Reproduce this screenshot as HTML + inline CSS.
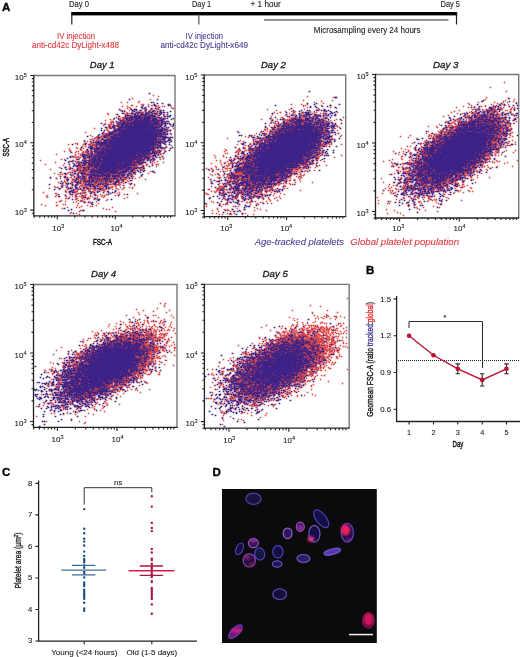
<!DOCTYPE html>
<html><head><meta charset="utf-8"><style>
html,body{margin:0;padding:0;background:#fff;width:520px;height:657px;overflow:hidden}
svg{display:block;font-family:"Liberation Sans", sans-serif;will-change:transform}
</style></head><body>
<svg width="520" height="657" viewBox="0 0 520 657">
<text x="2.0" y="10.6" font-size="11.5" fill="#000" stroke="#000" stroke-width="0.35" font-weight="bold">A</text>
<text x="366.0" y="273.8" font-size="11.5" fill="#000" stroke="#000" stroke-width="0.35" font-weight="bold">B</text>
<text x="2.0" y="475.8" font-size="11.5" fill="#000" stroke="#000" stroke-width="0.35" font-weight="bold">C</text>
<text x="212.6" y="475.8" font-size="11.5" fill="#000" stroke="#000" stroke-width="0.35" font-weight="bold">D</text>
<rect x="71.2" y="12" width="386" height="3.4" fill="#000"/>
<rect x="71.2" y="12" width="1.2" height="12.5" fill="#222"/>
<rect x="198.3" y="14" width="1.1" height="10.5" fill="#444"/>
<rect x="455.9" y="12" width="1.2" height="12.5" fill="#222"/>
<rect x="264" y="19" width="184.5" height="1.8" fill="#888"/>
<text x="69" y="7.2" font-size="8.2" fill="#1a1a1a" stroke="#1a1a1a" stroke-width="0.1" textLength="20" lengthAdjust="spacingAndGlyphs">Day 0</text>
<text x="192" y="7.2" font-size="8.2" fill="#1a1a1a" stroke="#1a1a1a" stroke-width="0.1" textLength="19.2" lengthAdjust="spacingAndGlyphs">Day 1</text>
<text x="250.5" y="7.2" font-size="8.2" fill="#1a1a1a" stroke="#1a1a1a" stroke-width="0.1">+ 1 hour</text>
<text x="440.5" y="7.2" font-size="8.2" fill="#1a1a1a" stroke="#1a1a1a" stroke-width="0.1" textLength="19.5" lengthAdjust="spacingAndGlyphs">Day 5</text>
<text x="57" y="38.5" font-size="8.2" fill="#e2343a" stroke="#e2343a" stroke-width="0.1" textLength="38" lengthAdjust="spacingAndGlyphs">IV injection</text>
<text x="32" y="47.6" font-size="8.2" fill="#e2343a" stroke="#e2343a" stroke-width="0.1" textLength="87" lengthAdjust="spacingAndGlyphs">anti-cd42c DyLight-x488</text>
<text x="185.6" y="38.5" font-size="8.2" fill="#443c96" stroke="#443c96" stroke-width="0.1" textLength="37.4" lengthAdjust="spacingAndGlyphs">IV injection</text>
<text x="160.4" y="47.6" font-size="8.2" fill="#443c96" stroke="#443c96" stroke-width="0.1" textLength="87.6" lengthAdjust="spacingAndGlyphs">anti-cd42c DyLight-x649</text>
<text x="313.8" y="33.2" font-size="8.2" fill="#1a1a1a" stroke="#1a1a1a" stroke-width="0.1" textLength="106.7" lengthAdjust="spacingAndGlyphs">Microsampling every 24 hours</text>
<text x="89.8" y="68" font-size="9.6" fill="#1a1a1a" stroke="#1a1a1a" stroke-width="0.3" font-style="italic" textLength="24.7" lengthAdjust="spacingAndGlyphs">Day 1</text>
<g transform="translate(.5 .5)">
<path d="M132 98h0m18 1h0m-11 2h0m-1 1h0m5 2h0m-11 1h0m19 0h1m-16 1h0m28 0h0m-34 2h0m15 0h0m7 0h0m-1 1h0m-30 1h0m8 0h0m4 0h0m17 0h0m-12 1h0m7 0h0m7 0h0m5 1h0m3 0h0m-37 1h1m3 0h0m2 0h0m8 0h0m3 0h1m7 0h1m7 0h0m-31 1h0m2 0h0m7 0h0m3 0h0m3 0h0m2 0h0m4 0h0m11 0h0m6 0h1m-38 1h0m8 0h0m4 0h0m6 0h0m3 0h0m2 0h0m5 0h0m5 0h0m-41 1h0m37 0h0m-33 1h0m7 0h0m8 0h0m9 0h1m-27 1h0m8 0h1m5 0h0m2 0h1m4 0h0m6 0h0m5 0h0m2 0h0m5 0h0m-49 1h0m8 0h0m8 0h0m3 0h0m3 0h0m2 0h0m5 0h0m7 0h2m10 0h0m5 0h0m-42 1h0m4 0h0m7 0h1m3 0h3m2 0h2m2 0h0m2 0h2m2 0h1m5 0h1m2 0h0m-48 1h0m9 0h0m5 0h1m2 0h2m5 0h0m2 0h0m3 0h0m3 0h0m2 0h0m2 0h0m2 0h0m6 0h0m-46 1h1m9 0h0m2 0h0m2 0h0m6 0h1m5 0h0m2 0h0m5 0h1m3 0h3m8 0h1m-54 1h0m6 0h0m12 0h1m2 0h0m2 0h1m2 0h1m2 0h0m3 0h0m2 0h0m2 0h0m2 0h3m2 0h1m2 0h0m2 0h0m2 0h1m3 0h0m4 0h1m9 0h0m-60 1h0m13 0h0m2 0h0m3 0h6m3 0h1m3 0h1m5 0h1m2 0h0m4 0h0m2 0h0m-45 1h0m3 0h0m2 0h0m2 0h1m3 0h1m3 0h5m2 0h0m8 0h6m2 0h2m3 0h0m3 0h0m5 0h0m5 0h0m-61 1h1m9 0h0m2 0h1m2 0h2m3 0h0m5 0h1m3 0h6m2 0h3m2 0h2m3 0h2m3 0h0m-52 1h0m5 0h0m9 0h6m3 0h2m2 0h4m2 0h1m2 0h0m2 0h0m4 0h0m2 0h0m2 0h0m4 0h0m-48 1h0m7 0h16m2 0h4m2 0h6m2 0h0m3 0h0m8 0h0m12 0h0m-56 1h1m2 0h2m3 0h0m2 0h10m3 0h0m2 0h2m2 0h3m3 0h0m2 0h0m3 0h0m2 0h0m-52 1h0m7 0h4m3 0h3m2 0h13m2 0h1m2 0h5m2 0h0m2 0h1m5 0h0m9 0h1m-61 1h0m4 0h2m2 0h5m2 0h2m2 0h1m2 0h15m2 0h2m2 0h0m3 0h0m4 0h1m-56 1h0m7 0h0m2 0h0m2 0h0m3 0h0m2 0h2m2 0h0m2 0h9m2 0h9m2 0h1m3 0h1m3 0h1m4 0h0m-54 1h0m2 0h0m2 0h0m3 0h0m3 0h1m3 0h11m2 0h13m3 0h2m3 0h1m4 0h0m2 0h0m-59 1h0m3 0h0m4 0h0m2 0h0m2 0h0m2 0h12m2 0h16m2 0h2m2 0h2m3 0h1m3 0h0m4 0h1m-75 1h0m16 0h0m4 0h0m3 0h1m3 0h25m2 0h4m3 0h1m2 0h0m6 0h0m-63 1h1m10 0h2m2 0h0m2 0h31m2 0h6m2 0h1m4 0h0m-60 1h0m11 0h0m5 0h7m2 0h11m2 0h6m2 0h4m2 0h0m2 0h1m7 0h0m2 0h0m-66 1h1m9 0h0m2 0h0m2 0h1m2 0h21m2 0h10m2 0h0m2 0h1m2 0h0m7 0h1m-73 1h1m11 0h1m5 0h2m2 0h0m2 0h0m4 0h6m2 0h19m2 0h4m2 0h0m7 0h0m3 0h0m-79 1h0m12 0h0m2 0h0m7 0h0m5 0h8m2 0h19m2 0h3m2 0h3m2 0h0m3 0h1m3 0h0m12 0h0m-69 1h0m4 0h0m2 0h2m2 0h1m3 0h4m2 0h4m2 0h20m4 0h0m3 0h0m2 0h1m9 0h1m-68 1h0m6 0h2m3 0h3m2 0h1m2 0h7m2 0h17m2 0h4m2 0h0m2 0h1m2 0h0m8 0h0m-88 1h0m8 0h1m14 0h0m3 0h1m2 0h0m4 0h8m2 0h0m2 0h11m2 0h7m2 0h2m3 0h1m2 0h0m2 0h0m-86 1h0m15 0h0m10 0h1m2 0h0m3 0h0m6 0h0m2 0h4m2 0h0m2 0h28m2 0h4m2 0h0m5 0h0m-58 1h0m2 0h1m2 0h1m3 0h2m2 0h2m2 0h4m3 0h28m2 0h0m3 0h0m2 0h0m14 0h0m-86 1h0m17 0h0m2 0h0m2 0h5m2 0h0m2 0h0m2 0h3m2 0h16m2 0h5m2 0h1m3 0h2m13 0h0m-90 1h0m18 0h0m2 0h1m4 0h0m2 0h9m2 0h25m2 0h3m2 0h2m6 0h1m2 0h1m-89 1h0m8 0h0m4 0h0m14 0h0m2 0h1m4 0h0m2 0h1m2 0h2m2 0h3m2 0h0m2 0h0m2 0h1m2 0h22m3 0h0m2 0h0m11 0h0m3 0h0m-74 1h0m9 0h1m5 0h37m2 0h1m3 0h1m5 0h0m-85 1h1m21 0h0m7 0h3m3 0h2m4 0h11m2 0h1m2 0h15m2 0h0m2 0h0m3 0h0m-84 1h0m14 0h0m8 0h0m6 0h0m4 0h0m4 0h0m2 0h1m2 0h0m2 0h10m2 0h4m2 0h4m2 0h3m2 0h5m3 0h0m10 0h0m4 0h1m-77 1h0m8 0h2m4 0h1m3 0h0m2 0h0m2 0h2m2 0h3m2 0h1m2 0h27m2 0h0m2 0h0m6 0h1m10 0h0m-86 1h0m4 0h0m13 0h0m4 0h2m3 0h5m2 0h1m2 0h7m2 0h0m2 0h4m2 0h6m2 0h2m2 0h4m6 0h0m-97 1h0m19 0h0m5 0h0m4 0h0m3 0h0m5 0h4m2 0h31m2 0h8m2 0h3m2 0h0m2 0h1m-74 1h0m5 0h0m2 0h0m6 0h0m6 0h3m2 0h0m2 0h6m3 0h0m2 0h1m2 0h8m2 0h1m3 0h1m2 0h8m2 0h0m2 0h0m2 0h0m6 0h0m3 0h0m-72 1h0m7 0h0m4 0h0m3 0h2m2 0h14m2 0h4m2 0h4m2 0h0m3 0h9m3 0h0m5 0h0m3 0h1m-80 1h0m5 0h0m9 0h0m2 0h0m2 0h0m3 0h0m4 0h7m2 0h0m3 0h2m2 0h8m2 0h11m2 0h1m2 0h0m6 0h0m2 0h0m-69 1h0m4 0h0m6 0h2m2 0h2m3 0h0m2 0h1m2 0h0m2 0h4m2 0h2m2 0h2m2 0h3m2 0h3m2 0h2m2 0h2m2 0h0m2 0h0m2 0h0m3 0h0m5 0h0m-88 1h0m3 0h0m12 0h0m13 0h3m2 0h3m2 0h1m3 0h8m2 0h4m2 0h4m3 0h11m5 0h2m4 0h0m5 0h0m7 0h0m-87 1h0m11 0h0m2 0h0m2 0h1m3 0h0m2 0h1m2 0h0m2 0h12m2 0h12m2 0h10m2 0h1m3 0h0m4 0h0m-77 1h0m8 0h0m6 0h0m6 0h1m3 0h0m2 0h5m2 0h2m2 0h0m2 0h4m2 0h2m2 0h0m3 0h6m5 0h3m3 0h0m13 0h0m-97 1h0m22 0h0m2 0h0m10 0h0m3 0h3m2 0h0m2 0h7m2 0h2m3 0h4m2 0h6m2 0h1m2 0h1m2 0h1m2 0h0m2 0h0m2 0h2m3 0h0m18 0h0m-99 1h0m14 0h0m6 0h0m2 0h0m3 0h1m4 0h2m2 0h1m2 0h1m2 0h4m2 0h2m2 0h14m2 0h0m2 0h0m2 0h2m5 0h0m11 0h0m-73 1h2m7 0h1m2 0h1m3 0h3m2 0h2m2 0h6m2 0h0m2 0h5m2 0h7m2 0h2m4 0h0m5 0h0m5 0h1m11 0h0m-95 1h0m12 0h0m2 0h0m5 0h2m2 0h1m4 0h2m2 0h0m2 0h0m3 0h4m2 0h2m2 0h1m2 0h2m2 0h7m6 0h0m3 0h4m6 0h0m3 0h0m-77 1h0m20 0h0m8 0h4m2 0h0m2 0h10m5 0h0m3 0h0m3 0h2m5 0h2m8 0h0m13 0h0m-86 1h0m9 0h0m2 0h0m4 0h1m4 0h1m4 0h0m2 0h10m2 0h2m4 0h5m3 0h1m8 0h0m2 0h0m3 0h0m-60 1h0m2 0h1m3 0h3m4 0h2m2 0h0m3 0h1m2 0h4m2 0h2m3 0h1m2 0h0m3 0h1m4 0h1m4 0h0m4 0h0m6 0h0m3 0h0m4 0h0m-94 1h0m27 0h3m4 0h0m4 0h1m3 0h0m3 0h2m2 0h10m2 0h8m5 0h0m8 0h0m9 0h0m-67 1h0m5 0h0m4 0h0m2 0h1m4 0h15m2 0h0m3 0h2m5 0h0m4 0h6m5 0h0m2 0h1m7 0h0m-63 1h0m4 0h1m2 0h0m2 0h0m2 0h0m4 0h2m2 0h0m3 0h1m2 0h2m3 0h1m2 0h0m2 0h1m4 0h2m2 0h0m5 0h0m3 0h2m20 0h0m-85 1h0m10 0h2m2 0h0m3 0h0m4 0h0m2 0h1m4 0h0m3 0h3m2 0h1m2 0h0m2 0h0m2 0h0m2 0h1m2 0h0m3 0h0m7 0h0m-39 1h0m9 0h1m3 0h1m2 0h2m2 0h0m3 0h0m2 0h0m5 0h0m4 0h0m8 0h0m19 0h0m-90 1h0m2 0h0m5 0h0m20 0h1m2 0h1m2 0h0m2 0h0m2 0h0m6 0h0m2 0h0m2 0h4m5 0h0m2 0h2m3 0h0m-44 1h0m11 0h0m2 0h2m2 0h3m2 0h0m2 0h0m4 0h0m3 0h0m2 0h0m3 0h0m3 0h0m2 0h0m3 0h0m9 0h0m2 0h0m-68 1h0m18 0h0m2 0h0m2 0h0m5 0h0m2 0h2m5 0h1m3 0h0m3 0h0m3 0h0m5 0h3m13 0h0m2 0h0m-66 1h0m12 0h0m4 0h0m2 0h1m2 0h1m4 0h0m2 0h0m3 0h0m2 0h0m3 0h0m3 0h0m2 0h0m7 0h0m6 0h1m6 0h1m-79 1h0m10 0h0m19 0h0m3 0h0m8 0h6m2 0h0m2 0h0m2 0h2m2 0h1m3 0h0m5 0h0m11 0h0m9 0h0m-69 1h1m5 0h0m2 0h0m10 0h0m4 0h0m2 0h0m3 0h0m7 0h3m5 0h0m2 0h1m2 0h0m2 0h1m8 0h0m-57 1h0m14 0h1m3 0h2m4 0h3m4 0h0m2 0h1m2 0h0m3 0h0m2 0h1m2 0h1m6 0h0m4 0h1m-40 1h0m4 0h0m2 0h0m3 0h0m3 0h2m8 0h0m18 0h0m5 0h0m-50 1h0m6 0h0m7 0h0m7 0h0m2 0h1m4 0h1m9 0h0m4 0h0m7 0h0m-60 1h0m13 0h0m4 0h1m4 0h0m3 0h0m4 0h0m2 0h1m7 0h1m2 0h0m5 0h0m-38 1h0m7 0h0m5 0h0m4 0h0m2 0h1m4 0h0m5 0h1m3 0h4m9 0h0m-36 1h0m4 0h0m7 0h0m2 0h0m8 0h0m11 0h0m3 0h0m-65 1h0m27 0h0m9 0h0m4 0h0m21 0h0m-45 1h0m2 0h0m7 0h0m24 0h0m9 0h0m8 0h0m12 0h0m-72 1h0m8 0h1m15 0h0m4 0h0m18 0h0m17 0h0m-64 1h0m21 0h1m2 0h0m5 0h0m5 0h0m6 0h1m5 0h0m-16 1h0m6 0h0m-29 1h0m4 0h0m6 0h0m12 0h1m3 0h1m11 0h0m4 0h0m-42 1h0m3 0h0m4 0h0m2 0h0m9 0h0m9 0h0m21 0h0m5 0h0m-49 1h0m7 0h1m4 0h0m9 0h0m46 0h0m-67 1h0m16 0h0m9 0h0m5 0h0m6 0h0m13 0h0m-72 1h0m9 0h0m9 0h0m20 0h0m19 0h0m-58 1h0m12 0h0m21 0h0m4 0h0m2 0h0m7 0h0m-45 1h0m22 0h0m15 0h1m3 0h0m-11 1h0m5 0h0m6 0h1m-14 1h1m11 0h0m11 0h0m9 0h0m-26 1h0m-22 1h0m6 0h0m15 0h0m4 0h0m12 0h0m-55 3h0m22 0h0m-18 1h0m12 0h0m35 1h0m-16 1h0m3 0h0m33 0h0m-50 1h0m47 1h0m-28 1h0m-2 1h0m36 0h0" stroke="#e04846" stroke-width="1.55" stroke-linecap="square" fill="none"/>
<path d="M149 93h0m8 6h0m-4 3h0m4 1h0m-3 1h0m-12 1h0m13 0h0m13 0h0m-26 1h0m6 0h0m8 0h0m-11 1h0m14 0h0m-4 1h0m-36 1h0m15 0h1m11 0h0m-14 1h0m4 0h0m9 0h0m8 0h1m-30 1h0m8 0h0m2 0h0m19 0h0m7 0h0m-28 1h0m4 0h0m5 0h1m6 0h0m2 0h1m9 0h1m3 0h0m3 0h0m-45 1h0m5 0h0m4 0h1m6 0h0m3 0h1m4 0h0m6 0h0m9 0h0m-44 1h0m17 0h0m7 0h0m2 0h0m2 0h1m2 0h0m7 0h0m5 0h0m-30 1h0m4 0h0m2 0h2m4 0h0m4 0h0m4 0h0m2 0h0m3 0h0m3 0h0m12 0h0m-51 1h0m6 0h0m5 0h2m3 0h1m2 0h0m2 0h0m2 0h0m2 0h2m3 0h0m4 0h0m11 0h0m5 0h0m-42 1h0m2 0h0m2 0h0m2 0h1m2 0h11m2 0h0m2 0h0m3 0h0m3 0h2m2 0h0m-38 1h1m3 0h0m2 0h0m4 0h0m2 0h2m2 0h3m3 0h0m3 0h1m4 0h1m2 0h0m4 0h0m5 0h0m2 0h0m6 0h0m-50 1h0m3 0h1m5 0h2m2 0h0m4 0h3m4 0h0m6 0h2m6 0h0m10 0h0m-51 1h0m5 0h0m3 0h6m2 0h2m2 0h4m2 0h4m2 0h1m2 0h0m3 0h4m-46 1h0m5 0h0m3 0h0m2 0h1m2 0h2m2 0h8m2 0h0m2 0h0m3 0h1m3 0h1m3 0h0m2 0h0m8 0h1m-54 1h0m10 0h0m2 0h0m3 0h0m2 0h1m2 0h11m2 0h12m3 0h1m3 0h0m-64 1h0m18 0h2m2 0h13m2 0h4m2 0h14m3 0h0m4 0h0m-61 1h0m14 0h0m2 0h1m2 0h1m2 0h1m3 0h22m2 0h4m3 0h1m3 0h0m5 0h0m-61 1h0m7 0h1m5 0h1m2 0h6m4 0h12m2 0h10m14 0h0m-59 1h0m4 0h0m4 0h0m2 0h4m2 0h28m6 0h0m-59 1h0m4 0h0m3 0h0m7 0h2m2 0h2m2 0h0m3 0h23m2 0h0m2 0h2m3 0h0m6 0h0m-67 1h0m9 0h0m4 0h0m4 0h34m2 0h3m5 0h0m2 0h0m-50 1h0m2 0h2m2 0h12m2 0h15m2 0h4m2 0h0m4 0h1m4 0h1m-66 1h0m3 0h0m11 0h0m2 0h2m3 0h24m2 0h3m3 0h1m2 0h2m4 0h1m2 0h0m-52 1h0m2 0h1m3 0h0m5 0h27m2 0h7m-51 1h2m5 0h0m3 0h0m2 0h32m2 0h0m2 0h0m4 0h3m-63 1h0m6 0h0m2 0h0m3 0h0m3 0h0m2 0h37m2 0h1m2 0h0m2 0h0m5 0h0m3 0h0m-63 1h0m2 0h2m2 0h0m2 0h1m2 0h36m2 0h5m-58 1h1m2 0h0m3 0h0m4 0h0m2 0h45m2 0h0m-75 1h0m14 0h0m6 0h0m2 0h0m3 0h0m2 0h2m2 0h4m2 0h32m2 0h5m2 0h0m-69 1h3m3 0h0m2 0h1m5 0h0m3 0h1m2 0h0m2 0h0m2 0h0m3 0h32m2 0h0m3 0h0m3 0h1m2 0h0m6 0h0m-78 1h0m8 0h0m6 0h10m3 0h32m2 0h3m4 0h1m2 0h0m4 0h0m-68 1h2m3 0h1m3 0h0m2 0h1m2 0h4m2 0h37m2 0h0m2 0h0m2 0h0m4 0h0m2 0h0m-77 1h0m7 0h0m8 0h3m2 0h44m4 0h0m3 0h0m4 0h1m-85 1h0m6 0h0m6 0h0m8 0h0m2 0h1m2 0h9m2 0h28m2 0h6m2 0h1m2 0h0m2 0h0m2 0h1m5 0h0m-80 1h0m2 0h0m2 0h0m2 0h0m2 0h0m2 0h0m2 0h0m3 0h0m2 0h10m2 0h31m2 0h1m3 0h1m2 0h0m-75 1h0m11 0h0m2 0h5m3 0h44m3 0h1m2 0h2m5 0h1m-92 1h0m20 0h0m2 0h0m3 0h0m2 0h0m2 0h0m2 0h2m2 0h1m2 0h43m4 0h0m3 0h0m5 0h0m4 0h0m-80 1h0m3 0h0m2 0h0m2 0h0m4 0h0m2 0h2m2 0h0m2 0h6m2 0h35m2 0h0m5 0h2m-70 1h1m13 0h0m3 0h46m2 0h0m3 0h0m2 0h0m-79 1h0m9 0h0m7 0h3m5 0h1m3 0h5m2 0h0m2 0h30m2 0h0m2 0h1m3 0h0m6 0h0m3 0h0m7 0h0m-82 1h1m2 0h1m2 0h0m2 0h2m3 0h0m2 0h2m2 0h41m3 0h2m2 0h0m4 0h0m9 0h0m-90 1h0m7 0h0m7 0h0m3 0h2m2 0h0m4 0h30m2 0h15m2 0h0m-67 1h0m7 0h1m3 0h3m3 0h1m2 0h9m2 0h3m2 0h14m2 0h4m2 0h4m3 0h1m4 0h2m10 0h0m-81 1h0m6 0h2m2 0h0m2 0h9m3 0h20m2 0h11m2 0h0m2 0h0m3 0h1m5 0h0m-71 1h0m8 0h0m3 0h0m2 0h2m2 0h0m2 0h16m2 0h23m2 0h0m4 0h1m3 0h0m-69 1h0m2 0h0m2 0h0m3 0h0m2 0h0m2 0h3m2 0h0m4 0h2m2 0h24m2 0h8m2 0h0m2 0h1m3 0h0m2 0h0m7 0h0m-80 1h1m4 0h0m3 0h1m5 0h0m4 0h2m2 0h5m2 0h17m2 0h5m2 0h2m2 0h1m3 0h4m4 0h1m-73 1h0m4 0h0m2 0h0m2 0h1m4 0h0m2 0h0m2 0h1m4 0h0m2 0h4m2 0h18m2 0h6m2 0h6m3 0h0m5 0h0m-84 1h0m12 0h0m2 0h0m5 0h2m2 0h0m2 0h2m4 0h7m2 0h0m2 0h12m2 0h9m2 0h1m2 0h1m4 0h1m4 0h0m2 0h1m9 0h0m-86 1h0m8 0h0m9 0h0m2 0h0m2 0h0m2 0h3m2 0h29m2 0h6m3 0h4m8 0h0m3 0h0m-75 1h1m4 0h0m3 0h1m2 0h0m3 0h31m2 0h0m3 0h0m2 0h2m2 0h0m3 0h4m6 0h0m10 0h0m-80 1h1m7 0h0m2 0h3m2 0h3m3 0h20m2 0h2m2 0h12m2 0h0m4 0h0m3 0h0m3 0h0m-89 1h0m17 0h0m2 0h0m3 0h3m2 0h1m4 0h0m2 0h0m2 0h19m2 0h10m2 0h1m5 0h0m2 0h1m4 0h0m3 0h0m3 0h0m-84 1h0m15 0h0m5 0h0m3 0h0m2 0h0m2 0h1m2 0h4m3 0h24m2 0h2m2 0h0m2 0h1m4 0h0m-75 1h0m9 0h0m4 0h0m10 0h0m2 0h0m2 0h1m2 0h2m3 0h21m2 0h1m4 0h0m2 0h3m7 0h2m5 0h0m-66 1h0m5 0h1m2 0h0m2 0h4m2 0h10m2 0h9m2 0h4m2 0h3m6 0h0m-64 1h0m5 0h0m5 0h0m6 0h3m2 0h5m2 0h1m2 0h15m2 0h1m2 0h1m2 0h4m7 0h1m16 0h0m-82 1h0m3 0h0m2 0h0m3 0h1m5 0h0m2 0h0m4 0h1m2 0h0m2 0h5m2 0h3m2 0h5m2 0h4m2 0h5m2 0h0m5 0h0m16 0h0m-79 1h0m3 0h0m12 0h4m2 0h1m3 0h16m2 0h0m2 0h0m2 0h1m2 0h1m2 0h0m4 0h0m6 0h0m6 0h0m-77 1h0m16 0h0m3 0h0m3 0h0m2 0h0m5 0h4m3 0h4m3 0h0m2 0h1m2 0h0m3 0h0m2 0h4m3 0h1m4 0h0m4 0h0m2 0h0m2 0h0m2 0h1m-80 1h0m8 0h1m2 0h0m5 0h0m8 0h0m6 0h3m2 0h4m2 0h10m2 0h5m4 0h1m2 0h0m2 0h1m4 0h0m2 0h1m3 0h0m-73 1h0m19 0h1m2 0h0m3 0h3m2 0h2m2 0h0m2 0h2m2 0h7m2 0h1m2 0h0m2 0h0m5 0h2m3 0h0m2 0h1m-53 1h0m2 0h0m2 0h0m2 0h0m3 0h0m2 0h4m5 0h2m3 0h3m2 0h0m2 0h1m2 0h2m3 0h0m3 0h2m2 0h0m4 0h0m2 0h0m4 0h0m3 0h0m-66 1h1m4 0h0m2 0h0m2 0h0m2 0h2m3 0h11m2 0h1m3 0h1m2 0h1m2 0h1m3 0h1m3 0h5m4 0h0m8 0h0m5 0h0m9 0h0m-92 1h0m10 0h0m14 0h0m5 0h0m2 0h0m2 0h1m4 0h1m2 0h0m2 0h1m4 0h6m2 0h1m2 0h0m3 0h0m3 0h0m15 0h0m14 0h0m-76 1h0m4 0h2m8 0h0m5 0h0m2 0h2m4 0h1m2 0h2m3 0h0m2 0h0m4 0h1m3 0h0m6 0h0m2 0h0m-61 1h0m3 0h0m9 0h0m3 0h3m3 0h0m2 0h4m4 0h2m3 0h0m2 0h3m10 0h0m2 0h1m7 0h0m11 0h0m-71 1h0m7 0h0m4 0h0m4 0h0m4 0h1m2 0h1m2 0h1m2 0h0m2 0h0m2 0h2m2 0h3m2 0h0m3 0h0m3 0h0m4 0h0m2 0h0m3 0h0m-62 1h0m9 0h0m6 0h0m10 0h0m5 0h0m4 0h2m5 0h3m4 0h1m3 0h2m4 0h0m-59 1h0m13 0h1m13 0h2m8 0h0m2 0h1m2 0h0m8 0h1m3 0h0m4 0h0m-66 1h0m11 0h0m13 0h1m3 0h0m6 0h0m3 0h0m2 0h1m2 0h1m2 0h4m4 0h0m2 0h2m4 0h1m7 0h0m7 0h0m-64 1h0m5 0h0m9 0h1m2 0h0m3 0h0m2 0h1m4 0h0m2 0h1m3 0h0m5 0h2m4 0h1m8 0h0m2 0h0m-43 1h0m9 0h0m2 0h0m2 0h0m3 0h0m4 0h0m3 0h0m3 0h1m2 0h0m8 0h0m2 0h0m11 0h1m-54 1h1m2 0h0m5 0h4m3 0h2m2 0h3m2 0h0m4 0h0m8 0h0m3 0h0m2 0h0m-46 1h0m9 0h0m10 0h0m4 0h0m2 0h1m9 0h0m9 0h0m2 0h0m3 0h0m4 0h0m-65 1h0m2 0h0m4 0h0m4 0h0m10 0h0m9 0h0m8 0h0m5 0h2m10 0h1m16 0h0m-82 1h0m18 0h0m5 0h0m5 0h0m8 0h0m2 0h0m2 0h1m2 0h2m4 0h2m15 0h0m3 0h0m-46 1h0m4 0h0m6 0h0m14 0h0m9 0h0m18 0h0m-56 1h0m8 0h0m11 0h0m3 0h1m2 0h2m3 0h0m2 0h0m5 0h2m-49 1h0m9 0h0m9 0h1m7 0h1m2 0h0m8 0h0m12 0h0m4 0h0m-51 1h0m17 0h0m4 0h0m3 0h0m7 0h0m4 0h1m2 0h1m2 0h2m4 0h0m3 0h0m7 0h0m-41 1h0m3 0h0m10 0h0m6 0h0m6 0h0m3 0h1m-33 1h0m2 0h0m9 0h0m2 0h0m31 0h0m-46 1h1m2 0h0m18 0h0m9 0h0m8 0h0m8 0h0m-43 1h0m2 0h0m11 0h0m6 0h0m3 0h0m9 0h0m5 0h0m-28 1h0m-22 1h0m12 0h0m2 0h0m4 0h0m18 0h0m14 0h0m-43 1h0m10 0h0m7 0h0m36 0h0m-59 1h0m17 0h0m7 1h0m-15 1h0m26 0h1m-23 1h0m25 0h0m14 0h0m-30 1h0m17 0h0m-14 2h0m4 0h0m4 0h0m0 2h0m-21 5h0m-3 1h0m15 0h0m-10 3h0" stroke="#3a2288" stroke-width="1.7" stroke-linecap="square" fill="none"/>
<path d="M153 95h0m5 1h0m-37 6h0m6 0h0m14 2h0m7 0h0m21 0h0m-38 1h0m12 0h0m15 0h0m-36 1h0m5 0h0m28 0h1m6 0h0m-33 1h0m29 0h0m13 0h0m-44 1h0m29 0h1m15 0h1m-28 1h0m5 0h0m6 0h0m-36 1h1m3 0h0m16 0h1m20 0h0m-16 1h0m3 0h1m5 0h1m4 0h0m-33 1h0m6 0h0m8 0h1m2 0h0m-36 1h0m41 0h0m5 0h0m2 0h0m-47 1h0m8 0h0m16 0h0m3 0h0m11 0h0m-17 1h0m2 0h0m8 0h0m7 0h0m2 0h0m3 0h0m4 0h0m8 0h0m-36 1h0m11 0h0m3 0h1m4 0h0m4 0h0m6 0h0m9 0h0m2 0h0m-51 1h0m7 0h0m3 0h0m10 0h0m6 0h1m7 0h2m-27 1h0m8 0h0m2 0h1m6 0h0m-29 1h0m6 0h0m3 0h1m6 0h1m2 0h1m3 0h0m2 0h0m4 0h0m8 0h0m9 0h0m5 0h0m-59 1h0m19 0h0m2 0h0m6 0h0m7 0h2m2 0h1m4 0h0m8 0h0m-45 1h1m9 0h1m4 0h0m3 0h0m3 0h0m5 0h0m3 0h0m11 0h0m7 0h0m3 0h0m5 0h0m-50 1h0m2 0h1m5 0h3m3 0h0m22 0h0m6 0h0m3 0h0m-41 1h0m7 0h1m3 0h0m12 0h1m2 0h0m4 0h0m11 0h2m-55 1h0m2 0h1m17 0h0m2 0h0m5 0h0m6 0h0m2 0h1m3 0h0m2 0h1m6 0h0m3 0h0m-56 1h0m12 0h0m9 0h0m2 0h0m3 0h0m3 0h0m3 0h0m4 0h0m11 0h0m4 0h0m2 0h0m2 0h1m-51 1h0m8 0h2m8 0h0m6 0h0m2 0h0m20 0h0m3 0h0m-46 1h2m5 0h0m5 0h1m3 0h1m13 0h0m18 0h0m-65 1h0m13 0h0m15 0h1m2 0h0m2 0h0m2 0h0m27 0h0m11 0h0m-61 1h0m8 0h2m5 0h0m2 0h0m4 0h0m18 0h0m4 0h0m7 0h0m-48 1h0m15 0h0m2 0h1m23 0h0m4 0h1m2 0h0m6 0h0m2 0h0m2 0h0m4 0h0m-57 1h0m5 0h0m31 0h0m3 0h0m6 0h1m-74 1h0m24 0h2m3 0h1m2 0h0m35 0h1m9 0h0m-58 1h0m4 0h0m8 0h0m49 0h0m-62 1h0m12 0h0m5 0h0m33 0h1m8 0h0m9 0h0m-69 1h1m4 0h0m3 0h0m3 0h0m2 0h0m5 0h2m36 0h0m7 0h0m-73 1h0m9 0h0m2 0h0m4 0h0m2 0h0m9 0h0m38 0h3m-63 1h0m2 0h0m4 0h0m4 0h1m5 0h0m5 0h0m36 0h0m18 0h0m-76 1h0m15 0h0m38 0h0m2 0h0m6 0h1m-65 1h0m5 0h0m7 0h0m4 0h0m39 0h0m10 0h0m-61 1h0m2 0h0m2 0h0m3 0h0m8 0h0m2 0h1m34 0h0m6 0h0m3 0h0m3 0h1m-74 1h0m7 0h0m14 0h0m43 0h1m2 0h0m-62 1h0m7 0h0m11 0h0m6 0h0m35 0h0m-76 1h0m15 0h1m13 0h1m3 0h0m43 0h1m4 0h1m2 0h1m-83 1h0m6 0h0m5 0h5m2 0h0m9 0h0m42 0h0m2 0h0m-55 1h0m10 0h0m4 0h0m3 0h0m2 0h0m37 0h0m-67 1h0m3 0h0m10 0h0m4 0h0m5 0h0m41 0h1m4 0h0m3 0h0m5 0h0m-65 1h0m6 0h0m3 0h0m42 0h1m6 0h0m4 0h0m6 0h0m5 0h0m-83 1h0m10 0h0m6 0h0m7 0h1m3 0h0m37 0h0m3 0h1m3 0h2m8 0h0m-78 1h0m14 0h0m43 0h0m10 0h0m6 0h0m-78 1h0m9 0h0m8 0h0m3 0h0m50 0h0m3 0h0m7 0h0m3 0h0m-94 1h0m6 0h0m7 0h0m2 0h0m10 0h0m6 0h0m2 0h1m36 0h2m14 0h0m2 0h0m-83 1h0m8 0h0m2 0h0m6 0h0m13 0h1m2 0h0m37 0h0m2 0h0m3 0h0m8 0h0m-71 1h0m3 0h1m5 0h1m6 0h0m37 0h0m4 0h0m6 0h0m9 0h0m2 0h0m-80 1h0m5 0h0m16 0h0m2 0h1m32 0h3m2 0h0m2 0h0m7 0h0m10 0h1m-77 1h0m4 0h0m6 0h0m3 0h0m3 0h0m2 0h0m34 0h0m2 0h0m4 0h0m4 0h0m4 0h0m7 0h1m-84 1h0m4 0h0m6 0h0m13 0h0m3 0h0m38 0h0m2 0h0m3 0h0m6 0h0m2 0h0m2 0h0m-78 1h1m4 0h0m9 0h0m9 0h0m47 0h1m14 0h0m-70 1h0m3 0h1m2 0h0m33 0h1m2 0h0m5 0h0m6 0h0m5 0h0m15 0h0m-80 1h0m2 0h0m16 0h0m36 0h0m3 0h2m3 0h0m8 0h0m-113 1h0m32 0h0m14 0h0m6 0h0m10 0h1m31 0h1m2 0h0m5 0h0m-71 1h0m7 0h0m10 0h0m39 0h1m4 0h0m8 0h1m16 0h0m-77 1h0m3 0h0m2 0h0m6 0h0m4 0h1m3 0h0m36 0h0m3 0h0m3 0h1m12 0h0m-78 1h0m13 0h0m4 0h0m7 0h0m18 0h0m5 0h0m2 0h0m7 0h0m5 0h0m3 0h0m-95 1h0m34 0h0m2 0h1m10 0h1m2 0h0m4 0h0m3 0h0m2 0h0m18 0h0m8 0h1m2 0h0m3 0h1m10 0h0m5 0h0m4 0h0m-77 1h1m6 0h0m3 0h0m8 0h0m3 0h0m27 0h1m-43 1h0m2 0h0m2 0h1m2 0h0m28 0h0m10 0h0m4 0h2m6 0h0m-83 1h0m6 0h0m13 0h0m2 0h2m13 0h0m2 0h1m13 0h0m20 0h0m11 0h1m-65 1h1m7 0h0m4 0h0m2 0h0m3 0h0m5 0h0m14 0h0m3 0h0m2 0h1m2 0h0m6 0h0m10 0h0m-69 1h1m4 0h0m3 0h1m4 0h0m3 0h0m7 0h0m3 0h0m2 0h0m4 0h1m3 0h0m6 0h0m5 0h0m6 0h0m2 0h0m4 0h0m6 0h0m8 0h0m-70 1h0m2 0h0m2 0h0m13 0h0m2 0h0m3 0h0m8 0h0m11 0h0m2 0h0m5 0h0m2 0h0m11 0h0m2 0h0m-56 1h0m2 0h0m2 0h0m2 0h0m2 0h2m9 0h1m16 0h0m2 0h1m15 0h0m17 0h0m-89 1h0m9 0h0m5 0h0m10 0h0m11 0h0m2 0h1m4 0h0m5 0h1m6 0h0m10 0h1m4 0h0m4 0h0m-80 1h0m13 0h0m7 0h1m5 0h0m13 0h0m3 0h0m9 0h0m2 0h0m6 0h0m5 0h0m15 0h0m-71 1h0m4 0h0m18 0h0m5 0h0m9 0h0m2 0h0m8 0h0m2 0h1m4 0h0m2 0h0m3 0h0m5 0h0m4 0h0m6 0h0m-63 1h0m5 0h0m6 0h0m3 0h0m3 0h1m7 0h0m20 0h1m3 0h0m9 0h0m-29 1h1m19 0h0m3 0h0m17 0h0m-76 1h0m5 0h1m3 0h0m2 0h1m2 0h0m13 0h2m2 0h0m4 0h1m2 0h0m8 0h1m5 0h1m3 0h0m2 0h1m8 0h0m7 0h0m-83 1h0m21 0h1m4 0h0m2 0h0m2 0h0m10 0h0m2 0h0m2 0h1m4 0h0m12 0h0m4 0h0m3 0h2m3 0h0m-57 1h0m4 0h2m6 0h0m4 0h0m2 0h1m15 0h0m2 0h0m4 0h0m8 0h0m5 0h0m20 0h0m-81 1h0m3 0h0m5 0h0m6 0h0m3 0h0m5 0h0m3 0h0m5 0h0m5 0h0m4 0h0m2 0h0m3 0h0m5 0h0m14 0h0m-63 1h0m3 0h0m4 0h0m4 0h0m2 0h0m6 0h0m2 0h0m10 0h0m3 0h0m2 0h0m7 0h0m3 0h1m4 0h0m4 0h0m3 0h1m-65 1h0m5 0h0m2 0h0m10 0h0m6 0h0m3 0h1m12 0h0m6 0h0m4 0h0m7 0h1m-47 1h0m3 0h0m22 0h3m2 0h0m6 0h0m2 0h0m6 0h0m7 0h0m4 0h0m6 0h0m-67 1h0m20 0h0m4 0h0m8 0h0m3 0h0m5 0h0m2 0h2m5 0h0m2 0h0m3 0h1m17 0h0m-69 1h0m10 0h0m5 0h0m2 0h0m5 0h0m3 0h0m5 0h0m8 0h0m5 0h0m26 0h0m-72 1h0m17 0h0m5 0h1m6 0h0m8 0h3m10 0h0m3 0h0m-60 1h0m7 0h0m9 0h1m15 0h0m3 0h0m9 0h1m10 0h1m13 0h0m5 0h0m-80 1h0m22 0h0m15 0h1m5 0h1m23 0h0m16 0h0m-65 1h0m8 0h0m8 0h1m6 0h0m4 0h0m3 0h0m5 0h0m2 0h1m3 0h0m4 0h0m6 0h0m4 0h0m-57 1h0m12 0h0m8 0h0m10 0h0m6 0h0m2 0h0m-38 1h0m9 0h1m2 0h0m5 0h0m7 0h0m9 0h0m-55 1h0m39 0h1m31 0h0m-59 1h1m28 0h0m10 0h0m23 0h0m-42 1h1m30 0h0m18 0h0m-49 1h0m6 0h0m3 0h0m6 0h0m7 0h0m5 0h0m13 0h0m-60 1h0m11 0h0m6 0h0m9 0h0m9 0h0m11 0h0m3 0h0m-35 1h0m6 0h0m6 0h1m15 0h0m6 0h0m24 0h0m-62 1h1m10 0h0m19 0h0m29 0h0m-40 1h0m10 0h0m-33 1h0m17 0h0m28 0h0m-46 1h0m16 0h0m6 0h1m6 0h0m-33 1h0m17 0h0m12 0h0m5 0h0m-12 1h0m20 0h0m-33 1h0m-9 1h0m21 0h0m10 0h0m9 0h0m-15 1h0m9 0h0m-23 1h0m36 1h0m3 1h0m-26 1h0m-9 2h0m-1 1h0m6 0h0m3 1h0" stroke="#e04846" stroke-width="1.55" stroke-linecap="square" fill="none"/>
<path d="M129 99h0m22 3h0m11 1h0m6 1h0m-14 1h0m16 0h0m-29 2h0m1 1h0m2 0h0m7 0h0m-20 1h0m5 0h0m22 0h0m-18 1h0m5 0h0m15 0h0m3 0h0m-41 1h0m27 0h0m3 0h0m5 0h0m13 0h0m-32 1h1m7 0h0m17 0h0m-31 1h0m3 0h0m10 0h0m3 0h0m6 0h0m2 0h0m3 0h0m-24 1h0m11 0h0m5 0h0m16 0h0m-42 1h0m2 0h1m12 0h0m2 0h0m3 0h0m5 0h0m2 0h1m-19 1h0m4 0h1m8 0h3m2 0h2m10 0h0m3 0h0m2 0h0m-44 1h0m5 0h0m2 0h0m2 0h3m5 0h0m2 0h1m4 0h0m-35 1h0m4 0h0m8 0h0m5 0h0m4 0h3m2 0h0m4 0h0m2 0h4m2 0h0m3 0h0m8 0h0m-34 1h0m2 0h1m4 0h1m6 0h3m2 0h1m3 0h0m4 0h0m6 0h1m-43 1h0m2 0h0m5 0h0m2 0h0m5 0h0m2 0h0m3 0h1m2 0h3m2 0h0m5 0h0m2 0h0m3 0h0m3 0h0m-40 1h0m3 0h1m12 0h0m2 0h2m2 0h0m2 0h2m2 0h0m2 0h0m3 0h0m2 0h0m2 0h1m4 0h0m2 0h0m4 0h0m-50 1h0m6 0h0m3 0h0m4 0h4m2 0h0m2 0h0m2 0h3m2 0h1m2 0h0m4 0h0m8 0h1m-45 1h0m4 0h3m2 0h2m2 0h0m3 0h0m2 0h4m2 0h1m3 0h1m2 0h1m2 0h0m2 0h0m2 0h0m2 0h1m3 0h0m3 0h0m3 0h0m2 0h0m-47 1h2m5 0h2m2 0h12m2 0h0m2 0h0m3 0h0m3 0h1m2 0h0m15 0h0m-60 1h0m9 0h0m3 0h2m3 0h0m4 0h0m2 0h0m3 0h6m2 0h4m8 0h0m2 0h0m4 0h0m-53 1h0m6 0h0m2 0h1m4 0h7m2 0h14m2 0h1m3 0h2m4 0h0m12 0h0m-66 1h0m7 0h1m7 0h1m2 0h0m2 0h0m2 0h6m2 0h13m2 0h4m2 0h2m7 0h0m-48 1h0m3 0h0m5 0h0m2 0h4m2 0h3m3 0h9m2 0h3m3 0h0m5 0h0m-48 1h0m2 0h0m3 0h0m3 0h7m2 0h5m2 0h6m2 0h2m3 0h4m5 0h0m2 0h0m3 0h0m-47 1h3m2 0h2m2 0h0m2 0h20m2 0h0m2 0h0m2 0h0m2 0h6m7 0h0m-57 1h0m2 0h0m4 0h0m2 0h1m2 0h3m2 0h0m2 0h8m2 0h12m4 0h0m2 0h2m5 0h1m-64 1h0m6 0h0m2 0h0m4 0h0m4 0h1m2 0h10m2 0h18m2 0h0m2 0h0m4 0h0m4 0h0m-54 1h0m2 0h0m8 0h31m2 0h0m3 0h0m2 0h2m3 0h0m-64 1h0m7 0h0m3 0h1m5 0h1m3 0h0m3 0h1m4 0h14m2 0h1m2 0h4m2 0h1m2 0h5m3 0h2m2 0h0m-69 1h0m10 0h0m5 0h2m3 0h3m2 0h0m2 0h12m2 0h18m-53 1h1m6 0h0m4 0h0m6 0h4m2 0h23m2 0h0m3 0h1m2 0h1m6 0h0m-60 1h1m5 0h2m2 0h34m2 0h2m2 0h0m12 0h1m2 0h0m-72 1h0m14 0h1m3 0h0m2 0h1m3 0h1m2 0h9m2 0h14m2 0h1m2 0h0m-47 1h0m5 0h0m4 0h5m5 0h19m2 0h5m3 0h0m3 0h0m-55 1h2m4 0h2m2 0h1m2 0h2m2 0h29m2 0h1m2 0h0m-57 1h0m6 0h0m5 0h1m2 0h4m2 0h1m2 0h26m2 0h4m3 0h0m4 0h0m-63 1h2m3 0h0m2 0h1m5 0h3m2 0h1m2 0h1m2 0h15m2 0h4m3 0h0m4 0h0m2 0h3m2 0h1m2 0h0m3 0h0m7 0h0m-65 1h1m3 0h1m2 0h1m4 0h32m2 0h4m5 0h1m4 0h0m-79 1h0m18 0h0m4 0h1m4 0h3m2 0h0m2 0h2m2 0h0m2 0h26m3 0h1m2 0h0m-56 1h0m3 0h0m2 0h2m2 0h0m2 0h5m2 0h8m2 0h11m2 0h2m2 0h4m2 0h0m3 0h0m-64 1h0m5 0h0m4 0h0m10 0h0m2 0h0m2 0h0m2 0h2m2 0h2m2 0h1m2 0h4m2 0h11m2 0h1m2 0h0m3 0h0m6 0h0m-70 1h0m2 0h0m2 0h0m8 0h0m3 0h0m4 0h0m2 0h0m3 0h2m3 0h5m2 0h18m2 0h8m2 0h0m3 0h1m2 0h0m-69 1h1m4 0h2m2 0h0m3 0h0m3 0h0m6 0h4m2 0h0m2 0h5m3 0h6m2 0h6m2 0h4m3 0h2m10 0h0m-72 1h0m5 0h2m4 0h1m2 0h0m3 0h2m2 0h1m2 0h0m2 0h1m2 0h5m2 0h18m2 0h0m2 0h4m-66 1h0m8 0h0m7 0h0m3 0h2m2 0h4m2 0h7m2 0h4m2 0h3m2 0h2m2 0h6m2 0h1m2 0h0m-59 1h0m3 0h0m3 0h0m4 0h2m3 0h0m3 0h7m2 0h2m2 0h8m4 0h0m3 0h2m2 0h5m2 0h1m6 0h0m5 0h0m5 0h0m-94 1h0m24 0h0m3 0h5m2 0h1m2 0h3m2 0h0m2 0h1m2 0h3m2 0h6m6 0h1m2 0h0m3 0h1m2 0h1m4 0h0m3 0h0m4 0h0m3 0h0m-68 1h0m6 0h5m2 0h1m3 0h0m2 0h0m2 0h17m3 0h1m2 0h1m3 0h0m4 0h0m3 0h2m3 0h1m-70 1h0m15 0h0m5 0h1m2 0h0m3 0h9m2 0h6m2 0h0m2 0h5m3 0h1m3 0h0m2 0h1m4 0h0m10 0h0m-74 1h0m2 0h0m8 0h0m4 0h3m5 0h0m2 0h1m2 0h0m3 0h5m2 0h9m2 0h0m2 0h0m3 0h2m2 0h0m4 0h0m8 0h0m-81 1h0m11 0h0m5 0h0m8 0h2m3 0h0m2 0h0m2 0h14m3 0h3m2 0h0m2 0h0m2 0h1m2 0h0m2 0h0m3 0h0m2 0h2m4 0h0m8 0h0m-85 1h0m14 0h1m2 0h0m2 0h0m3 0h0m3 0h0m3 0h2m3 0h4m2 0h3m2 0h1m2 0h4m2 0h0m2 0h3m5 0h0m2 0h3m3 0h0m3 0h0m2 0h0m3 0h0m-82 1h0m27 0h0m4 0h0m6 0h1m2 0h0m3 0h0m2 0h0m2 0h2m2 0h9m2 0h1m2 0h0m7 0h0m2 0h0m6 0h1m4 0h0m-75 1h1m14 0h0m2 0h1m2 0h0m6 0h0m2 0h2m3 0h3m2 0h3m2 0h0m2 0h1m2 0h0m5 0h2m4 0h0m2 0h0m3 0h0m2 0h0m5 0h0m6 0h0m-69 1h0m8 0h0m2 0h0m5 0h3m2 0h0m2 0h10m2 0h2m3 0h2m3 0h3m5 0h0m2 0h0m2 0h0m9 0h0m-78 1h0m3 0h0m10 0h0m7 0h1m2 0h0m2 0h0m2 0h1m3 0h2m4 0h0m2 0h1m3 0h1m3 0h6m2 0h1m2 0h1m3 0h0m4 0h0m-59 1h0m2 0h0m2 0h0m2 0h2m2 0h0m4 0h0m4 0h2m4 0h1m2 0h0m3 0h1m4 0h0m2 0h3m2 0h0m4 0h0m2 0h0m2 0h2m6 0h2m2 0h0m-68 1h0m10 0h1m4 0h0m3 0h1m2 0h2m6 0h1m2 0h0m3 0h1m2 0h2m2 0h0m9 0h1m4 0h0m5 0h0m6 0h0m2 0h0m-73 1h0m10 0h0m6 0h0m4 0h1m4 0h0m2 0h0m2 0h0m2 0h0m2 0h1m2 0h1m2 0h1m5 0h0m2 0h0m3 0h1m2 0h6m2 0h2m3 0h0m4 0h0m-61 1h0m11 0h0m2 0h1m4 0h2m3 0h0m2 0h0m2 0h2m3 0h1m2 0h0m5 0h0m2 0h1m2 0h0m2 0h4m3 0h2m-57 1h0m3 0h0m12 0h0m4 0h0m2 0h0m3 0h1m3 0h2m3 0h2m3 0h1m2 0h1m2 0h3m3 0h0m16 0h0m6 0h0m-84 1h0m18 0h0m5 0h0m7 0h1m3 0h1m3 0h3m3 0h5m2 0h0m3 0h1m3 0h1m4 0h1m2 0h0m-47 1h0m4 0h0m11 0h0m3 0h0m3 0h0m3 0h0m3 0h6m3 0h2m6 0h1m5 0h0m9 0h0m-66 1h0m15 0h0m6 0h0m2 0h4m3 0h0m5 0h1m6 0h2m5 0h0m2 0h0m2 0h0m-53 1h0m6 0h0m8 0h0m3 0h5m2 0h5m2 0h2m2 0h5m6 0h1m8 0h0m12 0h0m-51 1h0m2 0h2m2 0h1m4 0h1m3 0h6m2 0h0m8 0h1m3 0h0m3 0h0m-59 1h0m9 0h0m9 0h2m4 0h0m2 0h3m2 0h0m2 0h0m2 0h0m3 0h0m3 0h2m2 0h0m3 0h0m2 0h3m8 0h0m2 0h0m-71 1h1m10 0h0m6 0h0m3 0h0m10 0h0m5 0h1m2 0h0m5 0h0m5 0h0m2 0h0m4 0h0m10 0h1m5 0h0m-57 1h0m5 0h0m7 0h1m4 0h0m3 0h0m5 0h2m4 0h1m10 0h0m8 0h0m-36 1h1m4 0h0m2 0h0m3 0h0m4 0h0m3 0h0m5 0h0m2 0h0m2 0h1m3 0h0m2 0h0m5 0h0m13 0h0m-81 1h0m18 0h0m5 0h1m5 0h0m2 0h0m6 0h0m2 0h0m3 0h0m5 0h0m5 0h1m4 0h0m10 0h0m4 0h0m-81 1h0m15 0h0m13 0h0m4 0h0m2 0h0m5 0h1m4 0h0m3 0h0m23 0h0m5 0h1m-50 1h0m8 0h0m5 0h0m3 0h0m5 0h0m8 0h0m2 0h0m2 0h0m5 0h1m5 0h0m9 0h0m-53 1h0m16 0h0m7 0h0m5 0h1m2 0h0m10 0h0m-50 1h0m8 0h0m9 0h0m5 0h0m3 0h0m14 0h0m16 0h0m-61 1h0m13 0h0m10 0h1m3 0h1m4 0h0m10 0h0m3 0h0m3 0h0m2 0h0m5 0h1m-41 1h2m8 0h0m3 0h0m6 0h0m15 0h0m5 0h0m-47 1h0m9 0h0m23 0h0m5 0h0m9 0h0m-42 1h0m5 0h0m8 0h1m2 0h1m3 0h0m6 0h0m4 0h0m5 0h0m7 0h0m16 0h0m-68 1h0m13 0h0m15 0h0m3 0h0m12 0h1m-45 1h0m34 1h0m11 0h0m2 0h0m-40 1h0m2 0h0m7 0h0m10 0h0m-33 1h0m19 0h0m26 0h0m-2 2h0m-28 1h0m28 0h0m15 0h0m-32 1h0m10 0h0m20 0h0m17 1h0m-32 1h0m-10 2h0m2 1h0m7 0h0m5 1h0m-8 4h0m-27 5h0m19 2h0" stroke="#3a2288" stroke-width="1.7" stroke-linecap="square" fill="none"/>
</g>
<path d="M33.8 75.5H175V215.8" stroke="#777" stroke-width="1.4" fill="none"/>
<path d="M33.8 74.8V215.8H175.5" stroke="#222" stroke-width="1.3" fill="none"/>
<path d="M31.8 213.2H33.8M30.3 210.1H33.8M31.8 189.8H33.8M31.8 178.0H33.8M31.8 169.6H33.8M31.8 163.1H33.8M31.8 157.7H33.8M31.8 153.2H33.8M31.8 149.3H33.8M31.8 145.9H33.8M30.3 142.8H33.8M31.8 122.5H33.8M31.8 110.7H33.8M31.8 102.3H33.8M31.8 95.8H33.8M31.8 90.4H33.8M31.8 85.9H33.8M31.8 82.0H33.8M31.8 78.6H33.8M30.3 75.5H33.8M34.2 215.8V217.8M39.8 215.8V217.8M44.4 215.8V217.8M48.3 215.8V217.8M51.7 215.8V217.8M54.6 215.8V217.8M57.3 215.8V219.3M74.8 215.8V217.8M85.0 215.8V217.8M92.2 215.8V217.8M97.8 215.8V217.8M102.4 215.8V217.8M106.3 215.8V217.8M109.7 215.8V217.8M112.6 215.8V217.8M115.3 215.8V219.3M132.8 215.8V217.8M143.0 215.8V217.8M150.2 215.8V217.8M155.8 215.8V217.8M160.4 215.8V217.8M164.3 215.8V217.8M167.7 215.8V217.8M170.6 215.8V217.8" stroke="#222" stroke-width="1.1" fill="none"/>
<text x="26.9" y="80.0" font-size="8" fill="#1a1a1a" stroke="#1a1a1a" stroke-width="0.1" text-anchor="end">10<tspan font-size="5.6" dy="-3">5</tspan></text>
<text x="26.9" y="147.3" font-size="8" fill="#1a1a1a" stroke="#1a1a1a" stroke-width="0.1" text-anchor="end">10<tspan font-size="5.6" dy="-3">4</tspan></text>
<text x="26.9" y="214.6" font-size="8" fill="#1a1a1a" stroke="#1a1a1a" stroke-width="0.1" text-anchor="end">10<tspan font-size="5.6" dy="-3">3</tspan></text>
<text x="52.3" y="231.3" font-size="8" fill="#1a1a1a" stroke="#1a1a1a" stroke-width="0.1">10<tspan font-size="5.6" dy="-3">3</tspan></text>
<text x="110.5" y="231.3" font-size="8" fill="#1a1a1a" stroke="#1a1a1a" stroke-width="0.1">10<tspan font-size="5.6" dy="-3">4</tspan></text>
<text x="261" y="68" font-size="9.6" fill="#1a1a1a" stroke="#1a1a1a" stroke-width="0.3" font-style="italic" textLength="24.8" lengthAdjust="spacingAndGlyphs">Day 2</text>
<g transform="translate(.5 .5)">
<path d="M332 100h0m-9 3h0m-32 1h0m16 0h0m0 3h0m11 1h0m18 0h0m-69 1h0m37 0h0m13 0h0m-41 1h0m47 0h0m-30 1h0m2 0h0m19 0h0m10 0h0m-44 1h0m27 0h0m9 0h0m21 0h0m-60 1h0m12 0h0m4 0h0m8 0h0m2 0h0m17 0h0m6 0h0m-31 1h0m4 0h0m25 0h0m-20 1h0m15 0h0m-17 1h2m10 0h0m4 0h0m2 0h0m-38 1h0m10 0h0m4 0h0m7 0h0m6 0h0m-9 1h0m5 0h2m-46 1h0m11 0h0m5 0h0m10 0h0m2 0h0m9 0h1m2 0h0m2 0h0m-12 1h0m7 0h1m6 0h0m2 0h1m9 0h0m3 0h0m-36 1h0m7 0h0m4 0h1m4 0h0m4 0h0m9 0h0m-35 1h0m6 0h0m4 0h0m6 0h0m3 0h0m6 0h0m7 0h0m2 0h0m19 0h0m-57 1h0m9 0h0m7 0h0m3 0h1m2 0h0m4 0h0m2 0h0m3 0h0m2 0h0m4 0h0m3 0h1m6 0h0m6 0h0m5 0h0m-56 1h0m7 0h0m2 0h0m9 0h0m3 0h1m2 0h1m2 0h0m2 0h1m2 0h0m10 0h0m2 0h0m13 0h0m-54 1h0m4 0h2m4 0h1m3 0h0m2 0h0m2 0h0m2 0h0m2 0h0m8 0h0m4 0h1m-33 1h0m2 0h0m5 0h1m4 0h0m3 0h0m2 0h2m2 0h0m2 0h0m2 0h2m9 0h1m-36 1h0m6 0h1m2 0h1m3 0h1m2 0h1m3 0h0m2 0h4m3 0h0m4 0h0m2 0h0m2 0h0m3 0h0m17 0h0m-66 1h0m7 0h0m8 0h0m4 0h0m3 0h1m4 0h4m3 0h2m3 0h1m6 0h1m9 0h0m5 0h1m-70 1h0m13 0h0m3 0h1m3 0h1m3 0h2m2 0h0m2 0h1m3 0h6m3 0h0m3 0h0m2 0h0m6 0h0m-49 1h0m3 0h0m6 0h0m3 0h0m5 0h0m2 0h1m2 0h2m2 0h0m2 0h1m3 0h7m2 0h1m5 0h0m2 0h0m3 0h1m2 0h0m-58 1h0m5 0h0m3 0h0m3 0h0m2 0h0m2 0h0m2 0h0m2 0h3m2 0h1m2 0h2m2 0h6m3 0h2m2 0h0m3 0h1m5 0h0m-60 1h0m10 0h0m3 0h0m4 0h0m2 0h0m3 0h1m2 0h1m2 0h5m2 0h2m3 0h2m2 0h3m2 0h1m2 0h1m2 0h1m19 0h0m-72 1h0m12 0h2m3 0h0m2 0h1m3 0h0m2 0h1m2 0h2m3 0h6m2 0h5m3 0h1m3 0h0m14 0h0m-67 1h0m9 0h0m2 0h0m6 0h3m2 0h1m3 0h5m2 0h0m2 0h2m2 0h4m2 0h1m2 0h1m6 0h1m2 0h0m3 0h0m-60 1h0m4 0h1m6 0h0m2 0h1m2 0h2m2 0h22m2 0h2m5 0h0m26 0h0m-96 1h0m6 0h0m17 0h0m7 0h2m2 0h0m2 0h3m2 0h0m2 0h0m3 0h1m2 0h8m2 0h2m2 0h0m2 0h0m4 0h0m4 0h0m-65 1h0m17 0h0m2 0h2m2 0h4m2 0h0m2 0h1m2 0h0m2 0h1m2 0h6m2 0h6m2 0h3m4 0h0m2 0h1m13 0h0m-104 1h0m30 0h0m11 0h3m2 0h6m2 0h15m2 0h15m2 0h0m2 0h2m3 0h0m4 0h0m6 0h0m-77 1h0m12 0h0m4 0h1m2 0h0m2 0h0m2 0h19m2 0h1m2 0h2m2 0h3m2 0h0m5 0h0m4 0h0m5 0h0m7 0h0m-92 1h0m20 0h0m4 0h0m2 0h0m2 0h2m4 0h0m2 0h8m2 0h13m2 0h7m3 0h2m2 0h0m4 0h0m11 0h0m5 0h0m-92 1h0m17 0h0m4 0h0m5 0h0m2 0h0m6 0h0m2 0h1m2 0h16m2 0h1m2 0h2m2 0h2m4 0h3m3 0h0m2 0h0m4 0h0m-65 1h0m5 0h1m3 0h0m2 0h0m2 0h1m2 0h24m2 0h1m2 0h3m3 0h1m4 0h0m3 0h1m-79 1h0m15 0h0m8 0h0m3 0h23m2 0h13m2 0h1m3 0h1m3 0h0m3 0h0m4 0h1m8 0h0m-72 1h0m2 0h0m2 0h0m4 0h0m3 0h0m2 0h1m2 0h0m2 0h0m2 0h18m2 0h12m4 0h0m3 0h1m2 0h1m-62 1h0m6 0h1m2 0h33m2 0h1m2 0h1m2 0h0m2 0h4m4 0h0m6 0h0m-71 1h0m6 0h0m2 0h0m3 0h1m2 0h2m2 0h1m2 0h24m2 0h0m2 0h1m2 0h0m2 0h3m2 0h0m4 0h0m-69 1h0m7 0h0m2 0h0m2 0h0m2 0h3m2 0h0m5 0h2m3 0h2m2 0h19m2 0h0m2 0h3m4 0h0m2 0h0m5 0h0m-79 1h0m10 0h1m4 0h0m3 0h0m2 0h0m3 0h1m2 0h1m3 0h1m2 0h6m3 0h24m2 0h1m4 0h0m6 0h1m-80 1h0m15 0h0m5 0h0m5 0h0m2 0h4m2 0h27m2 0h5m2 0h4m4 0h0m-90 1h0m19 0h1m2 0h0m2 0h0m2 0h0m2 0h0m8 0h3m2 0h6m2 0h26m2 0h4m2 0h0m6 0h0m4 0h0m5 0h0m-100 1h0m14 0h0m6 0h0m5 0h0m3 0h0m3 0h4m2 0h3m2 0h13m2 0h0m2 0h19m5 0h4m7 0h0m-82 1h0m17 0h0m2 0h2m3 0h2m4 0h1m2 0h8m3 0h7m3 0h6m2 0h4m2 0h0m2 0h3m2 0h0m3 0h0m2 0h0m3 0h0m-94 1h0m17 0h0m9 0h0m4 0h0m3 0h4m3 0h14m2 0h12m2 0h3m2 0h1m3 0h0m3 0h3m2 0h0m4 0h0m2 0h0m3 0h0m4 0h0m-78 1h0m7 0h0m9 0h4m2 0h8m2 0h3m2 0h19m2 0h1m2 0h1m-95 1h0m31 0h0m2 0h0m2 0h2m5 0h0m2 0h1m2 0h1m2 0h3m2 0h6m2 0h15m3 0h10m3 0h0m3 0h0m15 0h0m15 0h0m-106 1h0m2 0h0m6 0h1m10 0h1m2 0h0m2 0h0m2 0h2m3 0h14m2 0h7m2 0h9m2 0h2m2 0h0m3 0h1m3 0h1m2 0h1m-102 1h0m11 0h0m12 0h0m11 0h0m3 0h2m2 0h1m3 0h1m2 0h1m2 0h0m2 0h15m2 0h14m5 0h0m4 0h0m2 0h0m7 0h0m-73 1h0m2 0h0m5 0h1m3 0h0m2 0h3m2 0h0m2 0h10m2 0h6m2 0h5m2 0h7m3 0h1m6 0h0m7 0h0m3 0h0m-78 1h0m2 0h0m2 0h1m4 0h3m2 0h0m3 0h1m2 0h2m3 0h11m2 0h3m2 0h13m2 0h4m2 0h0m2 0h0m2 0h0m8 0h0m-100 1h0m4 0h0m9 0h0m2 0h0m21 0h0m2 0h5m2 0h5m2 0h2m2 0h8m2 0h10m2 0h0m2 0h0m4 0h0m2 0h0m5 0h0m4 0h0m6 0h0m-79 1h0m9 0h0m2 0h0m2 0h4m2 0h3m2 0h1m2 0h6m2 0h1m2 0h14m2 0h0m3 0h1m2 0h2m3 0h0m6 0h0m15 0h0m-99 1h0m16 0h2m5 0h0m3 0h1m3 0h0m3 0h0m5 0h6m2 0h2m2 0h0m2 0h2m2 0h8m2 0h4m6 0h0m3 0h1m7 0h0m5 0h0m-106 1h0m21 0h1m2 0h0m8 0h1m2 0h0m2 0h1m4 0h0m2 0h1m2 0h1m2 0h8m2 0h3m2 0h3m2 0h7m4 0h6m3 0h0m2 0h0m2 0h1m-85 1h0m16 0h0m8 0h0m3 0h1m4 0h5m2 0h1m2 0h14m2 0h2m2 0h8m4 0h2m13 0h0m-84 1h0m17 0h1m2 0h2m2 0h0m2 0h4m2 0h0m3 0h13m2 0h1m3 0h1m2 0h3m2 0h0m2 0h3m2 0h2m6 0h2m21 0h0m-111 1h0m7 0h0m5 0h0m8 0h0m6 0h0m2 0h2m3 0h0m2 0h0m2 0h3m2 0h1m2 0h0m2 0h17m2 0h3m2 0h0m2 0h0m2 0h1m4 0h0m2 0h1m19 0h0m-80 1h0m3 0h1m2 0h0m2 0h0m2 0h0m5 0h3m2 0h0m2 0h8m2 0h13m2 0h4m3 0h2m2 0h0m5 0h0m4 0h0m6 0h0m-99 1h0m14 0h1m3 0h1m6 0h0m6 0h3m3 0h0m3 0h3m3 0h3m2 0h11m3 0h5m2 0h1m2 0h0m3 0h2m3 0h0m4 0h1m-63 1h0m2 0h0m2 0h0m5 0h2m2 0h3m2 0h3m2 0h2m2 0h4m2 0h0m2 0h1m2 0h3m2 0h2m2 0h0m2 0h1m2 0h0m2 0h2m3 0h0m2 0h1m3 0h0m-92 1h0m30 0h5m2 0h1m3 0h2m2 0h1m2 0h9m2 0h2m2 0h0m2 0h0m2 0h3m2 0h1m2 0h0m4 0h1m11 0h0m-80 1h0m5 0h0m8 0h0m2 0h0m5 0h2m4 0h0m5 0h0m2 0h0m3 0h0m3 0h1m2 0h0m3 0h3m2 0h8m2 0h5m5 0h0m2 0h0m4 0h1m-62 1h0m5 0h0m2 0h0m3 0h1m3 0h1m2 0h2m3 0h0m3 0h1m2 0h0m2 0h0m2 0h3m2 0h2m2 0h0m2 0h0m4 0h1m7 0h0m2 0h0m-75 1h0m21 0h0m4 0h4m3 0h0m3 0h2m2 0h0m4 0h1m3 0h0m2 0h0m2 0h1m2 0h2m3 0h0m2 0h3m5 0h1m7 0h0m2 0h0m-64 1h1m2 0h0m5 0h1m2 0h0m7 0h0m2 0h4m2 0h1m4 0h1m5 0h0m2 0h2m2 0h2m2 0h2m2 0h0m7 0h0m7 0h0m7 0h0m-81 1h0m5 0h0m8 0h1m2 0h0m2 0h0m4 0h4m2 0h0m3 0h0m2 0h0m4 0h2m2 0h0m2 0h1m2 0h2m2 0h1m3 0h0m3 0h0m4 0h0m2 0h1m3 0h0m-63 1h0m3 0h0m2 0h0m2 0h0m3 0h0m5 0h0m3 0h3m3 0h3m4 0h0m2 0h0m2 0h1m3 0h0m2 0h0m4 0h3m4 0h0m2 0h0m3 0h0m2 0h1m-79 1h0m18 0h0m2 0h0m9 0h1m5 0h2m2 0h1m3 0h0m5 0h5m2 0h1m3 0h4m2 0h0m4 0h1m2 0h1m6 0h0m11 0h0m3 0h0m-73 1h0m3 0h0m4 0h1m3 0h0m2 0h1m3 0h0m2 0h1m3 0h2m4 0h0m2 0h0m2 0h0m2 0h0m3 0h4m3 0h0m3 0h1m5 0h1m2 0h0m-44 1h0m3 0h1m2 0h0m4 0h0m3 0h0m3 0h2m2 0h1m3 0h1m2 0h1m2 0h3m5 0h0m3 0h1m16 0h0m-62 1h0m5 0h0m2 0h0m3 0h1m3 0h0m5 0h3m2 0h0m2 0h0m2 0h1m2 0h0m3 0h1m3 0h0m9 0h1m4 0h0m-72 1h0m11 0h1m3 0h0m6 0h0m4 0h0m2 0h0m3 0h0m5 0h2m2 0h3m2 0h4m2 0h0m12 0h0m6 0h0m15 0h0m-71 1h0m3 0h1m7 0h2m4 0h0m2 0h0m3 0h0m2 0h0m4 0h0m2 0h0m3 0h1m6 0h0m4 0h0m5 0h0m-59 1h0m9 0h0m7 0h0m2 0h2m3 0h0m4 0h0m4 0h0m4 0h1m10 0h1m4 0h0m2 0h0m6 0h0m3 0h0m2 0h0m3 0h0m-60 1h0m7 0h0m5 0h1m2 0h0m4 0h1m6 0h0m5 0h0m2 0h0m3 0h0m14 0h0m3 0h0m11 0h0m-61 1h1m8 0h0m6 0h1m2 0h1m2 0h2m4 0h0m4 0h0m5 0h1m5 0h0m4 0h0m9 0h0m-64 1h0m2 0h0m13 0h0m4 0h0m4 0h0m4 0h0m5 0h0m4 0h1m5 0h1m10 0h0m12 0h0m-63 1h0m2 0h0m7 0h0m2 0h0m9 0h0m3 0h1m3 0h1m3 0h0m2 0h0m11 0h1m4 0h1m-55 1h0m3 0h0m9 0h0m6 0h0m2 0h0m7 0h1m11 0h0m3 0h0m3 0h0m2 0h0m8 0h0m-63 1h0m34 0h1m5 0h4m22 0h0m-57 1h0m18 0h0m3 0h0m2 0h1m6 0h0m3 0h0m3 0h1m7 0h0m5 0h0m3 0h0m4 0h0m26 0h0m-89 1h0m3 0h0m18 0h0m16 0h0m2 0h0m16 0h0m9 0h1m-61 1h0m8 0h0m18 0h0m2 0h0m5 0h0m5 0h0m4 0h1m3 0h0m5 0h0m5 0h0m6 0h0m-57 1h0m11 0h0m6 0h1m2 0h0m3 0h0m37 0h0m-73 1h1m15 0h0m2 0h0m13 0h0m6 0h0m3 0h1m5 0h0m7 0h0m2 0h0m-33 1h0m12 0h0m8 0h1m4 0h0m11 0h0m8 0h0m-49 1h0m26 1h0m3 0h0m4 0h0m11 0h0m-34 1h2m14 0h0m24 0h0m-43 1h1m11 0h0m-16 1h0m50 0h0m-66 1h0m18 0h0m9 0h0m3 0h1m4 1h0m3 0h0m-30 1h0m48 0h0m-48 1h1m3 0h0m27 0h0m6 0h0m-11 1h0m-24 1h0m12 0h0m5 0h0m19 2h0m-40 1h0m7 0h0m3 0h0m5 0h0m12 0h0m16 0h0m-48 1h0m16 0h0m5 1h0m7 0h0m-6 2h0m-15 1h0m3 0h0m7 0h0m2 0h0" stroke="#e04846" stroke-width="1.55" stroke-linecap="square" fill="none"/>
<path d="M335 97h0m-28 6h0m32 1h0m-64 1h0m55 0h0m-20 1h0m5 0h0m12 0h0m-17 1h0m6 0h0m-25 1h0m33 1h0m-31 1h0m14 0h0m9 0h0m5 0h0m9 1h0m6 0h0m-34 1h1m2 0h1m2 0h0m23 0h0m3 0h0m-35 1h0m9 0h0m15 0h0m2 0h0m7 0h0m-46 1h0m6 0h0m13 0h0m2 0h0m7 0h1m13 0h0m-37 1h0m5 0h0m4 0h1m2 0h0m3 0h1m2 0h0m6 0h1m4 0h0m6 0h0m2 0h0m-41 1h0m2 0h0m10 0h0m5 0h1m4 0h0m5 0h0m2 0h1m3 0h0m3 0h0m-28 1h0m5 0h0m10 0h2m4 0h0m14 0h0m-60 1h0m23 0h0m2 0h0m2 0h0m3 0h0m5 0h0m3 0h5m4 0h1m6 0h2m-46 1h0m2 0h0m2 0h0m8 0h1m5 0h0m2 0h0m2 0h0m5 0h1m4 0h0m3 0h0m6 0h1m6 0h0m-41 1h1m4 0h0m4 0h2m5 0h1m2 0h0m3 0h0m2 0h1m7 0h1m3 0h0m-48 1h0m8 0h0m8 0h1m2 0h1m2 0h0m2 0h0m2 0h1m2 0h2m6 0h0m4 0h1m2 0h0m3 0h0m4 0h0m2 0h0m-45 1h0m3 0h1m5 0h1m6 0h1m2 0h0m4 0h0m4 0h0m5 0h0m2 0h0m3 0h3m5 0h0m3 0h0m-66 1h0m13 0h0m5 0h0m2 0h0m3 0h1m2 0h0m3 0h2m2 0h2m2 0h0m2 0h1m2 0h2m2 0h0m3 0h2m2 0h0m2 0h0m2 0h1m3 0h0m2 0h0m4 0h0m3 0h0m6 0h0m-57 1h0m2 0h0m2 0h0m4 0h0m2 0h1m2 0h2m2 0h1m3 0h0m2 0h0m2 0h0m5 0h3m4 0h0m5 0h0m9 0h0m-57 1h0m4 0h1m3 0h0m3 0h0m3 0h2m2 0h3m2 0h2m2 0h2m2 0h1m3 0h0m3 0h0m4 0h0m3 0h0m2 0h0m2 0h1m3 0h0m3 0h0m-69 1h0m12 0h2m2 0h0m2 0h1m2 0h0m2 0h7m2 0h3m2 0h10m3 0h0m2 0h2m2 0h0m3 0h0m3 0h0m2 0h0m2 0h1m2 0h0m3 0h0m-72 1h0m19 0h0m2 0h1m4 0h0m3 0h1m4 0h2m2 0h1m2 0h2m2 0h4m2 0h0m2 0h7m8 0h0m-60 1h0m4 0h2m2 0h1m3 0h0m2 0h10m2 0h10m3 0h1m3 0h7m4 0h1m-53 1h0m4 0h1m2 0h8m2 0h5m2 0h10m2 0h7m3 0h2m2 0h0m-51 1h0m6 0h1m2 0h14m2 0h8m3 0h5m2 0h0m4 0h2m2 0h2m4 0h0m2 0h0m-72 1h0m9 0h0m5 0h3m2 0h0m2 0h2m2 0h4m2 0h2m2 0h16m2 0h0m2 0h0m2 0h2m3 0h0m2 0h1m2 0h1m-91 1h0m34 0h0m4 0h0m5 0h1m2 0h0m2 0h27m4 0h2m2 0h2m2 0h1m2 0h0m3 0h1m2 0h0m-65 1h0m2 0h0m5 0h2m2 0h2m2 0h1m2 0h1m2 0h8m2 0h4m2 0h15m3 0h0m4 0h0m10 0h0m-79 1h0m6 0h0m4 0h0m3 0h0m3 0h0m2 0h5m2 0h15m2 0h14m2 0h3m5 0h0m2 0h1m7 0h0m-96 1h0m2 0h0m8 0h0m2 0h0m17 0h0m5 0h0m2 0h40m4 0h0m2 0h0m5 0h0m3 0h0m-72 1h0m11 0h0m2 0h3m2 0h0m3 0h3m2 0h3m2 0h30m2 0h0m3 0h0m3 0h0m3 0h2m-79 1h0m2 0h0m4 0h0m7 0h1m2 0h0m4 0h3m2 0h1m2 0h41m4 0h1m2 0h1m-71 1h0m2 0h0m2 0h1m3 0h0m3 0h0m5 0h4m2 0h2m2 0h32m2 0h2m5 0h0m3 0h0m11 0h0m-78 1h0m3 0h0m5 0h1m2 0h4m2 0h2m2 0h24m2 0h6m3 0h0m7 0h1m2 0h0m-65 1h0m3 0h0m2 0h0m3 0h2m2 0h5m2 0h32m2 0h3m3 0h0m6 0h0m-89 1h0m21 0h0m6 0h0m4 0h0m3 0h0m3 0h2m2 0h36m2 0h4m2 0h0m4 0h0m2 0h0m5 0h0m-77 1h0m5 0h0m3 0h0m3 0h1m2 0h43m5 0h0m5 0h0m2 0h0m-83 1h0m11 0h0m3 0h0m3 0h0m2 0h1m5 0h0m2 0h1m3 0h4m2 0h2m2 0h34m2 0h0m6 0h0m-84 1h1m7 0h0m11 0h0m2 0h0m2 0h7m2 0h37m4 0h1m2 0h2m4 0h1m-77 1h0m11 0h0m5 0h3m2 0h1m2 0h39m2 0h2m2 0h1m2 0h2m-71 1h0m4 0h0m4 0h0m2 0h0m3 0h0m2 0h0m2 0h6m2 0h30m3 0h3m2 0h1m4 0h0m10 0h0m7 0h0m-101 1h0m8 0h0m12 0h0m3 0h12m2 0h1m2 0h9m2 0h28m2 0h2m-75 1h0m7 0h0m2 0h0m2 0h0m2 0h0m3 0h3m2 0h0m2 0h2m2 0h2m2 0h38m3 0h2m5 0h0m-83 1h0m10 0h0m2 0h0m2 0h5m4 0h1m2 0h0m2 0h11m2 0h26m2 0h1m2 0h2m3 0h0m3 0h0m8 0h0m-75 1h0m2 0h0m3 0h4m2 0h34m2 0h6m2 0h0m3 0h0m4 0h0m2 0h1m3 0h0m-60 1h3m3 0h42m2 0h0m2 0h0m10 0h0m4 0h0m-84 1h0m7 0h1m5 0h3m2 0h49m2 0h1m2 0h1m2 0h0m2 0h0m6 0h0m8 0h0m-86 1h0m3 0h0m2 0h0m4 0h2m2 0h1m2 0h38m2 0h3m3 0h0m3 0h2m3 0h0m2 0h0m8 0h0m-83 1h0m6 0h1m3 0h0m3 0h1m2 0h24m2 0h21m2 0h0m2 0h0m6 0h1m4 0h0m-87 1h0m13 0h1m2 0h6m3 0h0m2 0h5m3 0h37m2 0h0m2 0h0m2 0h0m4 0h0m9 0h0m2 0h0m-92 1h0m4 0h0m8 0h0m2 0h0m2 0h0m2 0h1m2 0h5m2 0h1m2 0h13m2 0h1m2 0h20m2 0h0m2 0h1m3 0h1m-84 1h0m12 0h1m3 0h4m2 0h0m2 0h5m2 0h8m2 0h31m2 0h0m3 0h1m2 0h1m2 0h2m-81 1h0m11 0h0m2 0h0m2 0h6m4 0h0m2 0h0m2 0h21m2 0h2m3 0h14m3 0h0m2 0h0m2 0h0m4 0h0m8 0h0m-90 1h0m8 0h0m4 0h1m4 0h26m2 0h23m2 0h0m2 0h2m14 0h0m-91 1h0m12 0h0m3 0h0m3 0h1m5 0h0m2 0h24m2 0h10m2 0h2m2 0h1m4 0h0m2 0h0m7 0h0m3 0h0m-78 1h0m9 0h0m2 0h0m2 0h1m4 0h4m2 0h0m4 0h6m2 0h15m2 0h2m3 0h0m3 0h2m2 0h1m3 0h1m4 0h0m-75 1h0m6 0h0m3 0h1m2 0h0m3 0h5m2 0h1m2 0h2m2 0h17m2 0h1m2 0h1m2 0h4m2 0h1m2 0h0m5 0h1m3 0h0m-70 1h3m3 0h0m3 0h3m2 0h0m2 0h0m2 0h11m2 0h1m2 0h14m3 0h1m2 0h0m2 0h0m2 0h2m2 0h1m8 0h0m3 0h0m3 0h0m-84 1h0m7 0h1m2 0h0m2 0h0m3 0h0m2 0h0m2 0h2m2 0h0m3 0h9m3 0h16m2 0h0m2 0h1m2 0h3m5 0h1m3 0h0m2 0h0m-71 1h2m6 0h0m2 0h0m2 0h3m2 0h4m2 0h23m2 0h0m2 0h2m2 0h4m2 0h0m3 0h0m8 0h0m-73 1h1m2 0h0m6 0h0m3 0h1m2 0h3m2 0h0m2 0h3m3 0h6m2 0h11m2 0h0m3 0h0m2 0h3m4 0h1m8 0h2m-83 1h0m9 0h0m7 0h2m3 0h2m2 0h2m2 0h0m3 0h0m2 0h3m3 0h18m2 0h4m3 0h5m5 0h0m4 0h0m2 0h0m-69 1h1m6 0h1m2 0h2m2 0h0m3 0h11m2 0h9m2 0h7m4 0h4m10 0h0m3 0h0m-98 1h0m10 0h0m16 0h1m3 0h0m3 0h2m5 0h1m2 0h7m2 0h7m3 0h1m2 0h13m3 0h0m2 0h1m4 0h0m-66 1h0m5 0h5m2 0h1m2 0h0m3 0h2m3 0h4m2 0h3m2 0h0m2 0h2m2 0h3m2 0h9m2 0h2m3 0h0m18 0h0m10 0h0m-107 1h0m11 0h0m15 0h0m3 0h1m3 0h1m2 0h0m2 0h0m2 0h4m2 0h3m2 0h4m3 0h12m2 0h0m2 0h0m2 0h0m2 0h1m3 0h0m7 0h0m6 0h0m-76 1h0m5 0h0m2 0h0m4 0h1m4 0h0m2 0h3m2 0h3m2 0h1m2 0h6m2 0h0m2 0h8m3 0h0m2 0h3m-59 1h0m3 0h0m2 0h0m4 0h0m3 0h0m6 0h0m2 0h0m3 0h0m2 0h0m3 0h7m2 0h1m2 0h4m2 0h0m2 0h2m3 0h2m2 0h3m5 0h2m-63 1h0m10 0h0m2 0h2m2 0h0m2 0h0m2 0h0m4 0h1m2 0h0m2 0h2m3 0h0m3 0h3m2 0h1m2 0h0m4 0h2m3 0h0m4 0h0m3 0h0m-61 1h1m2 0h1m2 0h2m5 0h0m2 0h1m2 0h2m2 0h1m2 0h2m2 0h1m2 0h8m2 0h0m3 0h3m2 0h1m2 0h0m-55 1h2m2 0h0m4 0h0m4 0h2m2 0h0m3 0h1m2 0h1m2 0h1m2 0h3m2 0h2m2 0h5m3 0h1m12 0h0m10 0h0m-75 1h0m5 0h0m2 0h0m2 0h0m3 0h1m5 0h2m2 0h5m2 0h1m2 0h0m2 0h2m2 0h1m4 0h1m2 0h0m2 0h2m2 0h3m2 0h0m4 0h1m2 0h0m-69 1h0m11 0h1m2 0h0m2 0h0m6 0h0m3 0h0m6 0h0m2 0h0m2 0h1m2 0h0m3 0h6m2 0h1m2 0h0m3 0h2m3 0h0m3 0h3m-60 1h0m9 0h0m3 0h2m2 0h4m3 0h4m3 0h5m2 0h2m2 0h1m2 0h8m2 0h0m2 0h0m5 0h0m-61 1h0m2 0h0m3 0h0m4 0h0m11 0h0m2 0h0m3 0h0m4 0h2m3 0h2m4 0h2m2 0h3m2 0h0m3 0h2m2 0h0m2 0h0m3 0h0m8 0h0m-83 1h0m8 0h0m11 0h0m3 0h2m2 0h0m6 0h0m2 0h0m2 0h8m2 0h0m3 0h1m2 0h1m2 0h1m3 0h0m4 0h0m4 0h0m-49 1h0m7 0h0m4 0h2m2 0h0m2 0h1m2 0h1m7 0h2m4 0h0m8 0h0m6 0h0m8 0h0m-74 1h1m14 0h0m7 0h1m6 0h0m6 0h1m2 0h0m2 0h3m7 0h1m2 0h0m2 0h0m3 0h0m5 0h2m-53 1h0m7 0h0m6 0h0m2 0h2m2 0h1m3 0h3m3 0h1m2 0h1m2 0h1m4 0h0m3 0h0m2 0h2m5 0h0m19 0h0m-69 1h0m11 0h0m2 0h1m2 0h0m2 0h0m3 0h1m2 0h3m2 0h2m3 0h0m2 0h0m2 0h0m5 0h0m-49 1h0m5 0h1m9 0h1m2 0h1m7 0h0m2 0h2m4 0h0m2 0h0m3 0h0m3 0h0m2 0h0m4 0h0m2 0h0m2 0h0m12 0h0m-68 1h0m20 0h0m2 0h1m8 0h0m6 0h0m2 0h3m2 0h1m4 0h0m2 0h1m3 0h0m-52 1h0m3 0h0m2 0h0m10 0h0m2 0h0m3 0h1m3 0h0m2 0h0m2 0h0m2 0h1m3 0h0m3 0h2m8 0h0m-42 1h0m3 0h0m4 0h0m6 0h1m8 0h1m7 0h0m7 0h0m2 0h0m3 0h0m5 0h0m9 0h0m-43 1h0m2 0h0m2 0h0m3 0h1m8 0h0m2 0h0m4 0h0m2 0h1m4 0h0m13 0h0m4 0h0m-59 1h0m11 0h0m4 0h0m3 0h0m6 0h0m3 0h2m4 0h0m4 0h0m5 0h0m9 0h0m3 0h0m-54 1h0m9 0h0m2 0h0m3 0h1m17 0h0m3 0h0m-33 1h0m13 0h0m4 0h0m5 0h0m2 0h0m2 0h0m-25 1h0m11 0h0m5 0h0m2 0h0m3 0h1m6 0h0m8 0h0m8 0h0m-49 1h0m2 0h0m6 0h0m3 0h0m15 0h0m7 0h0m8 0h0m3 0h0m4 0h0m-56 1h0m4 0h0m7 0h0m4 0h0m5 0h0m4 0h0m5 0h0m3 0h0m4 0h0m2 0h0m9 0h0m5 0h0m-42 1h0m12 0h0m8 0h0m6 0h0m4 0h0m9 0h0m-34 1h0m2 0h0m20 0h1m7 0h0m5 0h0m-38 1h0m2 0h1m4 0h0m13 0h0m-18 1h0m10 0h1m6 0h0m7 0h0m-18 1h0m-16 1h0m10 0h0m8 0h0m-9 1h0m11 0h0m26 0h0m-24 1h0m-20 1h0m37 0h0m-7 1h0m-5 1h0m-19 3h0m14 0h0m-5 1h0m3 0h0m-14 1h0m7 1h0m6 1h0" stroke="#3a2288" stroke-width="1.7" stroke-linecap="square" fill="none"/>
<path d="M307 96h0m26 1h0m-30 3h0m18 1h0m-7 1h0m-13 2h0m2 1h0m2 0h0m16 0h0m-18 1h0m27 1h0m-41 2h0m30 0h0m-34 2h0m6 0h0m19 0h0m14 0h0m-50 1h0m6 0h0m13 0h1m9 0h0m7 0h0m4 0h0m-13 1h0m2 0h0m9 0h0m11 0h0m-51 1h0m45 0h0m7 0h0m-39 1h0m34 0h0m15 0h0m-63 1h0m18 0h0m7 0h0m10 0h0m2 0h0m6 0h0m-33 1h0m8 0h0m6 0h0m2 0h0m3 0h0m2 0h0m10 0h0m3 0h0m12 0h0m16 0h0m-60 1h0m9 0h0m5 0h0m13 0h0m6 0h0m5 0h0m2 0h1m-42 1h0m2 0h0m5 0h0m2 0h0m3 0h0m8 0h0m6 0h0m6 0h0m5 0h0m17 0h0m-65 1h0m14 0h2m2 0h0m2 0h0m4 0h0m28 0h0m2 0h0m5 0h0m4 0h0m7 0h0m-64 1h0m10 0h0m2 0h0m2 0h1m9 0h1m2 0h0m2 0h1m3 0h0m7 0h0m7 0h0m4 0h0m-55 1h0m14 0h0m4 0h0m5 0h0m5 0h1m13 0h0m3 0h0m4 0h0m3 0h0m-55 1h0m5 0h0m6 0h0m4 0h0m3 0h0m5 0h1m2 0h0m5 0h1m4 0h0m4 0h0m5 0h0m6 0h0m2 0h0m-45 1h0m8 0h0m2 0h0m4 0h0m3 0h0m3 0h0m2 0h1m2 0h0m6 0h2m2 0h0m2 0h0m-46 1h0m5 0h0m2 0h0m3 0h0m5 0h0m2 0h0m4 0h0m4 0h2m13 0h0m4 0h0m4 0h0m8 0h0m11 0h0m-62 1h0m19 0h0m4 0h0m9 0h0m2 0h0m12 0h0m3 0h0m2 0h0m6 0h0m-65 1h0m6 0h0m6 0h0m3 0h0m2 0h1m3 0h0m2 0h0m3 0h0m8 0h1m16 0h0m-50 1h0m12 0h0m3 0h1m5 0h0m2 0h1m2 0h1m2 0h0m5 0h0m7 0h0m7 0h0m3 0h0m3 0h0m2 0h0m2 0h0m7 0h0m-68 1h0m3 0h0m10 0h0m2 0h2m3 0h0m2 0h0m4 0h0m8 0h0m2 0h1m2 0h0m2 0h0m3 0h1m-44 1h0m6 0h0m2 0h0m2 0h2m4 0h2m4 0h0m5 0h1m2 0h0m3 0h1m8 0h0m6 0h0m2 0h0m8 0h1m13 0h0m-100 1h0m26 0h0m8 0h0m3 0h0m8 0h3m5 0h0m14 0h0m10 0h0m7 0h0m2 0h0m-49 1h1m2 0h0m3 0h0m4 0h2m6 0h0m14 0h0m8 0h0m6 0h0m6 0h0m3 0h0m-73 1h0m8 0h0m2 0h0m5 0h0m4 0h3m5 0h0m16 0h1m8 0h0m4 0h1m9 0h2m2 0h0m-60 1h0m3 0h0m4 0h0m10 0h1m29 0h0m7 0h1m-67 1h0m18 0h0m4 0h3m34 0h0m2 0h0m2 0h1m14 0h0m-83 1h0m24 0h1m33 0h0m4 0h0m5 0h2m8 0h0m14 0h0m-92 1h0m12 0h0m3 0h0m15 0h0m5 0h0m37 0h0m5 0h0m-69 1h1m7 0h0m5 0h0m3 0h0m4 0h1m37 0h0m5 0h0m-54 1h0m10 0h0m2 0h1m35 0h0m4 0h0m10 0h0m-74 1h0m6 0h0m2 0h0m5 0h0m10 0h1m33 0h0m7 0h0m5 0h0m-69 1h0m3 0h1m10 0h0m4 0h0m8 0h0m32 0h0m5 0h0m-63 1h0m3 0h0m3 0h0m2 0h0m5 0h1m45 0h0m4 0h0m15 0h0m-81 1h0m3 0h0m6 0h0m8 0h1m39 0h0m4 0h2m6 0h0m8 0h1m-91 1h0m16 0h0m3 0h0m6 0h0m2 0h0m49 0h0m3 0h0m6 0h0m4 0h0m3 0h0m2 0h0m10 0h0m-96 1h0m7 0h0m9 0h0m8 0h0m38 0h0m2 0h0m10 0h1m4 0h0m-76 1h0m2 0h0m7 0h0m7 0h1m43 0h1m4 0h0m5 0h0m3 0h0m5 0h0m-82 1h0m12 0h1m10 0h0m2 0h0m51 0h0m-76 1h1m10 0h3m2 0h0m4 0h0m3 0h1m38 0h0m3 0h0m10 0h0m2 0h0m-96 1h0m13 0h0m10 0h0m6 0h0m12 0h0m37 0h0m2 0h1m3 0h0m2 0h0m-74 1h0m3 0h0m9 0h0m7 0h0m2 0h0m4 0h0m47 0h3m4 0h0m-80 1h0m3 0h0m11 0h1m4 0h1m7 0h0m44 0h0m3 0h0m6 0h0m2 0h0m-83 1h0m3 0h0m20 0h0m7 0h0m41 0h0m7 0h0m2 0h0m8 0h0m-96 1h0m11 0h0m4 0h0m10 0h0m15 0h0m35 0h0m5 0h0m11 0h0m2 0h0m-63 1h0m42 0h0m4 0h0m4 0h0m2 0h0m8 0h0m-94 1h0m19 0h0m2 0h1m2 0h0m3 0h0m5 0h0m56 0h0m3 0h0m3 0h0m3 0h1m-98 1h0m14 0h0m11 0h1m9 0h0m2 0h1m37 0h0m5 0h0m7 0h0m5 0h1m3 0h0m-82 1h0m11 0h0m2 0h1m2 0h0m44 0h0m3 0h2m2 0h1m4 0h2m7 0h0m16 0h0m-97 1h0m4 0h0m3 0h0m10 0h1m42 0h0m4 0h0m8 0h0m-80 1h0m2 0h0m4 0h0m4 0h0m9 0h0m3 0h2m43 0h0m3 0h0m3 0h0m6 0h0m7 0h1m-73 1h0m14 0h1m38 0h0m8 0h0m16 0h0m-93 1h0m4 0h0m14 0h3m2 0h0m4 0h0m3 0h1m31 0h0m16 0h0m3 0h0m-88 1h0m12 0h0m2 0h0m5 0h0m3 0h0m2 0h0m5 0h0m2 0h0m2 0h0m39 0h0m6 0h0m5 0h0m3 0h1m3 0h0m3 0h0m-85 1h0m2 0h0m22 0h0m3 0h0m39 0h0m5 0h0m2 0h0m5 0h0m6 0h0m-83 1h0m13 0h1m4 0h0m6 0h0m4 0h0m44 0h1m2 0h0m8 0h0m-84 1h1m14 0h0m7 0h0m7 0h0m45 0h0m2 0h1m14 0h0m-95 1h0m16 0h1m11 0h0m4 0h0m41 0h0m2 0h0m-83 1h0m21 0h1m4 0h0m12 0h0m3 0h0m30 0h1m6 0h0m3 0h0m2 0h0m2 0h0m4 0h0m10 0h0m-109 1h0m5 0h0m14 0h0m2 0h0m4 0h0m5 0h0m8 0h0m29 0h0m9 0h0m8 0h0m2 0h1m4 0h2m4 0h0m4 0h1m-96 1h0m4 0h0m6 0h0m22 0h0m4 0h0m8 0h0m20 0h1m3 0h1m17 0h0m-85 1h0m14 0h0m11 0h0m4 0h1m6 0h0m5 0h0m3 0h0m9 0h1m13 0h0m14 0h0m11 0h0m9 0h0m-84 1h0m10 0h0m2 0h0m12 0h0m2 0h0m5 0h0m18 0h1m4 0h1m5 0h0m2 0h0m2 0h0m2 0h1m7 0h0m-65 1h2m6 0h0m6 0h0m7 0h1m4 0h1m11 0h0m7 0h1m2 0h0m4 0h1m7 0h0m-65 1h2m2 0h3m6 0h0m5 0h0m12 0h0m14 0h0m12 0h0m2 0h1m7 0h0m-90 1h0m5 0h0m9 0h0m3 0h0m2 0h0m2 0h0m6 0h0m2 0h1m2 0h0m2 0h0m2 0h0m6 0h0m2 0h0m20 0h2m3 0h0m12 0h0m9 0h0m-88 1h0m7 0h0m10 0h0m5 0h0m14 0h2m4 0h0m4 0h0m3 0h0m6 0h0m3 0h0m6 0h0m2 0h0m3 0h1m2 0h0m5 0h0m2 0h0m10 0h0m2 0h0m-71 1h0m6 0h1m9 0h0m7 0h3m2 0h0m8 0h0m4 0h0m18 0h0m6 0h0m4 0h0m-83 1h1m2 0h0m15 0h0m13 0h0m4 0h0m6 0h0m2 0h1m2 0h0m4 0h0m2 0h0m6 0h0m13 0h0m-59 1h0m6 0h0m4 0h2m3 0h1m2 0h0m2 0h0m9 0h1m5 0h0m15 0h0m11 0h0m10 0h0m-70 1h1m3 0h0m4 0h0m2 0h0m2 0h1m4 0h1m7 0h0m8 0h0m5 0h1m7 0h1m8 0h1m8 0h0m-75 1h0m11 0h0m3 0h0m8 0h0m4 0h0m21 0h0m8 0h0m4 0h0m2 0h0m2 0h0m3 0h0m4 0h1m-74 1h0m12 0h0m4 0h0m4 0h0m7 0h0m5 0h0m2 0h0m5 0h0m30 0h0m-74 1h0m17 0h0m6 0h0m2 0h0m9 0h0m6 0h1m6 0h1m6 0h0m30 0h0m17 0h0m-90 1h0m3 0h1m24 0h0m7 0h3m16 0h0m2 0h0m2 0h0m9 0h0m-61 1h0m8 0h0m4 0h0m2 0h1m2 0h0m8 0h0m4 0h1m8 0h0m6 0h2m4 0h0m14 0h0m-66 1h0m25 0h0m5 0h1m3 0h0m2 0h0m4 0h0m2 0h0m3 0h0m2 0h1m4 0h0m-67 1h0m8 0h0m2 0h0m2 0h0m7 0h1m4 0h0m3 0h0m6 0h0m4 0h0m7 0h0m5 0h0m9 0h1m-51 1h0m4 0h0m40 0h0m20 0h0m-64 1h1m19 0h0m9 0h0m5 0h0m2 0h0m12 0h0m4 0h0m13 0h0m3 0h0m-79 1h0m8 0h0m2 0h0m3 0h0m3 0h0m6 0h0m3 0h0m8 0h1m7 0h2m3 0h0m7 0h0m4 0h0m5 0h1m9 0h0m-63 1h0m2 0h0m4 0h0m4 0h0m3 0h0m4 0h0m8 0h0m5 0h0m3 0h1m5 0h0m4 0h1m4 0h0m2 0h2m7 0h0m-60 1h0m8 0h0m13 0h0m19 0h0m2 0h0m11 0h0m-50 1h1m7 0h0m2 0h1m8 0h0m10 0h0m12 0h0m-55 1h1m15 0h0m2 0h0m12 0h0m2 0h0m4 0h0m7 0h0m3 0h0m6 0h1m3 0h0m13 0h0m-55 1h0m5 0h0m12 0h0m17 0h0m6 0h0m2 0h0m3 0h0m3 0h0m17 0h0m-48 1h0m7 0h0m12 0h0m2 0h0m-16 1h0m14 0h0m7 0h0m17 0h0m-69 1h0m24 0h0m2 0h1m4 0h0m11 0h0m5 0h0m5 0h0m14 0h0m-67 1h0m14 0h1m21 0h0m2 0h0m15 0h0m6 0h0m12 0h0m-58 1h0m3 0h0m11 0h0m15 0h0m12 0h0m6 0h0m1 1h0m-20 1h1m4 0h0m11 0h0m-53 1h0m18 0h0m7 0h0m9 0h0m3 0h0m10 0h0m2 0h0m-35 1h0m30 0h0m14 0h0m-65 1h0m19 0h0m2 0h0m31 0h0m-52 2h0m48 1h0m-37 1h0m20 0h0m7 1h0m-17 1h0m27 0h0m12 0h0m-48 1h0m12 0h0m-18 2h0m4 0h0m11 0h0m15 0h0m3 0h0m-3 1h0m11 0h0m-6 1h0" stroke="#e04846" stroke-width="1.55" stroke-linecap="square" fill="none"/>
<path d="M309 91h0m26 6h1m-20 6h0m-2 1h0m16 1h0m-8 1h0m13 1h0m-34 3h0m8 0h0m9 0h0m6 0h1m3 0h0m-29 1h0m27 0h0m-40 1h0m22 0h0m-36 1h0m34 0h0m2 0h0m22 0h0m-31 1h0m7 0h0m2 0h3m24 0h0m-42 1h0m25 0h1m4 0h0m3 0h0m5 0h0m4 0h0m-40 1h0m18 0h0m-38 1h0m24 0h0m7 0h0m19 0h0m-55 1h0m21 0h0m3 0h0m6 0h0m7 0h0m5 0h0m3 0h0m2 0h0m-34 1h0m12 0h0m2 0h0m8 0h1m2 0h0m7 0h0m4 0h0m21 0h0m-68 1h0m18 0h0m3 0h0m5 0h0m2 0h0m2 0h0m4 0h0m2 0h1m3 0h0m3 0h0m3 0h1m4 0h0m-33 1h1m6 0h0m3 0h2m7 0h1m12 0h0m-51 1h0m13 0h0m9 0h1m2 0h1m2 0h0m5 0h1m3 0h0m6 0h0m2 0h2m5 0h0m-37 1h0m9 0h0m4 0h1m5 0h1m3 0h1m7 0h1m5 0h0m3 0h0m3 0h0m-49 1h0m6 0h0m2 0h0m3 0h0m5 0h1m2 0h1m5 0h0m4 0h3m2 0h0m6 0h0m4 0h0m3 0h1m-50 1h0m5 0h1m4 0h0m4 0h1m3 0h1m3 0h1m3 0h0m2 0h0m2 0h1m4 0h0m9 0h1m9 0h0m-46 1h0m2 0h3m2 0h0m3 0h1m3 0h0m2 0h1m2 0h0m3 0h0m3 0h0m2 0h0m5 0h0m2 0h0m6 0h0m7 0h0m-62 1h0m3 0h1m8 0h0m4 0h0m2 0h0m2 0h1m3 0h1m2 0h5m3 0h1m2 0h1m2 0h1m4 0h0m4 0h0m10 0h0m-58 1h0m8 0h2m2 0h1m3 0h0m2 0h1m2 0h3m2 0h6m2 0h0m2 0h1m2 0h2m2 0h0m5 0h1m4 0h1m5 0h0m8 0h0m-68 1h0m6 0h0m3 0h0m3 0h0m3 0h0m2 0h0m4 0h3m5 0h1m3 0h1m2 0h0m2 0h0m5 0h0m2 0h0m-38 1h1m2 0h3m5 0h1m2 0h1m2 0h3m2 0h1m2 0h3m2 0h0m2 0h0m4 0h1m4 0h0m2 0h0m5 0h0m5 0h0m-62 1h0m6 0h0m3 0h0m2 0h0m3 0h0m2 0h0m2 0h0m3 0h15m2 0h2m3 0h3m2 0h0m9 0h0m-52 1h1m3 0h0m6 0h1m2 0h0m2 0h0m3 0h5m2 0h3m3 0h3m2 0h0m2 0h0m2 0h1m2 0h0m3 0h0m2 0h0m5 0h0m-66 1h0m2 0h0m11 0h0m2 0h2m3 0h0m2 0h0m2 0h22m4 0h1m2 0h0m2 0h2m2 0h0m-48 1h0m3 0h0m4 0h0m2 0h1m2 0h0m5 0h7m4 0h8m3 0h1m2 0h3m2 0h0m3 0h1m-63 1h0m3 0h0m5 0h0m4 0h0m4 0h3m3 0h4m2 0h19m3 0h8m5 0h0m-58 1h1m5 0h3m2 0h0m2 0h1m2 0h0m2 0h0m3 0h3m2 0h9m2 0h1m2 0h2m3 0h0m2 0h3m3 0h0m2 0h0m2 0h0m4 0h0m2 0h0m-61 1h0m2 0h0m3 0h0m2 0h3m2 0h3m2 0h15m2 0h12m2 0h1m3 0h0m3 0h0m-64 1h0m7 0h0m7 0h1m3 0h0m2 0h0m4 0h2m2 0h3m2 0h10m3 0h9m3 0h0m2 0h0m4 0h0m3 0h0m2 0h0m-75 1h0m15 0h1m6 0h0m2 0h2m2 0h28m2 0h1m2 0h1m2 0h0m12 0h0m2 0h0m3 0h0m-73 1h0m4 0h0m6 0h0m2 0h0m4 0h1m2 0h29m2 0h2m4 0h0m2 0h0m-64 1h0m2 0h0m10 0h0m5 0h0m5 0h0m2 0h0m4 0h2m2 0h9m2 0h6m2 0h3m2 0h5m2 0h0m12 0h0m-85 1h0m13 0h0m7 0h0m3 0h1m3 0h3m3 0h4m2 0h25m2 0h0m3 0h1m2 0h1m7 0h4m-86 1h0m18 0h1m2 0h0m5 0h0m2 0h2m2 0h4m3 0h15m2 0h0m3 0h1m2 0h0m2 0h4m2 0h0m5 0h0m7 0h0m-71 1h0m2 0h0m3 0h0m4 0h1m2 0h0m4 0h2m2 0h3m2 0h3m2 0h0m2 0h20m2 0h0m2 0h0m3 0h1m-54 1h1m2 0h2m2 0h0m2 0h2m2 0h13m2 0h17m2 0h0m3 0h4m4 0h1m-58 1h0m3 0h1m3 0h2m2 0h3m3 0h0m2 0h1m2 0h6m2 0h4m3 0h0m2 0h6m2 0h1m2 0h2m10 0h1m-75 1h0m9 0h0m3 0h0m2 0h0m2 0h0m3 0h1m2 0h0m2 0h1m6 0h5m2 0h11m2 0h10m3 0h2m3 0h0m-62 1h0m2 0h0m4 0h2m2 0h0m4 0h3m2 0h4m2 0h0m2 0h0m2 0h16m3 0h3m2 0h1m2 0h0m2 0h0m3 0h0m-68 1h0m10 0h0m3 0h0m3 0h0m2 0h0m2 0h2m3 0h0m2 0h2m2 0h11m2 0h7m2 0h1m2 0h0m2 0h3m9 0h0m-67 1h0m4 0h1m2 0h0m2 0h0m2 0h0m2 0h1m2 0h1m2 0h1m3 0h3m2 0h21m2 0h3m3 0h0m2 0h0m4 0h1m7 0h0m10 0h0m-91 1h0m13 0h0m2 0h0m7 0h0m5 0h3m2 0h4m2 0h1m2 0h3m2 0h12m2 0h3m2 0h2m4 0h0m-71 1h1m10 0h0m5 0h1m2 0h0m2 0h0m2 0h1m3 0h1m2 0h2m3 0h8m2 0h5m3 0h0m2 0h2m2 0h4m3 0h3m4 0h0m7 0h0m-81 1h0m2 0h0m11 0h1m2 0h1m5 0h6m2 0h4m2 0h0m2 0h3m2 0h4m2 0h2m2 0h4m2 0h6m-68 1h0m16 0h0m3 0h0m2 0h4m2 0h0m3 0h1m3 0h3m3 0h5m2 0h1m2 0h0m2 0h7m2 0h1m3 0h2m2 0h0m2 0h2m5 0h2m-70 1h0m4 0h0m2 0h3m4 0h1m2 0h0m2 0h2m2 0h0m2 0h5m2 0h9m2 0h0m3 0h0m2 0h0m3 0h0m2 0h2m6 0h0m2 0h0m4 0h1m9 0h0m-77 1h3m4 0h0m2 0h0m3 0h3m2 0h1m2 0h0m2 0h3m2 0h6m2 0h2m2 0h2m2 0h10m2 0h0m3 0h0m-59 1h4m4 0h0m3 0h0m2 0h0m2 0h5m2 0h3m2 0h1m2 0h2m2 0h5m2 0h1m2 0h0m2 0h1m2 0h3m2 0h2m5 0h1m2 0h0m2 0h0m-74 1h0m2 0h0m2 0h0m5 0h0m5 0h0m6 0h2m3 0h4m2 0h5m2 0h1m2 0h7m2 0h2m3 0h6m3 0h0m15 0h0m-64 1h0m2 0h31m3 0h2m2 0h6m2 0h0m6 0h2m-79 1h0m3 0h0m7 0h0m8 0h0m6 0h0m2 0h1m2 0h0m2 0h2m2 0h6m2 0h2m2 0h6m3 0h4m2 0h1m3 0h4m2 0h1m3 0h1m5 0h0m-66 1h0m7 0h2m2 0h0m2 0h2m2 0h0m2 0h0m2 0h1m3 0h4m2 0h0m3 0h0m2 0h3m2 0h2m2 0h1m2 0h0m2 0h0m2 0h0m2 0h0m2 0h0m4 0h0m-75 1h0m12 0h0m3 0h0m2 0h0m2 0h1m3 0h0m3 0h10m4 0h6m2 0h0m2 0h2m2 0h0m2 0h1m2 0h3m3 0h1m2 0h0m4 0h0m6 0h0m-85 1h0m12 0h0m9 0h0m7 0h0m3 0h0m3 0h0m3 0h3m2 0h1m4 0h1m2 0h2m2 0h0m2 0h4m2 0h0m3 0h1m9 0h1m2 0h1m2 0h0m6 0h0m-65 1h0m6 0h0m3 0h2m4 0h3m2 0h1m2 0h0m2 0h4m2 0h1m2 0h4m3 0h1m5 0h2m7 0h0m7 0h0m-77 1h0m6 0h0m6 0h0m2 0h1m3 0h0m6 0h7m2 0h0m3 0h1m2 0h4m2 0h1m2 0h0m2 0h2m3 0h3m2 0h1m4 0h1m18 0h0m-84 1h0m6 0h0m8 0h1m8 0h0m2 0h0m4 0h0m3 0h0m3 0h6m3 0h1m2 0h0m3 0h2m5 0h1m2 0h1m15 0h0m-65 1h0m3 0h0m2 0h0m4 0h1m8 0h2m2 0h7m2 0h1m4 0h1m3 0h3m2 0h1m2 0h0m2 0h1m2 0h0m3 0h0m4 0h0m5 0h0m-71 1h0m2 0h1m4 0h0m6 0h3m2 0h0m2 0h2m2 0h1m2 0h0m3 0h8m2 0h0m2 0h4m-45 1h0m3 0h1m2 0h0m3 0h0m4 0h0m6 0h1m2 0h1m2 0h0m3 0h0m3 0h3m2 0h4m2 0h1m2 0h0m2 0h1m2 0h0m3 0h0m-54 1h0m2 0h1m2 0h0m5 0h1m2 0h0m3 0h0m5 0h2m2 0h3m2 0h4m2 0h0m2 0h0m3 0h1m2 0h0m4 0h0m2 0h0m-51 1h0m6 0h0m7 0h1m5 0h1m2 0h5m2 0h0m2 0h0m2 0h1m3 0h0m5 0h0m2 0h3m2 0h1m2 0h0m2 0h0m12 0h0m-58 1h0m3 0h0m2 0h0m2 0h0m2 0h0m3 0h0m2 0h6m2 0h0m5 0h0m2 0h4m3 0h1m2 0h0m6 0h0m-65 1h0m7 0h0m13 0h0m2 0h0m2 0h0m4 0h0m3 0h0m3 0h7m2 0h3m3 0h2m9 0h0m7 0h0m-73 1h0m9 0h0m18 0h0m7 0h1m3 0h0m2 0h3m2 0h0m3 0h0m2 0h0m2 0h3m6 0h0m2 0h1m-52 1h0m2 0h0m2 0h0m13 0h0m3 0h1m3 0h0m8 0h0m5 0h3m3 0h2m4 0h0m2 0h0m3 0h1m5 0h0m-56 1h0m3 0h1m3 0h0m5 0h1m4 0h1m2 0h0m2 0h0m2 0h0m2 0h0m3 0h0m3 0h0m4 0h2m2 0h0m3 0h0m5 0h0m2 0h0m3 0h1m-55 1h0m10 0h1m3 0h0m4 0h3m2 0h0m2 0h0m2 0h1m2 0h0m3 0h1m3 0h0m5 0h1m5 0h1m-48 1h0m2 0h0m6 0h0m10 0h1m2 0h2m2 0h0m2 0h0m4 0h0m4 0h0m3 0h3m-65 1h0m37 0h0m3 0h0m3 0h3m4 0h0m3 0h0m2 0h0m15 0h0m-66 1h0m7 0h0m4 0h0m13 0h0m3 0h0m2 0h0m9 0h0m5 0h1m4 0h0m2 0h0m5 0h0m2 0h3m2 0h0m6 0h0m-64 1h0m12 0h0m4 0h0m10 0h0m2 0h0m3 0h0m3 0h1m2 0h0m5 0h0m2 0h0m2 0h0m3 0h0m4 0h0m9 0h0m6 0h0m-59 1h0m9 0h0m6 0h1m2 0h0m8 0h0m2 0h0m9 0h0m4 0h0m10 0h1m-55 1h0m8 0h0m7 0h2m2 0h0m3 0h0m9 0h0m3 0h2m8 0h0m2 0h0m3 0h2m-57 1h0m11 0h0m7 0h0m6 0h0m15 0h0m2 0h0m3 0h1m2 0h0m2 0h0m4 0h0m3 0h0m-28 1h2m2 0h0m3 0h0m5 0h0m2 0h0m-34 1h0m5 0h0m4 0h0m3 0h0m19 0h0m10 0h0m3 0h0m-35 1h0m15 0h0m2 0h0m4 0h0m5 0h0m8 0h0m-39 1h0m2 0h1m3 0h1m6 0h0m2 0h1m4 0h1m26 0h0m-56 1h0m8 0h0m7 0h2m10 0h1m7 0h0m3 0h0m13 0h0m10 0h0m-62 1h0m2 0h0m12 0h0m17 0h0m5 0h0m5 0h0m11 0h0m-38 1h0m10 0h0m2 0h1m11 0h0m8 0h0m13 0h0m-60 1h0m9 0h0m11 0h0m2 0h0m4 0h0m4 0h1m-28 1h0m12 0h0m13 0h0m8 0h1m-37 1h0m5 0h0m13 0h0m8 0h0m6 0h0m10 0h0m-30 1h0m5 0h0m11 0h0m20 0h0m-32 1h0m18 0h0m3 0h0m2 0h1m-27 1h0m17 0h0m10 0h0m-50 1h0m10 0h0m23 0h0m3 0h0m-1 1h0m4 0h0m-10 1h0m-17 1h0m31 0h0m-22 1h0m7 0h0m-32 1h0m40 2h0m-10 1h0m11 0h0m2 0h0m-16 3h0m12 0h0m-2 4h0" stroke="#3a2288" stroke-width="1.7" stroke-linecap="square" fill="none"/>
</g>
<path d="M204.2 75H345.7V216.6" stroke="#777" stroke-width="1.4" fill="none"/>
<path d="M204.2 74.3V216.6H346.2" stroke="#222" stroke-width="1.3" fill="none"/>
<path d="M202.2 217.1H204.2M202.2 213.6H204.2M200.7 210.5H204.2M202.2 190.1H204.2M202.2 178.2H204.2M202.2 169.7H204.2M202.2 163.1H204.2M202.2 157.8H204.2M202.2 153.2H204.2M202.2 149.3H204.2M202.2 145.9H204.2M200.7 142.8H204.2M202.2 122.4H204.2M202.2 110.4H204.2M202.2 102.0H204.2M202.2 95.4H204.2M202.2 90.0H204.2M202.2 85.5H204.2M202.2 81.6H204.2M202.2 78.1H204.2M200.7 75.0H204.2M204.3 216.6V218.6M210.0 216.6V218.6M214.6 216.6V218.6M218.6 216.6V218.6M222.0 216.6V218.6M225.0 216.6V218.6M227.7 216.6V220.1M245.4 216.6V218.6M255.8 216.6V218.6M263.2 216.6V218.6M268.9 216.6V218.6M273.5 216.6V218.6M277.5 216.6V218.6M280.9 216.6V218.6M283.9 216.6V218.6M286.6 216.6V220.1M304.3 216.6V218.6M314.7 216.6V218.6M322.1 216.6V218.6M327.8 216.6V218.6M332.4 216.6V218.6M336.4 216.6V218.6M339.8 216.6V218.6M342.8 216.6V218.6" stroke="#222" stroke-width="1.1" fill="none"/>
<text x="197.3" y="79.5" font-size="8" fill="#1a1a1a" stroke="#1a1a1a" stroke-width="0.1" text-anchor="end">10<tspan font-size="5.6" dy="-3">5</tspan></text>
<text x="197.3" y="147.2" font-size="8" fill="#1a1a1a" stroke="#1a1a1a" stroke-width="0.1" text-anchor="end">10<tspan font-size="5.6" dy="-3">4</tspan></text>
<text x="197.3" y="215.0" font-size="8" fill="#1a1a1a" stroke="#1a1a1a" stroke-width="0.1" text-anchor="end">10<tspan font-size="5.6" dy="-3">3</tspan></text>
<text x="220.3" y="231.3" font-size="8" fill="#1a1a1a" stroke="#1a1a1a" stroke-width="0.1">10<tspan font-size="5.6" dy="-3">3</tspan></text>
<text x="280.2" y="231.3" font-size="8" fill="#1a1a1a" stroke="#1a1a1a" stroke-width="0.1">10<tspan font-size="5.6" dy="-3">4</tspan></text>
<text x="433" y="67.6" font-size="9.6" fill="#1a1a1a" stroke="#1a1a1a" stroke-width="0.3" font-style="italic" textLength="25.5" lengthAdjust="spacingAndGlyphs">Day 3</text>
<g transform="translate(.5 .5)">
<path d="M490 87h0m-4 10h0m-1 2h0m29 0h0m-9 1h0m-11 2h0m9 0h0m-35 1h0m23 1h0m17 0h0m-23 1h0m12 1h0m-8 1h0m4 0h0m7 0h0m14 0h0m-24 1h0m3 0h0m21 0h0m-39 1h0m7 0h0m8 0h1m-13 1h0m5 0h0m5 0h0m11 0h0m15 0h0m-22 1h0m18 0h0m-44 1h0m10 0h0m16 0h1m17 0h0m-53 1h0m14 0h0m2 0h0m2 0h0m2 0h0m11 0h0m-6 1h0m3 0h0m2 0h0m7 0h0m4 0h0m7 0h1m6 0h0m-33 1h0m2 0h1m8 0h0m5 0h1m12 0h0m-65 1h0m20 0h0m2 0h0m6 0h0m5 0h0m2 0h0m7 0h0m5 0h0m8 0h0m-33 1h0m3 0h0m8 0h0m5 0h0m2 0h0m9 0h0m5 0h0m-26 1h0m5 0h2m6 0h0m2 0h0m3 0h1m3 0h0m3 0h0m5 0h0m4 0h0m-48 1h0m3 0h0m6 0h0m4 0h1m2 0h0m2 0h0m4 0h1m4 0h1m4 0h0m2 0h0m2 0h0m7 0h0m14 0h0m-55 1h0m10 0h1m3 0h0m4 0h0m5 0h0m4 0h0m3 0h1m4 0h0m2 0h0m2 0h0m8 0h1m6 0h0m-51 1h0m7 0h0m3 0h2m3 0h1m3 0h1m7 0h1m4 0h2m3 0h0m17 0h0m-63 1h0m11 0h0m2 0h0m4 0h2m4 0h2m5 0h2m3 0h0m2 0h0m2 0h0m3 0h0m7 0h0m6 0h1m-58 1h0m4 0h0m3 0h0m4 0h0m2 0h0m2 0h0m3 0h0m3 0h4m4 0h0m4 0h0m2 0h1m2 0h2m4 0h0m2 0h0m-36 1h1m3 0h0m3 0h0m3 0h3m2 0h2m7 0h0m3 0h0m2 0h0m4 0h0m4 0h0m8 0h0m4 0h0m-59 1h0m7 0h0m9 0h4m4 0h3m2 0h1m2 0h2m4 0h0m6 0h1m7 0h0m-75 1h0m8 0h0m10 0h0m2 0h0m12 0h0m3 0h2m2 0h0m2 0h6m3 0h0m3 0h3m2 0h2m3 0h0m2 0h0m3 0h2m3 0h0m-54 1h0m2 0h0m4 0h0m2 0h1m2 0h0m3 0h1m3 0h0m4 0h6m3 0h0m3 0h0m3 0h0m2 0h3m2 0h0m3 0h0m6 0h0m-47 1h0m4 0h0m4 0h1m9 0h2m2 0h5m3 0h5m2 0h0m2 0h0m8 0h0m2 0h0m9 0h0m-69 1h1m6 0h0m3 0h0m4 0h0m2 0h0m2 0h1m2 0h1m3 0h6m2 0h1m2 0h0m2 0h5m3 0h2m2 0h0m4 0h0m5 0h0m7 0h0m-68 1h0m2 0h0m8 0h0m2 0h0m5 0h0m5 0h2m2 0h3m2 0h6m2 0h5m2 0h1m4 0h0m2 0h0m4 0h1m5 0h0m-75 1h0m15 0h0m8 0h0m6 0h1m2 0h3m2 0h0m2 0h1m2 0h3m2 0h3m2 0h3m3 0h5m3 0h0m8 0h0m3 0h0m2 0h0m-68 1h0m18 0h0m2 0h4m2 0h3m2 0h2m3 0h0m2 0h1m2 0h1m2 0h0m2 0h4m3 0h1m2 0h1m2 0h0m3 0h0m11 0h0m-81 1h0m13 0h0m3 0h0m2 0h1m2 0h0m4 0h26m2 0h2m2 0h2m2 0h5m6 0h0m2 0h0m-66 1h0m2 0h0m4 0h0m2 0h0m3 0h0m2 0h2m5 0h0m2 0h15m2 0h3m2 0h1m3 0h3m3 0h1m2 0h0m7 0h1m3 0h0m-97 1h0m19 0h0m12 0h0m3 0h2m2 0h0m3 0h0m3 0h1m2 0h0m2 0h17m2 0h0m2 0h0m3 0h4m3 0h0m2 0h1m2 0h0m8 0h0m-75 1h0m11 0h0m7 0h0m2 0h0m5 0h0m3 0h32m2 0h0m7 0h0m9 0h0m-98 1h0m34 0h3m3 0h3m2 0h2m2 0h20m3 0h8m2 0h0m3 0h4m2 0h0m-83 1h0m12 0h1m3 0h0m7 0h0m8 0h2m2 0h0m2 0h5m2 0h0m3 0h1m2 0h12m2 0h1m2 0h6m7 0h0m2 0h0m5 0h0m3 0h0m-72 1h0m4 0h0m3 0h2m4 0h4m2 0h0m2 0h27m2 0h1m2 0h3m2 0h0m3 0h0m8 0h1m-69 1h0m5 0h0m2 0h1m2 0h3m2 0h6m2 0h17m2 0h3m2 0h2m2 0h2m3 0h0m2 0h0m3 0h0m2 0h1m-65 1h0m2 0h0m2 0h0m7 0h2m2 0h0m2 0h3m2 0h10m2 0h2m2 0h6m2 0h7m3 0h2m5 0h0m5 0h0m7 0h0m-72 1h0m4 0h0m4 0h0m2 0h12m2 0h19m2 0h6m4 0h0m3 0h0m2 0h1m-70 1h0m3 0h2m3 0h0m3 0h0m2 0h3m4 0h43m2 0h0m3 0h0m5 0h0m3 0h0m-75 1h0m5 0h3m2 0h0m3 0h4m2 0h9m2 0h17m2 0h2m2 0h2m3 0h0m2 0h2m10 0h0m-74 1h0m7 0h0m3 0h0m4 0h2m2 0h2m3 0h1m2 0h36m2 0h2m2 0h0m2 0h0m-70 1h0m6 0h6m3 0h3m2 0h5m2 0h4m2 0h10m2 0h5m2 0h6m3 0h0m4 0h0m2 0h0m6 0h0m3 0h0m-82 1h1m6 0h0m3 0h1m2 0h1m3 0h0m2 0h1m2 0h28m2 0h2m2 0h1m2 0h0m2 0h2m4 0h0m2 0h2m2 0h1m7 0h0m-101 1h0m13 0h0m9 0h0m8 0h0m3 0h0m2 0h0m2 0h2m2 0h10m2 0h24m2 0h0m2 0h0m2 0h0m6 0h0m-85 1h0m19 0h0m7 0h0m2 0h1m2 0h2m2 0h0m2 0h24m2 0h2m2 0h0m2 0h1m2 0h6m2 0h1m2 0h2m2 0h0m6 0h0m-90 1h0m13 0h0m4 0h0m2 0h1m2 0h0m2 0h5m3 0h0m2 0h0m2 0h21m2 0h3m2 0h9m2 0h1m3 0h1m2 0h0m16 0h0m-103 1h0m21 0h0m10 0h9m2 0h7m2 0h17m2 0h1m2 0h2m2 0h2m2 0h0m3 0h1m7 0h0m9 0h0m-94 1h0m13 0h1m8 0h7m2 0h1m2 0h28m2 0h2m2 0h2m5 0h0m5 0h0m6 0h0m17 0h0m-91 1h1m3 0h0m2 0h0m2 0h0m3 0h0m5 0h1m2 0h4m2 0h5m2 0h5m2 0h8m2 0h0m2 0h0m2 0h0m2 0h1m2 0h2m3 0h0m9 0h0m-84 1h0m9 0h0m5 0h1m2 0h0m3 0h0m3 0h15m2 0h10m2 0h11m2 0h1m2 0h1m3 0h0m-77 1h0m19 0h1m3 0h0m3 0h2m2 0h5m2 0h16m2 0h16m3 0h3m3 0h0m3 0h0m3 0h0m4 0h0m-70 1h0m3 0h2m3 0h0m2 0h6m2 0h3m2 0h5m2 0h16m3 0h4m2 0h0m4 0h0m2 0h1m-67 1h0m3 0h1m4 0h5m2 0h0m2 0h1m2 0h0m2 0h2m2 0h3m2 0h24m9 0h0m-83 1h0m22 0h0m2 0h0m4 0h0m2 0h0m2 0h4m2 0h0m2 0h8m2 0h4m3 0h0m2 0h6m2 0h5m2 0h0m2 0h3m2 0h0m2 0h0m3 0h0m-95 1h0m29 0h1m3 0h1m2 0h3m2 0h3m3 0h36m4 0h1m5 0h0m-61 1h3m4 0h0m2 0h0m3 0h3m2 0h8m2 0h0m2 0h9m2 0h4m2 0h2m6 0h0m3 0h1m35 0h0m-100 1h3m4 0h0m2 0h2m2 0h3m2 0h0m2 0h2m2 0h21m2 0h0m2 0h7m2 0h0m3 0h0m2 0h0m6 0h0m11 0h0m-81 1h1m2 0h10m3 0h5m2 0h19m2 0h4m2 0h3m2 0h0m2 0h0m2 0h0m4 0h0m8 0h0m20 0h0m-112 1h0m2 0h0m16 0h2m2 0h0m3 0h0m4 0h0m2 0h0m2 0h2m2 0h0m3 0h4m3 0h6m2 0h0m2 0h5m2 0h0m6 0h1m2 0h2m2 0h2m4 0h0m-75 1h0m18 0h0m2 0h0m3 0h3m3 0h0m2 0h10m2 0h13m2 0h4m4 0h0m7 0h0m6 0h0m-64 1h1m4 0h0m2 0h0m2 0h11m2 0h3m3 0h12m2 0h2m7 0h2m16 0h0m-64 1h0m2 0h0m2 0h11m2 0h1m2 0h4m2 0h6m3 0h1m2 0h2m3 0h3m2 0h1m3 0h0m2 0h0m7 0h0m-82 1h0m7 0h0m6 0h0m2 0h2m4 0h2m2 0h0m6 0h11m2 0h2m2 0h3m2 0h2m2 0h8m2 0h0m3 0h0m10 0h0m10 0h0m-87 1h0m8 0h0m3 0h0m3 0h0m2 0h0m3 0h1m2 0h0m2 0h0m5 0h5m2 0h3m2 0h1m3 0h1m2 0h4m2 0h2m2 0h0m6 0h2m-61 1h0m5 0h1m4 0h0m2 0h1m2 0h0m3 0h10m2 0h10m2 0h6m3 0h3m3 0h0m3 0h0m-72 1h0m11 0h0m7 0h3m4 0h2m4 0h0m4 0h1m4 0h10m5 0h0m2 0h1m3 0h0m5 0h0m4 0h1m7 0h1m-74 1h0m2 0h0m3 0h0m4 0h0m3 0h1m5 0h5m3 0h5m2 0h0m2 0h1m2 0h0m2 0h6m2 0h5m2 0h0m4 0h1m2 0h0m2 0h1m8 0h0m-73 1h0m14 0h0m4 0h0m2 0h2m3 0h2m2 0h1m2 0h2m7 0h1m3 0h1m2 0h1m4 0h4m2 0h2m6 0h1m6 0h0m-61 1h1m2 0h2m2 0h0m2 0h5m2 0h1m3 0h3m2 0h1m3 0h1m2 0h1m4 0h1m2 0h0m2 0h0m6 0h0m5 0h0m-80 1h0m27 0h0m3 0h0m2 0h4m3 0h5m3 0h2m2 0h2m6 0h1m5 0h1m2 0h0m2 0h0m-53 1h0m3 0h0m3 0h1m2 0h2m3 0h0m5 0h2m2 0h2m5 0h3m2 0h2m2 0h0m3 0h1m2 0h0m4 0h0m7 0h0m3 0h0m12 0h0m-66 1h0m8 0h1m4 0h0m2 0h2m3 0h0m2 0h1m2 0h0m2 0h0m2 0h1m2 0h0m2 0h1m2 0h0m3 0h0m6 0h0m2 0h1m4 0h1m-67 1h0m13 0h0m5 0h0m4 0h0m4 0h1m4 0h0m3 0h1m2 0h0m3 0h0m2 0h3m3 0h3m5 0h0m3 0h1m12 0h0m7 0h0m-62 1h0m5 0h1m3 0h1m6 0h3m3 0h1m2 0h0m4 0h2m2 0h1m2 0h0m2 0h0m2 0h0m3 0h0m-51 1h0m2 0h0m9 0h2m2 0h0m3 0h1m4 0h1m4 0h3m3 0h0m4 0h0m2 0h0m24 0h0m2 0h0m-67 1h0m15 0h0m2 0h1m5 0h1m3 0h0m2 0h0m3 0h1m6 0h0m2 0h0m3 0h0m3 0h0m4 0h0m7 0h0m-64 1h0m9 0h0m2 0h0m13 0h1m3 0h2m5 0h0m2 0h0m6 0h0m9 0h0m-59 1h0m12 0h0m2 0h0m10 0h0m4 0h1m4 0h1m2 0h0m4 0h0m2 0h0m3 0h1m2 0h0m5 0h0m6 0h1m2 0h0m7 0h1m12 0h0m-54 1h0m3 0h1m2 0h1m3 0h1m4 0h1m9 0h0m4 0h0m8 0h0m-69 1h0m8 0h0m26 0h0m2 0h0m13 0h0m4 0h0m21 0h0m-55 1h0m17 0h0m3 0h0m2 0h0m4 0h1m2 0h4m6 0h0m12 0h0m8 0h0m-63 1h1m6 0h0m2 0h1m8 0h0m6 0h0m7 0h0m3 0h0m3 0h0m4 0h0m4 0h0m8 0h0m-66 1h0m11 0h0m4 0h0m3 0h0m4 0h0m2 0h0m16 0h0m4 0h0m6 0h0m29 0h0m-85 1h0m4 0h0m15 0h0m2 0h0m7 0h0m8 0h0m2 0h0m3 0h0m6 0h1m9 0h0m-39 1h0m14 0h0m6 0h0m9 0h0m2 0h0m6 0h0m2 0h0m5 0h0m-57 1h0m2 0h0m16 0h1m9 0h0m7 0h0m13 0h0m4 0h1m17 0h0m-68 1h0m41 0h0m2 0h0m23 0h0m11 0h0m3 0h0m-82 1h0m5 0h0m21 0h0m6 0h0m11 0h0m12 0h0m9 0h0m-63 1h0m20 0h0m3 0h0m4 0h0m9 0h0m26 0h0m-32 1h1m4 0h0m-31 1h0m29 0h0m2 0h0m-9 1h0m11 0h0m2 0h0m-6 1h0m22 0h0m-43 1h0m15 0h0m30 0h0m-25 1h0m19 0h0m-33 1h0m26 0h0m-17 1h0m2 0h0m16 1h0m-3 4h0m-10 1h0m-37 2h0m8 1h0m43 1h0m-37 2h0" stroke="#e04846" stroke-width="1.55" stroke-linecap="square" fill="none"/>
<path d="M508 98h0m-25 2h0m-1 1h0m19 2h0m15 0h0m-39 1h0m22 0h0m1 1h0m4 0h0m9 0h0m4 0h0m-38 1h0m14 0h0m2 0h0m14 0h0m-19 1h0m5 0h0m-4 1h1m9 0h0m16 0h0m-41 1h0m3 0h0m7 0h0m5 0h0m3 0h0m5 0h1m14 0h0m-38 1h0m13 0h0m2 0h1m3 0h0m-20 1h0m5 0h0m3 0h0m2 0h0m2 0h0m8 0h1m3 0h0m-20 1h0m3 0h1m4 0h0m6 0h1m8 0h0m-38 1h0m3 0h0m10 0h1m9 0h0m3 0h0m3 0h0m4 0h0m10 0h1m8 0h1m-52 1h0m9 0h1m3 0h0m6 0h0m3 0h0m3 0h3m3 0h0m4 0h1m3 0h0m-37 1h0m14 0h0m2 0h0m3 0h0m4 0h0m2 0h0m3 0h1m6 0h0m12 0h0m2 0h0m-42 1h0m5 0h1m2 0h0m2 0h0m5 0h1m6 0h0m3 0h0m-50 1h0m12 0h0m6 0h0m4 0h0m3 0h0m3 0h0m5 0h1m2 0h1m2 0h5m3 0h0m3 0h0m3 0h0m2 0h2m-56 1h0m9 0h0m2 0h0m8 0h0m2 0h0m8 0h0m2 0h1m5 0h3m3 0h0m2 0h0m5 0h0m3 0h0m-40 1h0m6 0h0m2 0h0m2 0h0m2 0h0m3 0h5m2 0h3m2 0h0m4 0h1m3 0h1m4 0h0m2 0h0m9 0h1m-65 1h0m5 0h0m14 0h0m2 0h0m2 0h0m5 0h1m3 0h2m2 0h0m2 0h0m2 0h3m16 0h0m-51 1h0m2 0h1m9 0h0m2 0h6m3 0h0m3 0h0m2 0h2m3 0h2m2 0h0m7 0h0m-57 1h0m3 0h0m11 0h1m4 0h0m2 0h1m2 0h0m3 0h0m3 0h1m2 0h2m4 0h1m3 0h0m3 0h1m3 0h0m5 0h0m4 0h1m-56 1h0m9 0h0m5 0h1m2 0h3m2 0h1m2 0h0m2 0h0m2 0h0m3 0h2m3 0h0m2 0h2m2 0h0m6 0h0m8 0h1m3 0h0m-52 1h0m3 0h0m2 0h0m2 0h0m2 0h1m3 0h4m3 0h0m2 0h6m2 0h0m4 0h2m3 0h0m3 0h0m5 0h1m3 0h0m-68 1h0m4 0h0m14 0h0m2 0h1m2 0h3m2 0h1m3 0h0m3 0h1m4 0h0m2 0h0m3 0h5m2 0h2m2 0h0m2 0h1m3 0h0m2 0h0m4 0h0m-57 1h0m3 0h0m2 0h0m3 0h0m3 0h0m2 0h2m3 0h1m3 0h1m2 0h5m2 0h8m3 0h3m2 0h2m-57 1h1m6 0h0m6 0h0m2 0h1m2 0h0m3 0h1m2 0h0m2 0h4m4 0h3m2 0h5m2 0h3m3 0h0m4 0h0m5 0h0m-62 1h0m12 0h0m2 0h3m3 0h2m2 0h0m3 0h6m3 0h2m2 0h2m3 0h6m6 0h1m2 0h1m-59 1h0m4 0h0m5 0h0m3 0h4m2 0h0m2 0h15m2 0h1m2 0h0m2 0h0m2 0h1m2 0h2m2 0h0m3 0h0m7 0h0m4 0h0m-61 1h0m3 0h0m2 0h0m2 0h0m2 0h1m3 0h3m2 0h16m2 0h5m2 0h1m2 0h4m3 0h0m-62 1h0m2 0h0m3 0h0m2 0h0m3 0h1m2 0h0m2 0h1m2 0h1m2 0h12m2 0h0m2 0h9m2 0h0m3 0h3m5 0h0m6 0h1m-66 1h0m4 0h0m7 0h2m4 0h0m2 0h1m3 0h7m2 0h4m2 0h10m2 0h1m2 0h1m5 0h1m2 0h0m-71 1h0m16 0h0m6 0h1m6 0h0m2 0h0m2 0h6m2 0h9m2 0h2m4 0h0m2 0h0m2 0h4m3 0h1m2 0h0m3 0h0m3 0h0m-76 1h0m2 0h0m11 0h1m3 0h1m2 0h0m3 0h1m2 0h22m2 0h1m2 0h1m2 0h0m3 0h1m2 0h0m2 0h0m2 0h1m3 0h1m-76 1h0m11 0h1m3 0h1m3 0h0m2 0h0m3 0h2m3 0h31m2 0h1m2 0h1m3 0h0m2 0h0m6 0h0m-70 1h0m3 0h0m2 0h0m3 0h0m2 0h0m3 0h36m2 0h4m2 0h1m2 0h0m9 0h0m-66 1h0m4 0h1m2 0h0m2 0h3m2 0h1m2 0h26m2 0h1m2 0h1m2 0h0m2 0h1m2 0h0m3 0h1m-63 1h0m5 0h0m4 0h0m2 0h0m3 0h0m2 0h29m4 0h4m2 0h2m4 0h2m2 0h0m2 0h2m-88 1h1m15 0h0m3 0h0m5 0h47m2 0h0m2 0h2m4 0h2m4 0h0m2 0h0m-73 1h0m3 0h0m3 0h0m4 0h0m2 0h0m4 0h8m3 0h8m2 0h13m3 0h0m2 0h0m2 0h5m3 0h1m5 0h0m-76 1h0m4 0h0m4 0h1m2 0h1m2 0h2m2 0h39m3 0h0m2 0h1m2 0h0m3 0h0m-82 1h0m13 0h0m6 0h1m3 0h0m2 0h1m2 0h2m2 0h26m2 0h9m2 0h2m3 0h2m6 0h0m3 0h1m-82 1h0m8 0h0m6 0h3m3 0h2m3 0h44m2 0h0m4 0h0m-70 1h0m2 0h0m5 0h0m3 0h3m2 0h1m2 0h33m2 0h0m2 0h1m2 0h3m2 0h0m2 0h0m3 0h0m2 0h1m3 0h0m4 0h0m8 0h0m-95 1h0m8 0h2m4 0h0m2 0h0m6 0h0m2 0h0m3 0h44m2 0h1m2 0h1m4 0h0m10 0h0m-80 1h0m5 0h0m3 0h0m2 0h0m3 0h5m2 0h39m3 0h1m3 0h1m-69 1h2m3 0h0m2 0h1m2 0h5m2 0h3m2 0h36m3 0h3m2 0h4m10 0h0m-86 1h0m7 0h0m3 0h0m2 0h2m2 0h0m2 0h13m2 0h22m2 0h5m2 0h0m2 0h0m8 0h1m2 0h0m2 0h0m-77 1h0m4 0h0m2 0h1m2 0h0m3 0h3m2 0h44m2 0h1m2 0h0m2 0h1m4 0h0m3 0h0m-72 1h0m4 0h1m2 0h0m2 0h45m2 0h4m13 0h0m-79 1h1m3 0h0m3 0h0m3 0h0m2 0h0m2 0h1m2 0h0m2 0h0m2 0h35m2 0h4m3 0h2m3 0h1m8 0h0m-92 1h0m11 0h0m7 0h1m3 0h1m2 0h50m2 0h0m7 0h0m2 0h0m5 0h1m-103 1h0m15 0h0m15 0h0m2 0h2m4 0h47m2 0h0m2 0h0m2 0h1m2 0h1m-76 1h0m2 0h0m4 0h0m3 0h0m3 0h9m2 0h18m2 0h10m2 0h12m2 0h1m3 0h0m3 0h1m-77 1h1m3 0h0m12 0h1m2 0h44m2 0h1m2 0h2m3 0h1m-78 1h0m8 0h0m4 0h1m4 0h1m3 0h22m2 0h16m2 0h7m2 0h0m23 0h0m-96 1h0m13 0h0m3 0h1m2 0h5m2 0h15m2 0h13m2 0h11m2 0h0m2 0h0m-69 1h0m2 0h1m6 0h0m3 0h1m3 0h4m2 0h8m2 0h23m2 0h6m3 0h2m2 0h0m6 0h0m5 0h0m-76 1h1m2 0h0m2 0h1m2 0h4m2 0h0m2 0h41m3 0h0m7 0h0m2 0h0m7 0h0m-79 1h0m4 0h0m8 0h7m2 0h28m2 0h5m2 0h1m4 0h0m7 0h0m-71 1h1m2 0h0m2 0h0m2 0h0m4 0h0m4 0h15m2 0h28m4 0h0m3 0h0m8 0h0m-82 1h0m8 0h0m3 0h0m3 0h2m3 0h3m2 0h32m2 0h0m3 0h4m4 0h1m2 0h0m2 0h0m2 0h0m-89 1h0m12 0h0m2 0h0m2 0h2m5 0h0m4 0h9m2 0h31m2 0h8m2 0h0m-79 1h0m17 0h0m5 0h2m3 0h0m3 0h0m2 0h11m2 0h13m2 0h10m3 0h0m2 0h0m2 0h1m6 0h0m-67 1h3m5 0h0m3 0h5m2 0h2m2 0h11m2 0h11m2 0h9m2 0h0m2 0h0m2 0h0m4 0h0m-69 1h0m4 0h0m2 0h1m3 0h0m2 0h2m2 0h7m2 0h1m2 0h3m2 0h1m2 0h10m2 0h3m3 0h4m3 0h0m3 0h0m-69 1h0m7 0h0m6 0h0m2 0h0m2 0h3m2 0h20m2 0h4m2 0h0m2 0h4m2 0h2m5 0h1m2 0h1m21 0h0m-93 1h0m3 0h1m3 0h0m5 0h1m2 0h0m3 0h1m2 0h0m2 0h4m2 0h14m2 0h8m3 0h6m3 0h0m3 0h0m19 0h0m-87 1h0m7 0h0m3 0h1m3 0h0m2 0h1m2 0h0m2 0h0m2 0h13m2 0h14m2 0h1m2 0h6m3 0h2m2 0h0m7 0h0m-71 1h0m2 0h0m2 0h0m2 0h0m3 0h0m3 0h0m2 0h0m3 0h20m2 0h2m2 0h4m2 0h4m2 0h3m14 0h0m-67 1h0m7 0h0m4 0h0m2 0h1m2 0h1m2 0h8m2 0h9m2 0h7m2 0h0m2 0h0m14 0h0m-75 1h0m5 0h0m3 0h2m5 0h1m2 0h0m3 0h2m2 0h4m2 0h0m2 0h7m2 0h0m2 0h3m2 0h3m2 0h0m2 0h0m3 0h0m3 0h0m2 0h0m5 0h0m-75 1h0m5 0h3m2 0h1m8 0h0m2 0h4m2 0h3m3 0h1m2 0h6m2 0h3m3 0h2m2 0h7m2 0h0m2 0h0m4 0h0m4 0h0m-80 1h0m18 0h0m3 0h0m2 0h0m2 0h3m7 0h1m3 0h6m2 0h3m3 0h1m2 0h1m3 0h5m2 0h0m6 0h0m5 0h0m5 0h0m-73 1h0m2 0h0m6 0h2m3 0h4m3 0h1m2 0h5m2 0h4m2 0h0m2 0h3m2 0h4m2 0h0m2 0h0m4 0h5m3 0h0m4 0h0m4 0h0m-60 1h1m4 0h1m3 0h0m4 0h3m3 0h0m2 0h0m3 0h1m2 0h0m2 0h0m5 0h0m2 0h0m3 0h1m3 0h2m2 0h0m-65 1h0m13 0h0m3 0h0m7 0h2m4 0h3m3 0h1m3 0h1m2 0h2m2 0h1m2 0h0m2 0h0m2 0h4m4 0h1m4 0h0m2 0h2m-63 1h0m4 0h0m4 0h1m2 0h0m4 0h0m2 0h1m6 0h1m2 0h4m4 0h2m2 0h1m3 0h0m5 0h0m3 0h2m2 0h1m-62 1h0m3 0h0m2 0h0m8 0h0m2 0h2m2 0h2m3 0h1m4 0h1m3 0h2m3 0h5m3 0h4m4 0h1m3 0h0m3 0h2m-59 1h0m6 0h0m10 0h1m3 0h2m4 0h4m3 0h1m3 0h0m4 0h1m5 0h0m3 0h0m3 0h0m4 0h0m15 0h0m-64 1h0m2 0h1m6 0h0m2 0h1m2 0h1m2 0h3m2 0h0m3 0h0m2 0h2m2 0h1m6 0h1m4 0h0m2 0h0m-58 1h0m9 0h0m3 0h0m16 0h0m2 0h0m3 0h2m2 0h7m2 0h0m4 0h1m3 0h0m-50 1h1m16 0h4m6 0h0m5 0h2m2 0h4m2 0h1m2 0h2m4 0h0m2 0h0m4 0h2m15 0h0m-57 1h0m4 0h0m2 0h0m5 0h0m7 0h1m3 0h1m2 0h0m2 0h0m4 0h0m6 0h0m3 0h2m-61 1h0m9 0h0m5 0h0m6 0h0m3 0h0m3 0h0m2 0h0m2 0h0m6 0h0m2 0h0m2 0h2m2 0h0m4 0h0m3 0h0m7 0h0m3 0h0m-57 1h0m12 0h0m2 0h0m3 0h0m7 0h0m2 0h0m2 0h0m2 0h1m4 0h0m3 0h0m2 0h0m2 0h0m-39 1h0m4 0h0m2 0h0m2 0h1m7 0h0m3 0h0m2 0h0m3 0h0m5 0h1m6 0h1m2 0h1m8 0h0m11 0h0m-59 1h0m7 0h0m2 0h0m8 0h0m8 0h4m5 0h0m2 0h1m2 0h0m5 0h0m3 0h0m-49 1h0m5 0h0m13 0h0m2 0h1m2 0h0m4 0h0m2 0h0m3 0h0m5 0h0m6 0h0m4 0h0m3 0h0m-68 1h0m23 0h0m3 0h0m15 0h0m4 0h0m2 0h1m7 0h0m2 0h0m-36 1h0m18 0h0m2 0h0m3 0h0m9 0h2m5 0h0m2 0h0m-42 1h0m8 0h0m4 0h0m5 0h0m5 0h0m3 0h0m-16 1h0m4 0h0m2 0h1m3 0h0m2 0h0m3 0h0m5 0h0m-30 1h1m9 0h0m8 0h0m12 0h0m8 0h0m10 0h0m-46 1h0m11 0h0m3 0h0m-22 1h0m12 0h0m6 0h0m5 0h0m10 0h0m2 0h1m-10 1h0m17 1h0m-26 1h0m2 0h0m15 0h0m-18 1h0m27 0h0m2 0h0m5 0h0m-58 1h0m25 0h0m11 0h0m-29 1h0m4 0h0m9 0h0m6 0h0m-12 1h0m20 2h0m-8 2h0m23 0h0m-28 2h0" stroke="#3a2288" stroke-width="1.7" stroke-linecap="square" fill="none"/>
<path d="M504 82h0m2 9h0m3 7h0m-28 3h0m22 0h0m10 0h0m-35 1h0m29 0h0m9 0h0m-19 1h0m-28 1h0m33 0h0m-31 1h0m22 0h0m3 0h0m-33 1h0m11 0h0m7 0h0m4 0h0m13 0h0m-42 1h0m12 0h0m11 0h0m14 0h0m10 0h0m9 0h0m-23 1h0m9 0h0m13 0h0m-39 1h1m2 0h0m2 0h0m12 0h0m6 0h0m6 0h1m8 0h1m-52 1h0m24 0h0m4 0h0m6 0h2m10 0h0m2 0h0m-53 1h0m17 0h0m14 0h0m4 0h0m2 0h2m3 0h0m14 0h0m-59 1h0m18 0h0m5 0h0m9 0h0m10 0h0m4 0h0m6 0h0m-41 1h0m10 0h0m19 0h1m5 0h0m8 0h0m-30 1h0m4 0h0m17 0h0m4 0h1m11 0h1m-65 1h0m19 0h0m2 0h0m3 0h0m5 0h0m4 0h0m2 0h0m4 0h1m4 0h0m-25 1h0m2 0h0m8 0h2m8 0h0m3 0h1m7 0h1m6 0h0m9 0h0m-49 1h0m7 0h0m4 0h0m12 0h1m4 0h0m2 0h2m20 0h0m-48 1h0m6 0h1m3 0h0m3 0h1m5 0h0m8 0h0m3 0h0m4 0h0m-50 1h0m3 0h0m2 0h0m12 0h0m3 0h0m16 0h0m2 0h1m5 0h0m3 0h0m3 0h0m-37 1h0m3 0h0m10 0h0m2 0h0m3 0h1m12 0h0m3 0h0m-54 1h0m2 0h0m6 0h0m3 0h1m2 0h0m3 0h0m17 0h0m3 0h0m2 0h0m2 0h1m6 0h0m10 0h0m-57 1h0m5 0h0m13 0h0m3 0h0m17 0h1m3 0h0m4 0h0m2 0h1m3 0h2m-51 1h0m4 0h0m6 0h1m4 0h0m2 0h0m7 0h0m2 0h0m4 0h0m4 0h0m2 0h0m4 0h0m4 0h0m7 0h1m3 0h0m2 0h0m2 0h0m4 0h1m-75 1h0m16 0h0m14 0h0m2 0h0m4 0h0m2 0h0m7 0h0m4 0h0m2 0h0m2 0h0m4 0h0m7 0h0m2 0h1m3 0h0m-61 1h1m2 0h0m5 0h1m11 0h0m2 0h0m5 0h2m2 0h0m3 0h2m5 0h0m2 0h0m6 0h0m2 0h0m4 0h0m6 0h0m-56 1h0m2 0h0m10 0h0m4 0h0m2 0h0m8 0h0m3 0h0m10 0h0m2 0h0m2 0h1m2 0h3m6 0h0m2 0h0m-73 1h0m12 0h0m5 0h0m4 0h0m2 0h0m4 0h0m4 0h0m2 0h0m2 0h1m4 0h0m15 0h0m3 0h1m2 0h0m4 0h0m2 0h0m3 0h0m-63 1h0m13 0h0m4 0h0m2 0h0m7 0h0m3 0h0m3 0h0m2 0h0m2 0h0m5 0h2m5 0h0m3 0h1m5 0h0m3 0h1m5 0h0m-63 1h0m5 0h0m5 0h0m4 0h0m3 0h1m6 0h0m3 0h0m3 0h0m17 0h0m3 0h0m3 0h0m2 0h0m4 0h1m2 0h0m-63 1h0m4 0h0m3 0h1m15 0h0m2 0h0m3 0h0m2 0h0m8 0h1m3 0h0m12 0h0m7 0h0m3 0h0m-72 1h0m5 0h0m5 0h0m2 0h2m2 0h1m4 0h1m2 0h0m5 0h0m2 0h1m11 0h0m2 0h0m9 0h3m2 0h0m13 0h0m-70 1h0m4 0h0m10 0h0m2 0h1m17 0h0m4 0h0m3 0h0m3 0h0m4 0h0m4 0h0m6 0h0m3 0h0m3 0h0m2 0h0m-80 1h0m14 0h1m5 0h0m2 0h1m8 0h0m3 0h0m2 0h0m23 0h0m2 0h0m6 0h0m3 0h0m4 0h0m-64 1h0m2 0h0m3 0h1m2 0h0m9 0h0m3 0h1m3 0h0m2 0h0m2 0h0m24 0h0m5 0h2m6 0h0m3 0h0m2 0h1m2 0h0m-80 1h0m2 0h0m3 0h0m2 0h1m7 0h0m4 0h2m2 0h0m10 0h0m25 0h0m2 0h1m3 0h0m5 0h1m11 0h0m-110 1h0m31 0h0m2 0h0m2 0h0m8 0h0m43 0h0m2 0h0m2 0h0m5 0h0m3 0h1m5 0h0m8 0h0m-79 1h0m2 0h0m3 0h0m2 0h0m2 0h0m2 0h0m4 0h0m2 0h1m7 0h0m26 0h0m9 0h1m4 0h0m2 0h1m8 0h0m-75 1h0m3 0h0m10 0h0m2 0h0m2 0h0m34 0h2m2 0h0m4 0h0m2 0h0m-62 1h0m2 0h1m3 0h0m4 0h2m3 0h0m3 0h1m2 0h0m33 0h0m3 0h1m8 0h0m3 0h0m-59 1h0m5 0h1m39 0h0m5 0h0m9 0h0m10 0h0m-88 1h0m5 0h1m3 0h0m7 0h0m42 0h0m3 0h0m4 0h1m2 0h0m2 0h0m2 0h0m3 0h0m2 0h1m6 0h0m-83 1h0m6 0h0m5 0h0m3 0h1m3 0h0m43 0h1m3 0h2m2 0h0m8 0h0m13 0h0m-103 1h0m9 0h0m2 0h0m3 0h0m10 0h0m2 0h0m2 0h0m2 0h0m57 0h2m6 0h1m-88 1h0m5 0h0m8 0h2m50 0h0m2 0h0m4 0h0m4 0h0m20 0h0m-89 1h0m3 0h0m4 0h0m7 0h1m48 0h0m3 0h0m5 0h0m2 0h0m6 0h0m4 0h1m-103 1h0m3 0h0m11 0h0m7 0h0m5 0h0m2 0h0m47 0h0m7 0h0m3 0h0m3 0h0m2 0h0m-82 1h0m10 0h0m5 0h0m8 0h0m4 0h1m43 0h0m8 0h0m4 0h0m2 0h0m-86 1h0m26 0h0m2 0h0m34 0h0m6 0h1m4 0h0m-64 1h1m3 0h0m3 0h0m2 0h0m4 0h0m3 0h0m2 0h1m40 0h0m3 0h1m3 0h0m3 0h1m2 0h0m-87 1h0m7 0h1m2 0h1m3 0h1m11 0h0m2 0h0m2 0h0m3 0h1m35 0h0m8 0h0m2 0h1m3 0h0m5 0h2m17 0h0m-122 1h0m15 0h0m14 0h1m6 0h0m4 0h0m50 0h1m2 0h0m5 0h0m-92 1h0m19 0h0m6 0h0m2 0h0m2 0h0m3 0h1m4 0h0m4 0h0m35 0h0m3 0h0m2 0h0m16 0h0m2 0h0m-95 1h0m8 0h0m6 0h0m3 0h0m2 0h0m7 0h0m6 0h1m43 0h0m2 0h0m4 0h0m2 0h0m2 0h1m-92 1h0m23 0h0m2 0h0m3 0h1m9 0h0m40 0h1m2 0h0m3 0h0m5 0h0m8 0h0m6 0h0m-82 1h0m7 0h0m4 0h0m6 0h0m36 0h0m3 0h1m5 0h0m4 0h0m6 0h0m4 0h0m3 0h0m-97 1h1m14 0h0m3 0h0m9 0h0m3 0h0m4 0h0m39 0h0m9 0h0m3 0h0m2 0h1m-79 1h1m5 0h0m8 0h0m7 0h1m5 0h0m30 0h0m2 0h0m4 0h1m2 0h0m4 0h2m7 0h0m-61 1h0m4 0h0m39 0h0m6 0h1m2 0h0m2 0h0m3 0h1m4 0h0m-88 1h0m9 0h0m5 0h0m2 0h1m3 0h0m6 0h1m4 0h0m43 0h1m3 0h0m9 0h0m-100 1h0m20 0h0m4 0h0m3 0h0m2 0h0m2 0h0m8 0h0m39 0h0m4 0h1m2 0h2m20 0h0m-113 1h0m31 0h0m10 0h0m3 0h0m43 0h0m6 0h0m2 0h1m5 0h1m7 0h0m7 0h0m-108 1h0m18 0h2m14 0h0m5 0h0m3 0h0m40 0h0m6 0h0m13 0h0m2 0h0m-102 1h0m10 0h2m5 0h0m2 0h0m5 0h0m6 0h3m2 0h0m8 0h0m34 0h0m8 0h0m3 0h0m3 0h0m21 0h0m-107 1h0m10 0h1m5 0h0m3 0h0m4 0h0m6 0h0m7 0h0m27 0h0m-68 1h0m4 0h0m14 0h0m9 0h0m4 0h0m5 0h0m38 0h1m5 0h0m4 0h0m6 0h0m-91 1h0m2 0h0m9 0h0m14 0h1m5 0h0m7 0h0m4 0h0m38 0h0m4 0h2m4 0h0m3 0h0m13 0h0m15 0h0m-114 1h1m8 0h0m10 0h2m7 0h0m2 0h0m28 0h0m6 0h0m7 0h0m2 0h0m17 0h0m-82 1h0m2 0h0m14 0h0m2 0h1m5 0h0m8 0h0m13 0h0m9 0h0m4 0h0m9 0h0m-71 1h0m3 0h0m9 0h0m3 0h0m3 0h0m2 0h0m12 0h0m15 0h0m4 0h0m13 0h0m8 0h0m12 0h0m-90 1h1m14 0h0m7 0h0m4 0h0m5 0h0m2 0h0m4 0h1m3 0h0m9 0h0m4 0h0m2 0h0m19 0h0m3 0h0m6 0h0m7 0h0m-87 1h0m6 0h1m2 0h0m3 0h0m3 0h0m3 0h0m3 0h0m5 0h0m2 0h0m24 0h0m8 0h0m4 0h0m7 0h0m2 0h1m-77 1h0m10 0h0m2 0h0m12 0h0m10 0h0m5 0h0m5 0h0m4 0h0m12 0h0m8 0h1m-72 1h0m8 0h0m7 0h0m14 0h1m6 0h0m3 0h0m2 0h0m2 0h0m4 0h0m3 0h0m6 0h1m4 0h1m2 0h0m3 0h1m5 0h0m5 0h0m9 0h0m-73 1h0m6 0h1m7 0h0m4 0h0m4 0h0m9 0h0m5 0h0m3 0h0m2 0h0m3 0h0m11 0h1m5 0h0m-56 1h2m3 0h0m6 0h0m4 0h0m9 0h0m9 0h1m11 0h0m8 0h0m2 0h0m-59 1h0m36 0h0m2 0h1m2 0h0m14 0h0m6 0h1m-70 1h0m9 0h1m6 0h0m11 0h0m8 0h0m8 0h0m2 0h1m4 0h0m6 0h1m13 0h0m18 0h0m-108 1h0m19 0h0m8 0h0m11 0h0m10 0h0m2 0h0m6 0h1m7 0h0m3 0h0m3 0h0m3 0h0m2 0h1m10 0h0m-63 1h0m20 0h0m4 0h1m6 0h0m2 0h0m12 0h0m10 0h0m-53 1h0m3 0h0m8 0h1m7 0h0m5 0h0m2 0h1m2 0h0m2 0h0m7 0h0m2 0h1m8 0h0m7 0h0m-58 1h0m12 0h0m2 0h2m7 0h0m2 0h1m8 0h0m3 0h0m5 0h0m2 0h0m2 0h0m3 0h0m2 0h0m-72 1h0m15 0h0m3 0h0m4 0h0m5 0h1m5 0h0m2 0h0m3 0h1m4 0h0m5 0h0m2 0h0m8 0h0m2 0h0m2 0h0m8 0h1m-48 1h0m2 0h0m14 0h0m8 0h1m2 0h0m2 0h0m6 0h1m9 0h0m5 0h1m-52 1h0m18 0h1m7 0h1m2 0h0m4 0h0m3 0h2m3 0h0m16 0h0m-69 1h0m4 0h0m6 0h0m8 0h1m9 0h0m2 0h0m3 0h0m2 0h0m2 0h0m9 0h0m2 0h0m-53 1h0m19 0h1m2 0h0m9 0h0m3 0h0m2 0h0m4 0h0m7 0h0m2 0h0m5 0h0m4 0h1m7 0h0m8 0h0m2 0h0m-61 1h1m8 0h0m7 0h0m3 0h1m15 0h0m4 0h0m18 0h1m-66 1h0m10 0h0m3 0h0m26 0h0m13 0h0m8 0h0m16 0h0m-75 1h0m2 0h0m2 0h0m4 0h0m8 0h0m5 0h0m5 0h0m5 0h0m5 0h0m4 0h0m8 0h0m3 0h0m-64 1h0m5 0h0m24 0h0m2 0h0m17 0h0m2 0h0m6 0h0m18 0h0m11 0h0m-64 1h0m23 0h0m6 0h0m6 0h0m19 0h0m-63 1h0m24 0h0m5 0h0m5 0h0m34 0h0m-81 1h0m20 0h0m3 0h0m8 0h0m16 0h0m14 0h0m-36 1h0m14 0h0m23 0h0m4 0h0m-54 1h0m40 0h0m-25 1h0m6 0h0m13 0h0m6 0h0m-57 1h0m26 0h0m7 0h0m4 0h0m3 0h1m10 0h1m-25 1h0m9 0h0m15 0h1m-33 1h0m35 0h0m3 0h0m2 0h0m-58 1h0m21 0h0m29 0h0m4 0h0m29 0h0m-71 1h0m37 0h0m-8 1h0m-41 1h0m9 0h0m2 0h0m17 0h0m7 0h0m8 0h0m17 0h0m3 0h0m-33 1h0m7 0h0m26 0h0m-32 1h0m5 0h0m-6 1h0m8 1h0m23 0h0m-22 1h0m2 1h0m6 1h0m-28 2h0m-10 1h0m16 2h0" stroke="#e04846" stroke-width="1.55" stroke-linecap="square" fill="none"/>
<path d="M509 101h0m-5 3h0m-6 2h0m-27 1h0m3 0h0m17 0h0m-13 1h0m11 0h0m9 0h0m-1 1h0m-10 1h0m2 1h0m5 0h0m-22 1h0m6 0h0m6 0h0m4 0h0m22 0h0m-26 1h0m7 0h0m11 0h0m-42 1h0m21 0h0m9 0h0m7 0h0m8 0h0m6 0h0m-47 1h0m8 0h0m2 0h1m8 0h2m8 0h0m-39 1h0m22 0h0m4 0h0m3 0h0m4 0h0m6 0h0m-28 1h0m4 0h0m2 0h0m4 0h0m4 0h0m11 0h0m3 0h0m16 0h0m-50 1h0m19 0h0m4 0h0m13 0h1m2 0h1m2 0h0m8 0h0m6 0h0m-62 1h0m24 0h0m3 0h0m2 0h0m7 0h0m-39 1h0m25 0h0m3 0h0m5 0h0m2 0h0m4 0h0m3 0h1m2 0h1m7 0h0m10 0h0m-50 1h0m2 0h0m9 0h0m2 0h0m4 0h0m3 0h2m2 0h1m5 0h0m4 0h0m2 0h1m2 0h0m5 0h0m-46 1h0m7 0h0m2 0h0m3 0h1m6 0h0m5 0h1m4 0h0m3 0h0m4 0h1m9 0h1m-60 1h0m21 0h0m2 0h0m2 0h0m9 0h0m4 0h0m7 0h0m5 0h0m-38 1h0m4 0h0m2 0h0m2 0h0m2 0h4m2 0h3m2 0h0m2 0h1m5 0h0m4 0h0m2 0h0m3 0h0m-35 1h0m6 0h1m2 0h0m2 0h0m3 0h1m3 0h0m5 0h0m3 0h0m2 0h1m8 0h0m3 0h0m2 0h0m-42 1h0m3 0h0m4 0h0m3 0h0m5 0h0m2 0h0m2 0h2m4 0h0m5 0h0m3 0h0m3 0h0m6 0h0m-55 1h0m2 0h0m6 0h1m5 0h0m2 0h1m2 0h0m2 0h2m2 0h1m2 0h0m3 0h5m6 0h0m2 0h1m2 0h0m4 0h0m6 0h0m-64 1h0m8 0h0m7 0h1m2 0h1m2 0h1m4 0h5m2 0h1m3 0h0m3 0h2m4 0h0m2 0h2m5 0h1m4 0h0m4 0h0m-61 1h0m10 0h0m4 0h0m2 0h2m2 0h0m2 0h1m2 0h0m2 0h2m2 0h3m2 0h1m2 0h2m3 0h0m3 0h0m4 0h0m9 0h0m-57 1h0m5 0h2m2 0h2m2 0h1m2 0h6m2 0h3m2 0h2m3 0h0m3 0h2m4 0h0m2 0h0m3 0h2m7 0h0m2 0h1m-83 1h0m31 0h0m3 0h0m2 0h0m2 0h1m8 0h0m2 0h1m3 0h1m2 0h1m2 0h0m2 0h0m3 0h1m2 0h0m2 0h0m4 0h0m-58 1h0m7 0h0m2 0h1m5 0h1m3 0h1m4 0h1m2 0h3m2 0h1m5 0h0m3 0h1m2 0h0m4 0h0m6 0h1m7 0h1m-63 1h0m7 0h0m5 0h1m4 0h4m3 0h9m2 0h0m3 0h0m2 0h0m2 0h2m2 0h0m2 0h1m2 0h1m5 0h0m5 0h0m3 0h0m-62 1h0m6 0h1m3 0h6m2 0h1m2 0h7m2 0h2m4 0h1m3 0h0m3 0h0m9 0h0m2 0h0m7 0h0m-66 1h0m14 0h0m4 0h5m2 0h0m2 0h3m3 0h1m2 0h5m2 0h0m2 0h4m2 0h3m10 0h0m14 0h0m-80 1h0m7 0h1m4 0h0m2 0h4m3 0h0m2 0h0m2 0h0m2 0h0m2 0h0m2 0h0m2 0h5m2 0h8m3 0h1m12 0h0m-64 1h0m3 0h0m3 0h1m3 0h0m4 0h0m4 0h3m3 0h14m2 0h4m2 0h4m3 0h0m2 0h2m-72 1h0m8 0h0m3 0h0m6 0h0m3 0h0m3 0h2m2 0h1m2 0h0m3 0h2m2 0h1m2 0h4m2 0h4m2 0h1m2 0h1m2 0h1m2 0h3m2 0h0m2 0h1m5 0h1m-57 1h0m4 0h3m3 0h0m2 0h0m2 0h24m3 0h0m3 0h4m2 0h1m4 0h0m4 0h1m-74 1h0m7 0h0m5 0h0m6 0h0m4 0h3m2 0h0m2 0h4m2 0h4m2 0h3m2 0h4m2 0h1m2 0h4m9 0h0m-61 1h1m3 0h0m10 0h2m4 0h0m2 0h0m2 0h1m3 0h4m2 0h5m3 0h3m5 0h1m3 0h3m8 0h0m4 0h0m-76 1h0m4 0h0m2 0h0m8 0h0m2 0h0m3 0h1m3 0h1m2 0h1m2 0h2m2 0h10m3 0h0m2 0h1m2 0h3m2 0h0m2 0h1m3 0h2m11 0h1m3 0h1m-88 1h0m21 0h1m5 0h3m3 0h0m2 0h1m2 0h16m2 0h4m2 0h2m2 0h1m4 0h0m10 0h0m-74 1h0m10 0h0m2 0h0m3 0h0m3 0h0m2 0h0m2 0h0m4 0h1m2 0h26m3 0h0m2 0h0m4 0h2m4 0h0m17 0h0m-87 1h0m6 0h0m2 0h0m3 0h2m3 0h0m2 0h4m2 0h34m2 0h0m3 0h2m10 0h1m-69 1h1m6 0h0m2 0h0m3 0h0m4 0h2m3 0h19m2 0h2m2 0h0m3 0h0m3 0h1m3 0h0m7 0h0m-80 1h0m8 0h1m6 0h1m3 0h0m2 0h0m5 0h0m2 0h1m2 0h1m2 0h6m2 0h8m2 0h9m2 0h2m2 0h1m2 0h0m15 0h0m-75 1h0m2 0h0m3 0h0m2 0h0m4 0h24m2 0h9m2 0h3m2 0h0m2 0h2m2 0h0m3 0h0m3 0h0m8 0h0m-83 1h0m3 0h0m6 0h0m3 0h0m3 0h2m2 0h0m5 0h0m2 0h2m2 0h1m2 0h19m2 0h2m2 0h8m2 0h0m3 0h0m3 0h1m2 0h1m3 0h1m-72 1h0m4 0h0m2 0h2m4 0h0m2 0h1m2 0h0m2 0h1m3 0h24m2 0h7m3 0h1m3 0h0m2 0h0m-68 1h0m5 0h0m3 0h0m2 0h1m4 0h0m4 0h7m3 0h0m2 0h13m2 0h10m2 0h0m4 0h4m3 0h0m-70 1h0m3 0h0m3 0h1m2 0h1m5 0h2m3 0h0m5 0h5m2 0h1m2 0h18m4 0h2m3 0h1m2 0h0m16 0h0m-82 1h0m5 0h0m2 0h0m3 0h0m2 0h1m3 0h1m2 0h20m2 0h6m2 0h0m2 0h3m2 0h1m3 0h2m7 0h0m-84 1h0m9 0h0m8 0h0m7 0h0m2 0h4m2 0h0m3 0h0m2 0h0m3 0h19m2 0h4m4 0h4m3 0h0m-69 1h0m10 0h0m6 0h0m4 0h0m2 0h0m2 0h17m2 0h1m2 0h7m2 0h1m2 0h8m7 0h0m7 0h0m-74 1h0m5 0h0m2 0h0m4 0h0m4 0h3m2 0h1m2 0h2m2 0h4m2 0h1m2 0h11m3 0h8m2 0h5m-61 1h0m6 0h0m3 0h4m2 0h0m2 0h7m2 0h1m2 0h12m2 0h0m2 0h1m2 0h1m2 0h0m2 0h1m2 0h1m4 0h0m-65 1h0m4 0h0m2 0h1m2 0h0m4 0h0m2 0h0m2 0h1m2 0h0m2 0h1m2 0h6m2 0h0m2 0h4m2 0h5m2 0h3m2 0h4m3 0h0m3 0h0m2 0h1m-64 1h0m7 0h2m2 0h0m2 0h3m2 0h14m2 0h2m2 0h0m3 0h0m2 0h0m3 0h2m2 0h0m2 0h0m2 0h1m4 0h0m5 0h0m3 0h0m-75 1h0m7 0h0m4 0h1m2 0h0m2 0h4m2 0h0m3 0h0m2 0h2m2 0h0m2 0h4m2 0h1m4 0h2m2 0h2m2 0h0m4 0h0m6 0h0m3 0h0m2 0h0m-63 1h0m9 0h1m2 0h1m3 0h0m2 0h11m2 0h5m3 0h2m3 0h0m2 0h2m2 0h0m2 0h1m2 0h0m3 0h2m4 0h0m2 0h0m-56 1h0m2 0h0m2 0h0m2 0h0m2 0h1m2 0h5m2 0h3m2 0h1m2 0h0m2 0h4m6 0h2m3 0h2m2 0h1m2 0h0m2 0h0m7 0h0m-80 1h0m8 0h0m4 0h4m3 0h0m4 0h0m2 0h7m2 0h5m2 0h10m2 0h3m5 0h0m5 0h2m-76 1h0m3 0h0m9 0h0m2 0h0m13 0h0m2 0h0m4 0h0m2 0h3m3 0h7m2 0h1m2 0h5m2 0h3m4 0h0m2 0h0m3 0h0m2 0h0m9 0h0m-63 1h0m6 0h0m3 0h0m3 0h1m3 0h2m2 0h0m2 0h0m3 0h4m2 0h2m3 0h2m2 0h4m2 0h2m3 0h0m10 0h0m3 0h0m-88 1h0m19 0h0m5 0h0m2 0h0m2 0h2m5 0h0m2 0h2m2 0h6m2 0h2m2 0h0m3 0h0m2 0h7m3 0h1m6 0h0m5 0h0m-64 1h0m7 0h1m3 0h0m3 0h0m2 0h1m2 0h1m3 0h2m3 0h1m2 0h8m2 0h1m2 0h4m3 0h1m8 0h0m4 0h0m3 0h0m3 0h0m-76 1h0m12 0h0m2 0h0m6 0h2m4 0h0m3 0h1m2 0h0m2 0h2m3 0h2m2 0h5m2 0h1m2 0h0m2 0h0m2 0h1m14 0h0m-57 1h0m2 0h0m2 0h0m2 0h0m2 0h2m2 0h0m3 0h0m3 0h3m2 0h5m2 0h1m2 0h4m2 0h2m2 0h0m4 0h0m2 0h1m-50 1h0m3 0h2m4 0h0m2 0h1m2 0h0m3 0h2m2 0h0m2 0h2m2 0h2m2 0h0m3 0h2m3 0h0m8 0h0m2 0h1m2 0h0m-58 1h0m6 0h0m2 0h0m8 0h2m5 0h1m2 0h0m2 0h2m3 0h3m2 0h0m7 0h1m2 0h2m3 0h0m5 0h0m3 0h0m-75 1h0m16 0h1m4 0h0m2 0h0m4 0h0m3 0h0m4 0h0m4 0h0m2 0h4m4 0h0m2 0h0m2 0h6m3 0h0m20 0h0m7 0h0m-76 1h1m7 0h0m8 0h3m2 0h0m2 0h1m3 0h1m5 0h1m2 0h3m3 0h0m2 0h0m8 0h1m4 0h0m3 0h0m-62 1h0m11 0h5m4 0h0m4 0h4m4 0h5m2 0h0m3 0h0m2 0h0m3 0h0m8 0h0m-49 1h1m3 0h1m2 0h2m5 0h2m2 0h0m2 0h0m3 0h1m2 0h1m3 0h0m2 0h1m3 0h0m2 0h0m18 0h0m-66 1h0m8 0h1m6 0h2m4 0h1m2 0h0m5 0h4m3 0h0m3 0h1m3 0h0m2 0h1m6 0h0m-43 1h0m9 0h0m10 0h0m2 0h0m2 0h0m4 0h0m2 0h3m2 0h0m3 0h0m5 0h0m6 0h0m-55 1h0m10 0h0m6 0h1m3 0h0m6 0h0m3 0h2m5 0h1m3 0h0m6 0h0m7 0h1m2 0h0m3 0h0m2 0h0m-62 1h0m10 0h0m7 0h2m3 0h0m5 0h1m3 0h1m2 0h4m9 0h0m4 0h0m4 0h0m-56 1h0m9 0h0m4 0h0m3 0h0m3 0h0m7 0h0m2 0h0m5 0h4m2 0h0m2 0h0m4 0h0m5 0h0m8 0h0m-50 1h0m13 0h3m6 0h5m2 0h0m2 0h0m8 0h0m12 0h0m-63 1h0m5 0h1m6 0h0m4 0h0m5 0h0m3 0h1m3 0h2m2 0h1m3 0h2m13 0h0m-47 1h0m15 0h0m4 0h0m4 0h0m4 0h0m3 0h0m9 0h0m-36 1h0m7 0h0m4 0h0m4 0h0m9 0h1m6 0h1m8 0h0m-36 1h0m4 0h0m4 0h1m15 0h0m5 0h0m4 0h0m2 0h0m9 0h0m-55 1h0m7 0h0m17 0h0m5 0h0m7 0h0m20 0h0m-49 1h0m2 0h0m14 0h1m8 0h0m3 0h0m2 0h0m5 0h0m5 0h0m-40 1h0m4 0h0m3 0h4m5 0h0m29 0h0m-41 1h0m2 0h0m2 0h0m9 0h1m6 0h0m-26 1h0m3 0h1m9 0h0m2 0h0m21 0h0m3 0h0m3 0h0m2 0h0m6 0h1m-58 1h0m7 0h0m7 0h0m8 0h0m5 0h0m3 0h0m3 0h0m2 0h0m-27 1h0m22 0h0m3 0h0m2 0h0m17 0h0m-57 1h0m8 0h0m2 0h0m14 0h0m5 0h0m4 0h0m3 0h0m10 0h0m-42 1h0m4 0h0m5 0h0m4 0h0m9 0h2m2 1h0m4 0h0m15 0h0m-2 1h0m3 0h0m-32 2h0m-10 1h0m3 1h0m37 1h0m-34 1h0m7 2h0m26 0h0m-41 1h0m9 0h0m12 0h0m-3 7h0" stroke="#3a2288" stroke-width="1.7" stroke-linecap="square" fill="none"/>
</g>
<path d="M375.5 74.5H518.7V218" stroke="#777" stroke-width="1.4" fill="none"/>
<path d="M375.5 73.8V218H519.2" stroke="#222" stroke-width="1.3" fill="none"/>
<path d="M373.5 218.1H375.5M373.5 214.6H375.5M372.0 211.5H375.5M373.5 190.9H375.5M373.5 178.8H375.5M373.5 170.3H375.5M373.5 163.6H375.5M373.5 158.2H375.5M373.5 153.6H375.5M373.5 149.6H375.5M373.5 146.1H375.5M372.0 143.0H375.5M373.5 122.4H375.5M373.5 110.3H375.5M373.5 101.8H375.5M373.5 95.1H375.5M373.5 89.7H375.5M373.5 85.1H375.5M373.5 81.1H375.5M373.5 77.6H375.5M372.0 74.5H375.5M375.8 218V220.0M381.6 218V220.0M386.4 218V220.0M390.4 218V220.0M393.8 218V220.0M396.9 218V220.0M399.6 218V221.5M417.6 218V220.0M428.1 218V220.0M435.5 218V220.0M441.3 218V220.0M446.1 218V220.0M450.1 218V220.0M453.5 218V220.0M456.6 218V220.0M459.3 218V221.5M477.3 218V220.0M487.8 218V220.0M495.2 218V220.0M501.0 218V220.0M505.8 218V220.0M509.8 218V220.0M513.2 218V220.0M516.3 218V220.0" stroke="#222" stroke-width="1.1" fill="none"/>
<text x="368.6" y="79.0" font-size="8" fill="#1a1a1a" stroke="#1a1a1a" stroke-width="0.1" text-anchor="end">10<tspan font-size="5.6" dy="-3">5</tspan></text>
<text x="368.6" y="147.5" font-size="8" fill="#1a1a1a" stroke="#1a1a1a" stroke-width="0.1" text-anchor="end">10<tspan font-size="5.6" dy="-3">4</tspan></text>
<text x="368.6" y="216.0" font-size="8" fill="#1a1a1a" stroke="#1a1a1a" stroke-width="0.1" text-anchor="end">10<tspan font-size="5.6" dy="-3">3</tspan></text>
<text x="392.3" y="231.3" font-size="8" fill="#1a1a1a" stroke="#1a1a1a" stroke-width="0.1">10<tspan font-size="5.6" dy="-3">3</tspan></text>
<text x="453.5" y="231.3" font-size="8" fill="#1a1a1a" stroke="#1a1a1a" stroke-width="0.1">10<tspan font-size="5.6" dy="-3">4</tspan></text>
<text x="91" y="276.6" font-size="9.6" fill="#1a1a1a" stroke="#1a1a1a" stroke-width="0.3" font-style="italic" textLength="25" lengthAdjust="spacingAndGlyphs">Day 4</text>
<g transform="translate(.5 .5)">
<path d="M165 303h0m-1 2h0m0 1h0m-7 2h0m-21 1h0m7 1h0m-5 2h0m1 2h0m-13 1h0m19 0h0m10 0h0m16 0h0m-24 2h1m10 0h0m-11 1h0m-12 1h0m9 1h0m9 0h0m8 0h0m-14 1h0m18 0h0m-36 1h0m2 0h0m9 0h0m31 0h0m-37 1h0m-13 1h0m22 0h0m11 0h0m-25 1h0m10 0h0m15 0h0m9 0h0m-55 1h0m7 0h0m17 0h0m10 0h0m4 0h0m3 0h0m-29 1h0m14 0h0m2 0h0m29 0h0m6 0h0m-39 1h0m18 0h0m2 0h0m10 0h1m-50 1h0m13 0h0m6 0h0m3 0h0m5 0h0m3 0h0m11 0h0m3 0h0m11 0h0m-67 1h0m20 0h0m4 0h0m18 0h0m24 0h0m6 0h0m-38 1h1m7 0h0m3 0h0m4 0h0m-44 1h0m6 0h0m6 0h0m14 0h0m3 0h0m5 0h0m5 0h0m3 0h0m3 0h0m-56 1h0m3 0h0m5 0h0m8 0h0m10 0h0m3 0h1m4 0h1m2 0h0m2 0h1m2 0h0m3 0h0m7 0h0m3 0h1m9 0h0m2 0h0m4 0h1m8 0h0m-67 1h0m8 0h0m6 0h0m2 0h1m8 0h0m6 0h0m3 0h0m3 0h0m2 0h0m2 0h0m2 0h0m4 0h1m3 0h0m2 0h0m2 0h0m-67 1h0m15 0h0m3 0h1m2 0h0m3 0h0m5 0h0m4 0h8m2 0h0m4 0h0m2 0h0m2 0h1m2 0h0m2 0h0m3 0h0m-43 1h0m4 0h0m2 0h0m3 0h0m2 0h0m2 0h1m6 0h0m4 0h3m2 0h0m11 0h0m3 0h0m9 0h0m-70 1h0m19 0h0m4 0h4m2 0h2m3 0h2m2 0h2m4 0h0m8 0h2m2 0h0m3 0h0m6 0h2m-73 1h0m7 0h0m2 0h0m10 0h0m3 0h0m10 0h0m9 0h4m3 0h3m2 0h3m2 0h0m2 0h0m4 0h1m3 0h1m11 0h0m-68 1h0m2 0h0m5 0h0m9 0h1m2 0h1m2 0h1m2 0h0m3 0h1m3 0h0m2 0h3m3 0h4m6 0h0m3 0h0m6 0h1m5 0h0m3 0h0m-71 1h0m8 0h0m3 0h0m2 0h0m4 0h0m2 0h1m3 0h1m2 0h0m2 0h0m4 0h0m4 0h1m3 0h1m2 0h0m4 0h0m2 0h0m2 0h0m4 0h1m16 0h0m-89 1h0m14 0h0m6 0h0m5 0h0m3 0h0m2 0h0m4 0h0m2 0h0m6 0h1m2 0h5m2 0h0m2 0h1m4 0h0m2 0h1m4 0h0m6 0h1m3 0h1m-49 1h0m2 0h1m3 0h1m4 0h0m4 0h1m3 0h2m2 0h1m2 0h1m3 0h0m2 0h2m2 0h0m2 0h0m2 0h0m3 0h0m2 0h1m-50 1h1m7 0h3m2 0h0m2 0h2m2 0h0m2 0h4m2 0h6m2 0h0m2 0h4m6 0h1m-51 1h0m7 0h1m4 0h0m3 0h0m2 0h3m2 0h0m2 0h0m2 0h7m2 0h2m2 0h2m3 0h0m5 0h0m4 0h0m3 0h0m7 0h0m10 0h0m-88 1h0m5 0h0m6 0h0m2 0h0m5 0h3m3 0h0m3 0h1m2 0h0m2 0h1m2 0h1m2 0h1m2 0h1m2 0h0m2 0h0m2 0h3m2 0h2m3 0h2m2 0h0m2 0h0m6 0h0m10 0h0m-66 1h0m5 0h0m5 0h2m2 0h12m2 0h7m2 0h2m2 0h6m3 0h1m3 0h0m4 0h0m11 0h0m-80 1h0m2 0h1m10 0h1m2 0h5m2 0h4m2 0h9m2 0h12m2 0h3m3 0h0m3 0h0m2 0h0m2 0h0m2 0h0m2 0h1m14 0h0m-95 1h0m5 0h0m8 0h0m5 0h0m6 0h18m2 0h2m2 0h5m3 0h2m3 0h1m3 0h0m2 0h1m4 0h1m2 0h0m2 0h0m3 0h0m5 0h0m9 0h0m-86 1h0m11 0h0m2 0h0m2 0h0m2 0h1m2 0h0m2 0h0m2 0h2m2 0h7m2 0h6m2 0h4m2 0h1m4 0h2m3 0h0m2 0h0m6 0h0m6 0h0m-107 1h0m31 0h1m4 0h0m3 0h1m6 0h1m2 0h2m2 0h2m2 0h3m2 0h5m2 0h0m3 0h3m2 0h4m2 0h4m2 0h0m3 0h0m2 0h0m2 0h0m6 0h0m5 0h0m6 0h0m-83 1h1m9 0h1m3 0h13m2 0h15m2 0h4m2 0h1m3 0h5m2 0h3m5 0h1m11 0h0m-93 1h0m6 0h0m2 0h0m11 0h0m2 0h1m2 0h0m2 0h0m2 0h1m2 0h7m4 0h5m2 0h2m2 0h7m2 0h1m4 0h2m3 0h0m5 0h0m2 0h0m5 0h0m11 0h0m-93 1h0m13 0h0m6 0h2m6 0h0m2 0h0m3 0h5m3 0h14m2 0h3m2 0h2m2 0h1m2 0h0m5 0h0m7 0h0m-105 1h0m15 0h0m8 0h0m7 0h1m7 0h1m3 0h1m2 0h1m2 0h0m2 0h2m2 0h21m2 0h3m3 0h6m2 0h1m2 0h0m2 0h1m-73 1h0m10 0h0m3 0h0m7 0h0m4 0h11m2 0h14m2 0h0m2 0h4m2 0h4m2 0h1m2 0h0m4 0h0m5 0h0m8 0h0m-95 1h0m6 0h0m11 0h0m2 0h1m2 0h0m2 0h0m2 0h6m2 0h15m2 0h1m2 0h1m2 0h12m3 0h4m6 0h0m2 0h1m3 0h0m5 0h0m3 0h0m-95 1h0m14 0h0m5 0h0m2 0h3m2 0h13m2 0h0m2 0h23m2 0h1m2 0h0m3 0h0m3 0h0m4 0h0m3 0h0m-95 1h0m14 0h0m4 0h0m2 0h2m2 0h0m3 0h0m2 0h3m2 0h1m2 0h0m2 0h1m2 0h3m2 0h3m2 0h13m2 0h7m2 0h0m2 0h6m2 0h2m2 0h0m10 0h1m-85 1h1m3 0h0m2 0h1m2 0h0m5 0h0m2 0h0m2 0h4m3 0h6m2 0h27m3 0h0m2 0h0m3 0h1m2 0h1m4 0h1m-83 1h0m5 0h0m11 0h0m3 0h0m2 0h1m4 0h0m2 0h2m2 0h6m2 0h17m2 0h6m2 0h6m2 0h0m7 0h0m14 0h1m-93 1h0m5 0h0m8 0h3m2 0h1m2 0h3m3 0h19m2 0h2m3 0h13m7 0h0m5 0h1m-102 1h0m12 0h0m2 0h0m4 0h0m13 0h4m3 0h2m2 0h0m2 0h0m2 0h13m3 0h22m4 0h2m2 0h0m2 0h1m6 0h0m-66 1h7m3 0h10m3 0h1m2 0h20m2 0h0m2 0h0m2 0h0m2 0h0m-70 1h0m5 0h0m8 0h0m2 0h0m3 0h1m2 0h3m2 0h8m3 0h20m2 0h8m2 0h1m3 0h0m3 0h1m2 0h1m-84 1h0m3 0h0m3 0h0m3 0h0m2 0h0m3 0h0m2 0h1m2 0h0m4 0h2m2 0h3m2 0h7m2 0h12m2 0h10m4 0h1m2 0h0m2 0h2m2 0h0m-79 1h0m5 0h0m8 0h1m4 0h2m2 0h0m3 0h1m3 0h1m3 0h8m2 0h22m3 0h2m2 0h0m6 0h0m2 0h0m3 0h0m-74 1h0m10 0h12m2 0h3m2 0h12m2 0h4m2 0h5m2 0h6m2 0h0m4 0h0m2 0h0m12 0h0m-81 1h0m3 0h0m2 0h0m2 0h0m2 0h3m3 0h0m2 0h13m2 0h0m2 0h25m2 0h1m2 0h0m2 0h0m2 0h0m13 0h0m-103 1h0m19 0h0m4 0h1m2 0h0m2 0h0m6 0h0m2 0h37m2 0h3m7 0h0m8 0h0m4 0h0m-105 1h1m19 0h0m11 0h0m3 0h0m5 0h2m2 0h2m2 0h18m2 0h4m2 0h11m2 0h1m2 0h4m2 0h1m2 0h0m7 0h0m2 0h0m-100 1h0m2 0h0m5 0h0m6 0h0m7 0h0m5 0h4m2 0h1m2 0h7m3 0h3m2 0h4m3 0h12m2 0h3m2 0h2m2 0h3m5 0h0m18 0h0m-110 1h0m20 0h0m5 0h0m6 0h2m2 0h0m4 0h1m2 0h9m2 0h20m3 0h2m3 0h1m2 0h2m5 0h0m4 0h0m18 0h0m-107 1h1m5 0h0m5 0h0m3 0h0m2 0h0m3 0h0m5 0h0m2 0h0m2 0h0m2 0h3m2 0h8m3 0h3m2 0h7m2 0h0m2 0h4m4 0h1m3 0h3m2 0h1m3 0h1m2 0h1m3 0h0m2 0h1m5 0h0m-98 1h0m8 0h0m4 0h0m10 0h2m4 0h1m2 0h6m2 0h8m3 0h7m2 0h2m2 0h1m2 0h0m2 0h1m2 0h6m5 0h0m5 0h0m8 0h1m11 0h0m-99 1h0m4 0h0m5 0h0m4 0h0m2 0h1m3 0h0m4 0h5m2 0h2m2 0h7m3 0h3m3 0h1m2 0h0m2 0h1m2 0h2m3 0h1m3 0h0m5 0h0m5 0h1m4 0h0m-80 1h0m3 0h0m2 0h0m2 0h0m2 0h0m2 0h2m2 0h1m2 0h1m3 0h0m2 0h2m2 0h1m2 0h0m2 0h1m2 0h14m3 0h3m4 0h0m3 0h0m2 0h2m3 0h0m3 0h0m3 0h0m-77 1h0m3 0h0m2 0h1m3 0h1m7 0h0m4 0h2m2 0h2m3 0h0m2 0h6m2 0h4m2 0h7m2 0h0m2 0h0m3 0h2m4 0h0m4 0h0m3 0h0m7 0h1m-73 1h0m3 0h0m3 0h0m7 0h0m2 0h1m2 0h5m2 0h9m3 0h3m3 0h0m4 0h5m3 0h4m5 0h0m7 0h0m-89 1h0m7 0h0m14 0h1m2 0h1m2 0h0m2 0h0m2 0h1m3 0h0m3 0h1m2 0h0m2 0h0m2 0h7m2 0h1m3 0h5m3 0h0m3 0h3m4 0h2m-68 1h0m5 0h0m4 0h0m3 0h1m3 0h1m2 0h0m2 0h3m3 0h3m3 0h4m2 0h1m2 0h1m4 0h3m3 0h0m2 0h0m2 0h1m12 0h0m2 0h0m3 0h0m-69 1h0m9 0h0m2 0h0m3 0h6m2 0h4m2 0h0m2 0h5m2 0h4m3 0h1m3 0h0m3 0h0m2 0h1m3 0h1m3 0h0m5 0h0m-87 1h0m4 0h0m9 0h0m5 0h0m2 0h0m2 0h2m2 0h2m3 0h0m2 0h0m2 0h9m4 0h1m2 0h1m4 0h0m3 0h2m2 0h1m2 0h0m3 0h1m10 0h0m13 0h0m7 0h0m-89 1h0m8 0h0m2 0h0m3 0h2m2 0h1m3 0h0m3 0h1m6 0h8m2 0h3m2 0h1m3 0h2m2 0h1m5 0h0m5 0h0m-61 1h0m16 0h4m2 0h4m3 0h3m3 0h0m6 0h1m2 0h2m12 0h0m6 0h0m4 0h0m-77 1h0m10 0h0m7 0h0m5 0h0m4 0h0m2 0h0m4 0h1m2 0h1m2 0h1m3 0h3m3 0h3m3 0h0m3 0h0m2 0h0m6 0h0m3 0h0m6 0h0m2 0h0m-70 1h0m7 0h2m2 0h0m11 0h0m3 0h0m3 0h1m2 0h0m5 0h1m3 0h0m2 0h0m2 0h4m2 0h0m3 0h0m3 0h0m2 0h0m-54 1h0m4 0h0m8 0h0m3 0h0m4 0h0m5 0h1m2 0h0m3 0h3m3 0h0m2 0h3m3 0h0m5 0h0m2 0h1m2 0h0m2 0h0m2 0h0m9 0h0m-83 1h0m12 0h0m8 0h0m2 0h0m8 0h4m3 0h0m3 0h1m3 0h0m6 0h1m3 0h2m3 0h0m4 0h0m5 0h0m7 0h0m-67 1h0m2 0h1m6 0h0m2 0h0m5 0h2m3 0h1m2 0h0m5 0h0m2 0h1m4 0h0m2 0h2m2 0h4m3 0h0m2 0h0m2 0h2m6 0h0m6 0h1m27 0h0m-100 1h0m15 0h0m4 0h1m3 0h2m5 0h0m2 0h0m2 0h4m2 0h2m3 0h0m3 0h2m2 0h0m9 0h0m4 0h0m23 0h0m-96 1h0m26 0h1m3 0h1m5 0h0m3 0h1m6 0h0m12 0h0m7 0h0m2 0h0m4 0h0m-56 1h0m13 0h0m2 0h1m10 0h1m2 0h2m3 0h0m3 0h0m2 0h0m2 0h0m5 0h0m2 0h0m2 0h1m-47 1h0m9 0h0m10 0h1m6 0h1m3 0h0m2 0h0m7 0h1m5 0h0m-64 1h0m9 0h0m6 0h1m7 0h0m8 0h4m4 0h1m2 0h0m12 0h0m6 0h1m-36 1h0m2 0h0m3 0h0m4 0h0m2 0h1m3 0h1m3 0h0m6 0h1m3 0h0m13 0h0m4 0h1m-53 1h2m11 0h0m3 0h1m2 0h0m3 0h0m3 0h1m2 0h0m14 0h0m4 0h0m-39 1h0m6 0h1m3 0h2m6 0h1m3 0h0m5 0h0m5 0h0m3 0h0m-42 1h0m14 0h0m4 0h0m6 0h0m5 0h0m3 0h0m6 0h0m5 0h1m-37 1h0m9 0h2m3 0h0m2 0h0m7 0h0m2 0h0m-37 1h0m34 0h0m17 0h0m-51 1h0m7 0h0m6 0h0m2 0h0m5 0h1m2 0h2m5 0h0m2 0h0m17 0h0m-53 1h0m15 0h1m10 0h0m14 0h1m5 0h0m8 0h0m-58 1h0m4 0h0m32 0h0m4 0h0m20 0h0m-34 1h0m11 0h0m11 0h0m11 0h0m-51 1h0m20 0h0m32 0h0m-71 1h0m22 0h0m5 0h0m5 0h0m6 0h1m11 0h0m-30 2h0m7 0h0m31 0h0m8 0h0m-51 1h0m12 0h0m19 1h0m18 0h0m-33 2h0m0 1h0m-4 1h0m12 0h0m18 0h0m-57 2h0m49 0h0m-14 4h0m-25 1h0m33 0h0m6 1h0" stroke="#e04846" stroke-width="1.55" stroke-linecap="square" fill="none"/>
<path d="M129 319h0m10 0h0m-4 2h0m18 0h0m-33 3h0m16 2h0m23 0h0m1 1h1m-19 2h0m3 0h0m5 0h0m-10 1h0m2 0h0m19 0h0m-37 1h0m24 0h0m-33 1h0m11 0h0m9 0h0m9 0h0m11 0h0m-51 1h0m9 0h0m16 0h0m3 0h0m3 0h1m15 0h0m-47 1h0m17 0h0m12 0h1m2 0h0m2 0h1m2 0h1m6 0h1m3 0h0m12 0h0m-68 1h0m10 0h0m10 0h0m11 0h0m3 0h0m3 0h0m6 0h1m6 0h0m2 0h0m-33 1h1m3 0h1m3 0h0m2 0h1m23 0h0m-51 1h0m9 0h1m13 0h1m4 0h0m4 0h3m3 0h0m3 0h0m7 0h0m8 0h0m2 0h0m3 0h0m-53 1h0m10 0h3m3 0h0m6 0h0m2 0h0m3 0h3m7 0h0m4 0h0m4 0h0m-43 1h0m7 0h0m3 0h0m2 0h1m4 0h0m4 0h0m3 0h2m5 0h1m5 0h0m4 0h1m8 0h0m-45 1h0m3 0h2m3 0h0m2 0h0m2 0h1m2 0h1m4 0h3m3 0h0m3 0h2m8 0h0m3 0h0m2 0h0m2 0h0m-59 1h0m4 0h0m2 0h0m7 0h0m2 0h0m4 0h1m3 0h1m2 0h0m2 0h1m4 0h0m3 0h1m2 0h2m26 0h0m-64 1h0m4 0h0m2 0h1m3 0h0m5 0h0m2 0h0m2 0h0m2 0h1m2 0h1m2 0h1m2 0h1m2 0h1m3 0h2m2 0h0m6 0h0m-57 1h0m4 0h0m7 0h0m3 0h7m2 0h3m2 0h0m2 0h5m2 0h0m3 0h0m3 0h0m2 0h0m2 0h2m9 0h0m6 0h0m3 0h0m-70 1h0m9 0h0m5 0h1m2 0h2m2 0h9m2 0h0m2 0h5m3 0h6m3 0h0m2 0h0m4 0h0m6 0h0m-63 1h0m2 0h0m9 0h0m3 0h1m2 0h0m2 0h7m2 0h10m2 0h0m2 0h1m2 0h8m-51 1h0m4 0h1m3 0h0m3 0h0m3 0h0m4 0h2m2 0h7m2 0h2m2 0h5m2 0h5m2 0h0m2 0h0m5 0h0m3 0h0m9 0h0m2 0h0m-68 1h0m2 0h3m2 0h0m2 0h1m2 0h4m3 0h2m4 0h0m3 0h0m2 0h1m2 0h0m2 0h1m2 0h4m6 0h0m2 0h0m10 0h0m2 0h0m-67 1h1m3 0h0m6 0h0m2 0h1m2 0h0m2 0h0m2 0h2m4 0h1m2 0h14m2 0h0m2 0h1m2 0h0m5 0h2m3 0h0m2 0h0m-67 1h0m3 0h1m6 0h1m3 0h0m4 0h2m2 0h2m2 0h22m4 0h9m2 0h0m2 0h2m3 0h0m-68 1h0m4 0h0m2 0h0m2 0h1m4 0h1m2 0h7m2 0h8m2 0h9m2 0h1m2 0h7m2 0h0m12 0h0m4 0h0m7 0h0m-98 1h0m7 0h0m7 0h0m3 0h0m3 0h1m9 0h1m2 0h6m2 0h11m2 0h0m3 0h14m3 0h2m2 0h0m9 0h0m-82 1h0m8 0h0m6 0h0m3 0h4m2 0h0m4 0h0m2 0h1m2 0h27m3 0h3m2 0h0m2 0h1m2 0h1m3 0h0m4 0h0m6 0h0m8 0h0m-87 1h0m3 0h0m3 0h1m2 0h1m2 0h1m2 0h0m4 0h3m2 0h4m2 0h16m2 0h3m2 0h3m3 0h1m2 0h1m2 0h0m3 0h1m8 0h0m-83 1h0m4 0h0m6 0h0m2 0h0m4 0h0m2 0h0m3 0h1m2 0h3m2 0h2m2 0h9m2 0h6m2 0h12m2 0h0m2 0h1m4 0h0m5 0h0m2 0h0m-73 1h1m3 0h0m2 0h0m2 0h3m3 0h2m2 0h37m2 0h1m5 0h2m-67 1h1m8 0h4m2 0h5m2 0h22m2 0h1m2 0h9m2 0h2m3 0h0m4 0h0m5 0h0m-87 1h0m3 0h0m2 0h0m2 0h0m3 0h0m2 0h1m2 0h0m2 0h3m2 0h1m2 0h1m4 0h2m2 0h36m4 0h0m3 0h0m5 0h1m-80 1h0m12 0h0m4 0h1m2 0h0m2 0h0m2 0h4m2 0h2m2 0h30m2 0h3m4 0h0m2 0h0m2 0h1m3 0h0m-69 1h1m2 0h4m2 0h3m2 0h5m2 0h30m3 0h0m2 0h4m2 0h0m3 0h0m3 0h0m-82 1h0m4 0h2m14 0h0m2 0h0m2 0h1m2 0h0m2 0h4m2 0h1m2 0h29m2 0h3m2 0h0m2 0h2m2 0h0m-74 1h0m9 0h0m3 0h4m2 0h4m2 0h0m2 0h5m2 0h21m2 0h10m3 0h0m2 0h1m4 0h0m2 0h0m2 0h0m-85 1h0m4 0h0m5 0h0m3 0h0m2 0h2m2 0h0m3 0h1m2 0h12m3 0h30m3 0h0m2 0h0m4 0h0m3 0h0m13 0h0m-104 1h0m7 0h0m13 0h0m2 0h4m2 0h6m2 0h33m2 0h3m2 0h6m2 0h0m8 0h0m4 0h0m2 0h0m-90 1h0m9 0h0m2 0h0m3 0h1m4 0h4m2 0h14m2 0h26m3 0h3m3 0h1m3 0h0m5 0h0m-84 1h0m6 0h0m5 0h1m2 0h0m2 0h14m2 0h30m3 0h1m2 0h0m2 0h1m4 0h0m4 0h0m3 0h0m-84 1h0m5 0h0m4 0h0m4 0h0m2 0h21m2 0h1m2 0h1m2 0h16m2 0h2m2 0h4m2 0h0m2 0h0m2 0h0m8 0h0m-85 1h0m12 0h1m2 0h0m2 0h3m2 0h2m3 0h6m2 0h29m2 0h6m5 0h0m3 0h0m12 0h0m-84 1h0m2 0h7m2 0h8m3 0h3m2 0h29m2 0h2m2 0h3m-73 1h0m4 0h0m9 0h0m2 0h8m2 0h32m2 0h7m3 0h1m2 0h1m3 0h0m2 0h1m2 0h0m6 0h0m2 0h0m-97 1h0m6 0h0m3 0h0m2 0h0m3 0h1m2 0h7m2 0h1m2 0h19m2 0h17m2 0h4m2 0h3m3 0h1m4 0h0m5 0h0m9 0h0m5 0h0m-106 1h0m9 0h2m3 0h1m5 0h0m2 0h0m4 0h1m2 0h28m2 0h15m2 0h0m2 0h0m2 0h0m2 0h0m3 0h0m-85 1h0m8 0h0m2 0h1m2 0h0m2 0h3m3 0h1m3 0h0m2 0h37m2 0h1m2 0h1m2 0h1m2 0h0m2 0h1m4 0h0m3 0h0m4 0h0m-81 1h0m4 0h0m4 0h0m2 0h0m3 0h0m4 0h1m2 0h1m2 0h35m3 0h0m2 0h7m3 0h0m2 0h0m2 0h0m-82 1h0m9 0h0m2 0h0m7 0h2m2 0h5m2 0h1m2 0h18m2 0h9m2 0h1m2 0h4m2 0h0m2 0h0m-75 1h0m2 0h0m3 0h0m6 0h0m2 0h0m4 0h0m2 0h1m2 0h1m2 0h7m2 0h14m2 0h6m2 0h11m3 0h0m2 0h1m2 0h1m8 0h0m-95 1h0m13 0h0m3 0h0m3 0h0m3 0h0m6 0h1m2 0h0m2 0h10m2 0h11m2 0h14m2 0h4m2 0h1m4 0h0m3 0h0m-95 1h0m9 0h0m6 0h0m2 0h0m4 0h1m2 0h0m3 0h1m3 0h0m3 0h35m2 0h2m2 0h1m2 0h3m2 0h0m3 0h0m5 0h1m4 0h0m-80 1h0m2 0h1m9 0h1m2 0h1m3 0h1m2 0h0m2 0h0m2 0h9m2 0h4m2 0h4m2 0h10m2 0h3m2 0h2m2 0h1m4 0h0m6 0h0m-81 1h0m3 0h1m2 0h2m3 0h0m5 0h0m4 0h1m3 0h4m2 0h25m8 0h0m2 0h0m3 0h0m6 0h0m3 0h0m3 0h0m-80 1h1m2 0h0m3 0h0m2 0h1m6 0h2m3 0h2m3 0h13m2 0h7m2 0h5m2 0h0m3 0h1m2 0h0m2 0h1m4 0h0m4 0h0m2 0h0m2 0h0m-84 1h0m16 0h0m4 0h3m2 0h1m2 0h10m3 0h0m2 0h0m2 0h13m4 0h1m2 0h0m2 0h5m6 0h1m5 0h0m3 0h0m5 0h0m-102 1h0m13 0h1m5 0h0m3 0h0m2 0h0m2 0h3m2 0h0m2 0h2m2 0h0m2 0h3m2 0h0m2 0h9m2 0h7m2 0h2m2 0h1m2 0h0m2 0h1m2 0h0m4 0h0m12 0h0m-91 1h0m2 0h0m2 0h0m2 0h0m4 0h0m7 0h0m5 0h0m4 0h0m2 0h0m2 0h5m3 0h1m3 0h12m2 0h1m2 0h1m3 0h0m2 0h4m5 0h0m6 0h0m-77 1h0m3 0h0m4 0h1m3 0h0m2 0h0m3 0h1m2 0h0m2 0h2m3 0h2m2 0h13m2 0h0m2 0h9m2 0h0m4 0h1m2 0h0m5 0h1m4 0h0m2 0h1m2 0h0m17 0h0m-79 1h5m2 0h6m2 0h6m2 0h2m2 0h5m2 0h3m2 0h0m2 0h0m3 0h0m2 0h0m2 0h1m2 0h0m2 0h0m5 0h0m3 0h1m3 0h0m-80 1h0m8 0h1m2 0h0m6 0h0m3 0h2m2 0h3m2 0h0m2 0h0m3 0h7m2 0h0m2 0h1m2 0h0m2 0h3m2 0h0m3 0h1m3 0h0m4 0h0m-74 1h0m4 0h0m12 0h2m5 0h0m5 0h0m2 0h1m3 0h2m2 0h0m2 0h6m2 0h0m3 0h0m2 0h0m2 0h3m2 0h0m4 0h0m2 0h0m3 0h0m3 0h0m7 0h0m2 0h0m-63 1h0m5 0h0m6 0h0m2 0h4m2 0h0m2 0h3m2 0h0m2 0h2m3 0h0m2 0h1m5 0h0m2 0h3m2 0h2m12 0h0m16 0h0m-102 1h0m2 0h0m8 0h0m6 0h0m4 0h1m10 0h1m3 0h1m2 0h4m2 0h3m2 0h0m2 0h0m2 0h3m2 0h0m2 0h0m2 0h0m3 0h0m5 0h0m2 0h0m7 0h2m5 0h0m-85 1h0m3 0h0m11 0h0m2 0h1m6 0h0m7 0h0m4 0h2m3 0h2m2 0h0m2 0h0m2 0h1m4 0h1m2 0h1m3 0h2m2 0h0m2 0h1m2 0h1m3 0h0m3 0h0m2 0h0m5 0h0m-75 1h0m22 0h0m2 0h0m2 0h0m2 0h2m3 0h0m2 0h1m4 0h1m2 0h0m2 0h1m4 0h0m4 0h0m2 0h3m2 0h0m2 0h2m2 0h0m3 0h0m-58 1h0m4 0h0m3 0h1m2 0h2m2 0h4m3 0h2m2 0h1m2 0h0m2 0h1m5 0h0m2 0h0m2 0h0m6 0h2m11 0h0m-61 1h0m3 0h0m5 0h0m2 0h1m4 0h2m5 0h2m3 0h0m4 0h0m2 0h0m4 0h0m5 0h1m2 0h0m2 0h3m3 0h0m4 0h0m-72 1h0m6 0h0m3 0h1m5 0h0m4 0h0m2 0h0m2 0h1m2 0h0m4 0h4m4 0h0m2 0h0m3 0h1m3 0h0m2 0h2m2 0h0m11 0h0m2 0h1m3 0h0m3 0h0m-75 1h0m20 0h0m2 0h0m3 0h1m3 0h1m2 0h0m2 0h0m3 0h0m2 0h3m3 0h0m3 0h0m2 0h0m3 0h3m2 0h1m4 0h1m6 0h0m-69 1h0m9 0h0m15 0h0m3 0h1m2 0h1m3 0h1m7 0h1m4 0h0m2 0h2m2 0h2m7 0h1m12 0h0m-71 1h0m4 0h0m4 0h0m5 0h0m3 0h1m8 0h0m4 0h0m3 0h0m3 0h3m2 0h1m2 0h0m2 0h0m4 0h1m2 0h0m7 0h3m3 0h1m10 0h0m-79 1h0m4 0h0m12 0h1m3 0h0m2 0h0m2 0h0m2 0h0m2 0h0m6 0h0m2 0h0m6 0h1m4 0h0m3 0h0m4 0h1m2 0h0m8 0h0m7 0h0m7 0h0m-77 1h0m18 0h0m2 0h0m2 0h0m6 0h1m3 0h0m3 0h0m2 0h1m3 0h0m2 0h1m2 0h0m6 0h1m2 0h0m6 0h0m5 0h0m-55 1h1m9 0h0m3 0h1m8 0h0m2 0h0m4 0h1m2 0h0m5 0h0m8 0h0m-35 1h0m14 0h0m4 0h1m7 0h1m5 0h0m3 0h0m21 0h0m-57 1h0m3 0h1m2 0h0m8 0h0m5 0h0m4 0h1m5 0h1m2 0h0m5 0h0m-46 1h0m16 0h1m4 0h0m2 0h0m10 0h0m21 0h0m-64 1h0m14 0h0m12 0h0m2 0h0m18 0h0m3 0h0m3 0h0m8 0h0m-43 1h2m3 0h0m2 0h0m11 0h0m3 0h0m5 0h0m-44 1h0m9 0h0m4 0h0m2 0h2m4 0h0m16 0h1m2 0h1m2 0h0m23 0h0m-56 1h0m3 0h0m9 0h0m3 0h0m4 0h0m22 0h0m-48 1h0m5 0h0m19 0h0m5 0h0m7 0h0m3 0h0m-29 1h0m16 0h0m-17 1h0m4 0h0m7 0h0m19 0h1m3 0h0m12 0h0m-52 1h0m14 0h0m17 0h0m4 0h0m-4 1h0m-12 1h0m7 0h0m-27 3h0m12 0h0m22 0h0m-16 3h0m-3 2h0m-14 3h0" stroke="#3a2288" stroke-width="1.7" stroke-linecap="square" fill="none"/>
<path d="M160 303h0m9 7h0m-16 1h0m13 1h0m-13 3h0m-20 2h0m40 0h0m-9 2h0m-27 1h0m10 0h0m-27 1h0m10 0h0m17 0h0m4 0h0m4 0h1m4 0h0m-37 1h0m14 0h0m7 0h0m4 0h0m12 0h0m3 0h0m-47 1h0m20 0h0m2 0h0m10 0h0m11 0h0m3 0h0m-53 1h0m16 0h0m13 0h0m5 0h0m21 0h0m6 0h0m-36 1h0m4 0h0m-12 1h1m3 0h0m22 0h0m3 0h0m5 0h0m9 0h0m-42 1h0m13 0h0m11 0h0m6 0h0m-41 1h0m12 0h0m2 0h1m6 0h0m2 0h0m7 0h0m28 0h0m-48 1h0m4 0h0m8 0h0m10 0h1m12 0h0m-43 1h0m2 0h0m5 0h0m7 0h0m7 0h0m4 0h0m2 0h0m6 0h0m3 0h1m4 0h0m5 0h0m5 0h0m-77 1h0m61 0h0m3 0h0m3 0h0m-62 1h0m12 0h0m7 0h0m14 0h0m7 0h0m2 0h0m2 0h0m6 0h1m7 0h0m-45 1h0m8 0h0m2 0h0m12 0h2m12 0h1m6 0h0m12 0h0m-67 1h0m6 0h0m17 0h0m2 0h0m4 0h0m4 0h2m3 0h0m4 0h0m5 0h0m3 0h0m-54 1h0m8 0h0m2 0h0m21 0h1m3 0h0m4 0h0m4 0h0m4 0h1m6 0h0m2 0h0m3 0h1m7 0h0m3 0h0m2 0h0m-44 1h0m2 0h0m9 0h2m2 0h0m4 0h0m2 0h1m3 0h0m2 0h0m2 0h0m4 0h0m4 0h0m-57 1h0m8 0h0m3 0h0m6 0h0m6 0h0m4 0h0m2 0h1m2 0h0m3 0h1m6 0h0m12 0h0m3 0h0m3 0h1m8 0h0m-81 1h0m13 0h0m4 0h0m2 0h1m5 0h1m3 0h0m3 0h0m4 0h1m2 0h0m3 0h0m2 0h0m7 0h1m8 0h0m5 0h0m7 0h0m-79 1h0m17 0h0m7 0h1m11 0h0m3 0h3m4 0h0m6 0h2m10 0h1m10 0h0m6 0h0m-77 1h0m17 0h0m4 0h0m4 0h0m3 0h0m3 0h0m4 0h2m3 0h1m2 0h0m5 0h0m6 0h0m3 0h0m9 0h1m6 0h0m-55 1h0m3 0h0m2 0h0m4 0h0m2 0h0m2 0h1m6 0h2m6 0h1m3 0h0m4 0h2m4 0h0m12 0h0m-76 1h0m25 0h0m3 0h0m3 0h1m2 0h1m2 0h2m7 0h0m5 0h0m4 0h0m2 0h0m4 0h0m2 0h0m20 0h1m6 0h0m-61 1h0m8 0h0m3 0h1m6 0h0m2 0h0m2 0h0m7 0h0m3 0h0m2 0h0m4 0h3m13 0h0m-81 1h0m17 0h1m3 0h0m14 0h0m2 0h0m10 0h0m6 0h0m4 0h1m2 0h0m2 0h1m2 0h0m2 0h0m-70 1h0m17 0h0m12 0h0m2 0h0m2 0h0m7 0h0m5 0h0m4 0h1m7 0h0m3 0h0m8 0h1m2 0h0m2 0h0m9 0h0m7 0h0m-87 1h0m5 0h0m4 0h0m7 0h0m8 0h1m2 0h1m3 0h0m2 0h0m3 0h0m5 0h0m2 0h0m4 0h0m8 0h0m2 0h1m2 0h0m2 0h1m3 0h1m7 0h0m3 0h0m-100 1h0m33 0h0m3 0h0m7 0h0m4 0h0m4 0h0m7 0h0m11 0h2m2 0h0m8 0h0m2 0h1m2 0h1m6 0h0m3 0h0m5 0h0m3 0h0m9 0h0m-75 1h0m4 0h0m2 0h0m3 0h4m10 0h0m4 0h0m3 0h0m7 0h0m2 0h1m2 0h0m3 0h0m5 0h0m15 0h0m-80 1h0m2 0h0m5 0h0m10 0h0m2 0h0m6 0h0m4 0h0m10 0h1m14 0h1m4 0h0m12 0h2m5 0h0m-91 1h0m21 0h0m7 0h0m3 0h0m5 0h2m4 0h0m3 0h0m18 0h0m5 0h1m4 0h0m3 0h1m2 0h3m2 0h0m2 0h1m4 0h1m11 0h0m-99 1h0m5 0h0m2 0h0m9 0h0m3 0h1m18 0h1m18 0h0m9 0h0m2 0h0m2 0h0m2 0h0m2 0h0m2 0h0m2 0h1m2 0h0m2 0h0m6 0h0m-81 1h0m7 0h0m6 0h0m6 0h0m31 0h0m3 0h0m3 0h0m4 0h0m2 0h0m2 0h2m2 0h0m-74 1h0m2 0h0m5 0h0m11 0h1m4 0h0m2 0h0m30 0h0m2 0h0m3 0h0m3 0h0m4 0h0m6 0h0m4 0h0m-80 1h0m8 0h0m3 0h0m5 0h0m5 0h1m12 0h0m25 0h0m6 0h0m6 0h0m2 0h0m3 0h1m-74 1h0m2 0h0m2 0h0m6 0h0m7 0h0m2 0h0m39 0h0m2 0h0m2 0h1m2 0h1m2 0h0m6 0h1m22 0h0m-95 1h0m4 0h1m4 0h1m9 0h1m37 0h1m6 0h0m3 0h0m2 0h0m11 0h0m-82 1h0m4 0h0m7 0h0m2 0h0m2 0h0m8 0h0m36 0h1m4 0h1m3 0h0m5 0h0m6 0h0m2 0h0m-97 1h0m12 0h0m10 0h0m7 0h0m5 0h2m38 0h1m10 0h0m2 0h0m3 0h0m2 0h1m3 0h0m-87 1h0m10 0h0m5 0h1m3 0h0m3 0h1m43 0h0m2 0h0m3 0h0m2 0h1m4 0h1m3 0h0m-88 1h0m24 0h0m49 0h0m5 0h0m3 0h0m10 0h0m-82 1h1m2 0h0m9 0h0m8 0h0m37 0h0m10 0h0m3 0h0m3 0h0m2 0h1m2 0h0m2 0h0m2 0h0m4 0h0m-93 1h0m11 0h0m2 0h1m2 0h0m4 0h0m45 0h0m4 0h1m2 0h0m4 0h0m-89 1h0m16 0h0m3 0h0m2 0h3m7 0h1m3 0h2m45 0h0m3 0h0m2 0h0m2 0h0m2 0h3m8 0h0m-87 1h1m4 0h1m11 0h0m2 0h0m4 0h0m40 0h0m6 0h1m3 0h0m3 0h0m4 0h0m3 0h0m3 0h0m5 0h0m5 0h0m-101 1h0m12 0h0m13 0h0m2 0h0m36 0h0m6 0h0m3 0h2m2 0h0m2 0h0m2 0h0m4 0h0m6 0h0m20 0h0m-111 1h0m5 0h0m2 0h0m3 0h0m3 0h1m2 0h0m3 0h0m45 0h0m3 0h0m5 0h0m7 0h0m3 0h0m-92 1h0m16 0h0m13 0h0m2 0h0m41 0h0m5 0h0m2 0h1m8 0h0m3 0h0m2 0h0m3 0h0m-93 1h0m9 0h0m5 0h0m6 0h2m11 0h0m3 0h0m35 0h0m13 0h0m9 0h0m7 0h0m-106 1h0m2 0h0m29 0h0m4 0h0m5 0h0m36 0h0m3 0h0m5 0h0m2 0h0m6 0h1m2 0h0m2 0h0m-70 1h0m10 0h0m40 0h0m3 0h0m10 0h0m6 0h0m2 0h0m-77 1h0m7 0h1m2 0h0m2 0h0m4 0h0m38 0h0m4 0h0m7 0h0m2 0h0m6 0h0m3 0h0m-98 1h0m8 0h0m10 0h0m9 0h1m2 0h0m42 0h0m15 0h3m13 0h0m-94 1h0m6 0h0m2 0h0m11 0h1m6 0h0m37 0h0m10 0h0m2 0h0m4 0h1m-65 1h0m6 0h0m3 0h0m34 0h0m8 0h1m3 0h0m5 0h2m4 0h0m11 0h0m9 0h0m-99 1h0m11 0h0m2 0h2m8 0h0m34 0h0m4 0h1m6 0h0m4 0h1m8 0h0m-80 1h0m11 0h0m2 0h0m6 0h0m2 0h0m2 0h0m4 0h0m24 0h1m3 0h0m9 0h0m8 0h2m6 0h0m-86 1h0m22 0h0m48 0h0m3 0h1m3 0h0m2 0h0m5 0h0m-83 1h0m4 0h0m8 0h0m10 0h0m6 0h1m14 0h0m9 0h0m8 0h1m7 0h1m11 0h0m5 0h0m-81 1h0m2 0h0m12 0h0m7 0h0m8 0h0m6 0h0m6 0h0m2 0h0m9 0h0m3 0h1m12 0h0m-68 1h0m3 0h0m24 0h0m5 0h0m10 0h0m7 0h0m2 0h0m3 0h0m6 0h0m2 0h0m5 0h2m8 0h0m-77 1h0m20 0h0m20 0h0m14 0h1m4 0h0m4 0h0m4 0h0m18 0h0m-85 1h0m2 0h0m10 0h0m3 0h1m2 0h0m3 0h0m2 0h0m17 0h0m4 0h0m5 0h0m3 0h1m3 0h0m5 0h1m7 0h0m3 0h0m8 0h0m-88 1h0m28 0h1m2 0h0m6 0h1m13 0h0m20 0h1m3 0h0m21 0h0m-88 1h0m14 0h0m2 0h0m3 0h0m6 0h0m12 0h0m8 0h1m2 0h0m3 0h0m2 0h0m3 0h0m3 0h0m12 0h0m-83 1h1m5 0h1m13 0h0m5 0h0m6 0h0m10 0h0m4 0h0m3 0h0m6 0h0m8 0h2m7 0h0m2 0h1m2 0h1m15 0h0m-82 1h0m12 0h1m5 0h0m3 0h0m6 0h0m4 0h0m16 0h1m2 0h1m6 0h0m2 0h0m6 0h0m4 0h0m6 0h0m-76 1h0m3 0h0m12 0h0m8 0h0m2 0h0m11 0h0m8 0h0m6 0h0m9 0h0m6 0h0m-63 1h0m19 0h1m10 0h0m7 0h0m2 0h2m15 0h0m2 0h0m-63 1h0m13 0h0m4 0h0m2 0h0m11 0h0m2 0h0m5 0h0m5 0h0m2 0h0m6 0h0m4 0h0m24 0h0m4 0h0m-86 1h1m18 0h1m4 0h0m9 0h0m7 0h1m3 0h0m18 0h0m3 0h1m3 0h0m4 0h0m2 0h0m3 0h0m-64 1h0m2 0h0m3 0h0m25 0h1m2 0h0m18 0h0m3 0h0m2 0h0m-62 1h0m18 0h0m2 0h0m8 0h2m11 0h0m5 0h0m8 0h0m29 0h0m-88 1h0m12 0h0m20 0h0m6 0h0m3 0h0m3 0h0m10 0h0m17 0h0m-78 1h0m4 0h0m14 0h0m3 0h0m13 0h0m3 0h1m3 0h0m2 0h0m3 0h0m2 0h1m23 0h0m-57 1h0m4 0h0m18 0h0m4 0h0m9 0h0m13 0h0m-29 1h1m3 0h2m3 0h0m3 0h0m29 0h0m-69 1h0m6 0h0m9 0h0m7 0h0m9 0h0m13 0h0m-36 1h0m2 0h0m23 0h1m5 0h0m20 0h0m-40 1h0m7 0h0m2 0h0m17 0h0m15 0h0m-54 1h0m34 0h0m-31 1h1m8 0h0m23 0h0m-49 1h0m7 0h0m9 0h0m4 0h0m7 0h0m12 0h0m-38 1h0m4 0h0m4 0h0m14 0h0m4 0h0m26 0h0m-34 1h0m10 0h0m17 0h0m30 0h0m-76 1h0m8 0h0m12 0h0m39 0h0m-63 1h0m55 0h0m-35 1h0m4 0h0m3 0h0m13 0h1m12 0h0m11 0h0m-38 2h0m11 0h0m11 0h0m7 0h0m-16 1h0m-5 1h0m31 0h0m-27 1h0m-26 1h0m3 0h0m34 0h0m-4 10h0" stroke="#e04846" stroke-width="1.55" stroke-linecap="square" fill="none"/>
<path d="M147 317h0m17 4h0m-32 1h0m10 2h0m-9 1h0m-14 3h0m15 0h0m15 1h0m-16 1h0m13 0h0m-23 1h0m5 0h0m9 0h0m-10 1h0m6 0h1m7 0h0m-33 1h0m29 0h0m-15 1h0m16 0h1m-25 1h0m12 0h0m4 0h0m3 0h0m10 0h0m8 0h0m-46 1h0m15 0h1m13 0h0m-28 1h0m10 0h0m33 0h0m-41 1h0m9 0h0m7 0h0m4 0h0m2 0h0m3 0h0m4 0h0m6 0h0m-39 1h0m3 0h0m9 0h0m11 0h0m2 0h1m11 0h1m5 0h0m-50 1h0m4 0h0m7 0h0m6 0h0m3 0h0m2 0h1m15 0h0m2 0h0m4 0h0m3 0h0m-62 1h0m14 0h0m14 0h3m2 0h0m6 0h0m2 0h3m7 0h0m7 0h1m21 0h0m-51 1h0m6 0h0m3 0h0m8 0h2m13 0h0m3 0h0m5 0h0m-48 1h2m8 0h0m3 0h1m2 0h0m4 0h2m2 0h2m6 0h0m2 0h0m2 0h0m3 0h0m8 0h0m3 0h0m-51 1h1m5 0h0m6 0h0m2 0h0m2 0h0m2 0h0m4 0h1m3 0h0m2 0h1m2 0h0m3 0h4m13 0h0m-74 1h0m17 0h0m12 0h0m3 0h0m3 0h1m3 0h0m3 0h0m2 0h1m2 0h1m2 0h2m4 0h0m2 0h2m4 0h0m6 0h1m-57 1h1m4 0h0m5 0h0m2 0h3m5 0h1m3 0h4m3 0h1m3 0h0m2 0h2m5 0h0m2 0h0m5 0h0m8 0h0m-66 1h0m4 0h0m4 0h0m2 0h0m4 0h0m2 0h0m2 0h0m5 0h2m4 0h1m2 0h0m9 0h1m3 0h3m2 0h0m7 0h0m3 0h0m4 0h0m3 0h0m9 0h1m-71 1h0m7 0h1m2 0h4m2 0h1m3 0h0m2 0h0m2 0h0m2 0h0m2 0h0m2 0h2m3 0h2m2 0h1m2 0h0m2 0h0m2 0h1m5 0h0m-47 1h0m3 0h0m3 0h1m3 0h1m2 0h4m2 0h3m2 0h1m2 0h0m3 0h1m3 0h1m5 0h0m4 0h0m-54 1h0m6 0h0m2 0h0m2 0h4m2 0h3m2 0h3m2 0h1m2 0h3m2 0h1m2 0h0m2 0h2m4 0h7m4 0h0m3 0h0m3 0h0m3 0h1m-78 1h0m6 0h0m8 0h0m3 0h0m4 0h3m5 0h1m2 0h5m2 0h9m2 0h1m2 0h5m2 0h4m2 0h0m2 0h1m2 0h1m-55 1h0m3 0h0m3 0h1m2 0h0m2 0h0m2 0h1m2 0h8m3 0h2m2 0h1m2 0h2m4 0h2m3 0h0m2 0h0m4 0h0m-75 1h0m17 0h0m2 0h0m9 0h2m2 0h0m2 0h3m3 0h5m2 0h4m3 0h0m5 0h5m2 0h0m2 0h0m3 0h1m3 0h0m4 0h0m-75 1h0m14 0h0m3 0h0m4 0h5m4 0h0m2 0h2m2 0h5m2 0h2m2 0h3m3 0h2m4 0h3m2 0h0m2 0h4m2 0h0m2 0h0m-59 1h0m6 0h1m3 0h0m2 0h1m2 0h4m2 0h5m4 0h4m2 0h3m2 0h1m4 0h1m3 0h1m2 0h1m-59 1h0m3 0h0m3 0h0m8 0h4m5 0h5m2 0h7m3 0h3m4 0h4m13 0h0m2 0h0m-74 1h0m7 0h1m8 0h2m2 0h0m6 0h1m2 0h1m2 0h0m2 0h11m2 0h12m11 0h1m-81 1h0m12 0h0m3 0h0m5 0h0m4 0h0m4 0h0m2 0h4m2 0h9m2 0h15m2 0h9m3 0h1m5 0h0m6 0h0m-80 1h0m14 0h0m2 0h1m2 0h0m2 0h1m4 0h0m2 0h0m2 0h0m2 0h7m2 0h6m2 0h4m2 0h0m2 0h1m5 0h1m2 0h0m6 0h0m-77 1h0m6 0h0m7 0h0m6 0h0m2 0h0m3 0h1m3 0h0m2 0h4m2 0h1m2 0h2m2 0h4m2 0h5m2 0h4m2 0h3m2 0h5m-66 1h0m3 0h0m8 0h2m2 0h0m3 0h1m2 0h3m2 0h2m3 0h27m2 0h0m3 0h0m2 0h0m3 0h0m3 0h1m-76 1h0m7 0h1m4 0h1m7 0h0m2 0h1m2 0h3m2 0h2m2 0h15m2 0h3m2 0h3m3 0h0m2 0h0m3 0h0m2 0h0m-75 1h0m26 0h1m2 0h0m6 0h3m2 0h4m2 0h3m2 0h10m2 0h1m2 0h2m2 0h0m2 0h0m6 0h0m2 0h0m7 0h0m-92 1h0m8 0h0m8 0h0m7 0h1m3 0h0m4 0h0m2 0h0m2 0h3m2 0h8m2 0h14m3 0h1m2 0h0m2 0h5m2 0h0m-67 1h0m11 0h0m2 0h1m2 0h0m2 0h4m2 0h9m2 0h3m2 0h2m2 0h0m2 0h7m2 0h2m2 0h0m2 0h2m2 0h0m7 0h1m-108 1h0m33 0h0m2 0h0m12 0h0m4 0h1m2 0h1m4 0h14m2 0h4m2 0h3m2 0h9m4 0h0m4 0h0m6 0h0m8 0h0m-87 1h0m13 0h0m2 0h0m2 0h1m2 0h0m2 0h1m5 0h2m2 0h2m3 0h1m2 0h9m2 0h3m2 0h1m2 0h8m4 0h0m23 0h0m-91 1h0m6 0h0m3 0h0m3 0h0m6 0h3m2 0h6m2 0h7m2 0h11m2 0h3m2 0h1m2 0h0m-66 1h0m6 0h0m4 0h1m4 0h0m2 0h4m4 0h2m4 0h0m3 0h6m2 0h14m2 0h3m2 0h1m4 0h4m2 0h0m5 0h1m-92 1h0m9 0h0m5 0h0m2 0h0m4 0h0m7 0h0m2 0h0m2 0h3m4 0h1m2 0h0m2 0h5m2 0h1m3 0h0m2 0h2m2 0h3m2 0h1m2 0h2m2 0h2m2 0h0m4 0h0m2 0h0m6 0h0m-83 1h0m15 0h0m3 0h0m3 0h0m2 0h0m3 0h0m2 0h0m2 0h1m2 0h6m2 0h4m2 0h1m3 0h0m2 0h2m2 0h4m2 0h7m7 0h0m3 0h0m15 0h0m-107 1h0m24 0h0m10 0h0m4 0h1m2 0h0m2 0h1m2 0h0m2 0h4m4 0h15m3 0h1m4 0h0m2 0h0m4 0h0m-64 1h0m3 0h0m5 0h6m3 0h0m2 0h0m2 0h3m3 0h1m2 0h0m2 0h9m2 0h4m2 0h0m2 0h6m3 0h3m6 0h0m6 0h1m-100 1h0m21 0h0m8 0h1m5 0h0m2 0h0m3 0h0m4 0h2m2 0h0m3 0h2m2 0h5m2 0h0m2 0h0m5 0h6m2 0h0m2 0h1m2 0h1m2 0h0m2 0h3m-72 1h0m5 0h0m2 0h0m11 0h0m3 0h1m3 0h1m2 0h2m2 0h0m2 0h0m2 0h2m2 0h0m2 0h8m3 0h1m2 0h3m3 0h3m2 0h0m3 0h2m-77 1h0m8 0h0m8 0h2m2 0h0m2 0h0m2 0h2m2 0h0m3 0h0m3 0h4m3 0h0m3 0h2m2 0h4m2 0h0m2 0h0m2 0h1m2 0h2m3 0h2m3 0h0m-79 1h0m16 0h0m3 0h1m2 0h0m4 0h0m2 0h7m2 0h0m2 0h0m2 0h1m2 0h0m5 0h0m2 0h6m2 0h0m2 0h0m2 0h2m3 0h1m2 0h3m13 0h0m-90 1h0m28 0h0m3 0h0m2 0h0m6 0h0m2 0h1m3 0h0m2 0h0m2 0h3m2 0h0m2 0h3m2 0h0m2 0h8m2 0h0m3 0h0m2 0h0m7 0h0m6 0h0m-81 1h0m10 0h0m2 0h1m2 0h0m3 0h0m4 0h2m6 0h2m2 0h0m4 0h0m3 0h3m2 0h0m2 0h2m2 0h0m2 0h0m3 0h2m9 0h0m13 0h0m-76 1h0m5 0h0m2 0h0m8 0h1m2 0h0m3 0h0m3 0h1m2 0h0m2 0h0m3 0h0m2 0h2m2 0h0m2 0h1m2 0h0m4 0h2m3 0h1m3 0h0m2 0h0m2 0h0m2 0h0m3 0h0m3 0h0m4 0h0m-77 1h0m19 0h0m2 0h0m3 0h5m4 0h2m2 0h2m3 0h4m2 0h7m6 0h0m3 0h0m-80 1h0m34 0h0m2 0h0m3 0h0m4 0h0m2 0h0m7 0h0m4 0h3m3 0h1m2 0h0m6 0h1m2 0h0m4 0h0m4 0h0m2 0h0m2 0h1m4 0h1m8 0h0m8 0h0m-93 1h0m12 0h0m2 0h1m2 0h0m2 0h0m3 0h3m4 0h0m2 0h1m2 0h1m3 0h0m4 0h3m4 0h1m4 0h3m10 0h0m-59 1h0m11 0h1m2 0h0m8 0h0m2 0h0m2 0h6m2 0h0m2 0h0m3 0h1m3 0h1m11 0h0m9 0h0m-73 1h0m21 0h4m2 0h5m3 0h1m4 0h0m2 0h0m2 0h0m2 0h1m2 0h3m4 0h0m10 0h0m-77 1h0m2 0h0m20 0h2m2 0h1m2 0h0m5 0h1m4 0h0m4 0h1m2 0h1m2 0h0m4 0h0m3 0h0m2 0h1m5 0h0m2 0h0m7 0h0m20 0h0m-70 1h0m2 0h0m3 0h2m4 0h1m3 0h2m5 0h1m2 0h5m5 0h1m5 0h0m17 0h0m6 0h0m-72 1h0m13 0h0m2 0h0m3 0h0m4 0h0m2 0h0m2 0h0m2 0h2m2 0h1m4 0h1m5 0h0m2 0h0m3 0h0m4 0h0m-58 1h0m2 0h0m5 0h0m2 0h0m3 0h0m4 0h2m5 0h0m4 0h4m2 0h0m2 0h3m2 0h0m3 0h0m10 0h1m3 0h0m11 0h0m6 0h0m-82 1h0m10 0h0m13 0h0m5 0h1m2 0h1m2 0h1m3 0h0m2 0h4m9 0h0m6 0h0m2 0h0m3 0h1m-65 1h0m5 0h0m5 0h0m9 0h0m3 0h0m3 0h0m8 0h0m3 0h2m4 0h0m3 0h2m2 0h0m2 0h0m5 0h1m2 0h3m8 0h0m14 0h0m-70 1h0m5 0h0m8 0h1m4 0h0m3 0h3m3 0h0m6 0h5m2 0h0m2 0h0m4 0h0m14 0h0m-69 1h0m18 0h0m7 0h0m8 0h2m2 0h2m3 0h0m2 0h0m4 0h0m2 0h0m9 0h0m5 0h0m-75 1h0m21 0h0m12 0h0m3 0h0m3 0h2m2 0h0m2 0h0m2 0h0m8 0h0m3 0h0m3 0h0m11 0h0m-54 1h0m6 0h0m2 0h0m4 0h0m11 0h0m3 0h0m6 0h0m3 0h0m2 0h0m9 0h0m8 0h0m-60 1h0m27 0h0m7 0h0m4 0h1m4 0h0m9 0h0m-60 1h0m15 0h0m4 0h0m14 0h0m4 0h0m6 0h0m6 0h0m4 0h0m-52 1h0m19 0h0m2 0h0m4 0h2m6 0h0m7 0h0m2 0h1m-30 1h0m12 0h0m15 0h0m17 0h0m-51 1h0m26 0h0m4 0h1m12 0h0m4 0h0m-48 1h0m14 0h0m5 0h1m3 0h0m4 0h0m10 0h0m-27 1h0m4 0h0m2 0h0m2 0h1m4 0h0m-20 1h0m31 0h0m5 0h1m-18 1h0m3 0h0m10 0h0m-18 1h0m2 0h0m22 0h1m5 0h0m-26 1h0m9 0h1m9 0h0m3 0h0m-31 1h0m8 0h0m13 0h0m-23 1h0m3 0h0m12 0h0m-10 1h0m0 1h0m-6 1h0m-11 3h0m17 0h0m11 5h0m-29 2h0m2 0h0m-5 5h0" stroke="#3a2288" stroke-width="1.7" stroke-linecap="square" fill="none"/>
</g>
<path d="M33.5 284.5H177V427.4" stroke="#777" stroke-width="1.4" fill="none"/>
<path d="M33.5 283.8V427.4H177.5" stroke="#222" stroke-width="1.3" fill="none"/>
<path d="M31.5 424.6H33.5M30.0 421.5H33.5M31.5 400.9H33.5M31.5 388.8H33.5M31.5 380.3H33.5M31.5 373.6H33.5M31.5 368.2H33.5M31.5 363.6H33.5M31.5 359.6H33.5M31.5 356.1H33.5M30.0 353.0H33.5M31.5 332.4H33.5M31.5 320.3H33.5M31.5 311.8H33.5M31.5 305.1H33.5M31.5 299.7H33.5M31.5 295.1H33.5M31.5 291.1H33.5M31.5 287.6H33.5M30.0 284.5H33.5M33.7 427.4V429.4M39.5 427.4V429.4M44.2 427.4V429.4M48.2 427.4V429.4M51.6 427.4V429.4M54.7 427.4V429.4M57.4 427.4V430.9M75.3 427.4V429.4M85.8 427.4V429.4M93.3 427.4V429.4M99.1 427.4V429.4M103.8 427.4V429.4M107.8 427.4V429.4M111.2 427.4V429.4M114.3 427.4V429.4M117.0 427.4V430.9M134.9 427.4V429.4M145.4 427.4V429.4M152.9 427.4V429.4M158.7 427.4V429.4M163.4 427.4V429.4M167.4 427.4V429.4M170.8 427.4V429.4M173.9 427.4V429.4" stroke="#222" stroke-width="1.1" fill="none"/>
<text x="26.6" y="289.0" font-size="8" fill="#1a1a1a" stroke="#1a1a1a" stroke-width="0.1" text-anchor="end">10<tspan font-size="5.6" dy="-3">5</tspan></text>
<text x="26.6" y="357.5" font-size="8" fill="#1a1a1a" stroke="#1a1a1a" stroke-width="0.1" text-anchor="end">10<tspan font-size="5.6" dy="-3">4</tspan></text>
<text x="26.6" y="426.0" font-size="8" fill="#1a1a1a" stroke="#1a1a1a" stroke-width="0.1" text-anchor="end">10<tspan font-size="5.6" dy="-3">3</tspan></text>
<text x="51.5" y="442.4" font-size="8" fill="#1a1a1a" stroke="#1a1a1a" stroke-width="0.1">10<tspan font-size="5.6" dy="-3">3</tspan></text>
<text x="111.5" y="442.4" font-size="8" fill="#1a1a1a" stroke="#1a1a1a" stroke-width="0.1">10<tspan font-size="5.6" dy="-3">4</tspan></text>
<text x="262.5" y="276.6" font-size="9.6" fill="#1a1a1a" stroke="#1a1a1a" stroke-width="0.3" font-style="italic" textLength="25.3" lengthAdjust="spacingAndGlyphs">Day 5</text>
<g transform="translate(.5 .5)">
<path d="M347 298h0m-37 7h0m10 1h0m-28 4h0m20 2h0m0 1h0m2 2h0m13 0h0m-3 1h0m4 0h0m8 0h0m-15 1h0m5 0h0m-29 2h0m-3 1h0m27 2h0m3 1h0m2 0h0m12 0h0m2 0h0m3 0h0m-51 1h0m-26 1h0m39 0h0m6 0h0m2 0h0m4 0h0m-21 1h1m17 0h1m17 0h0m8 0h0m-79 1h0m43 0h0m12 0h1m3 0h0m2 0h1m3 0h0m4 0h0m-45 1h0m9 0h1m6 0h1m4 0h1m6 0h2m5 0h0m16 0h1m-45 1h0m10 0h1m15 0h1m5 0h0m7 0h0m-61 1h0m16 0h0m3 0h0m3 0h0m4 0h0m7 0h0m3 0h2m9 0h0m3 0h0m6 0h0m2 0h0m5 0h0m13 0h0m-63 1h0m30 0h1m3 0h0m4 0h0m-39 1h0m3 0h0m2 0h0m9 0h0m13 0h1m3 0h0m4 0h0m4 0h2m2 0h0m-48 1h0m2 0h0m16 0h0m7 0h1m15 0h0m5 0h0m5 0h0m10 0h0m3 0h0m-47 1h0m4 0h1m2 0h1m12 0h0m9 0h0m7 0h0m3 0h0m-58 1h0m7 0h0m9 0h0m3 0h1m4 0h2m10 0h1m5 0h0m2 0h2m2 0h4m-46 1h0m4 0h4m9 0h0m5 0h0m3 0h1m9 0h0m3 0h0m8 0h0m5 0h0m3 0h0m-59 1h0m2 0h0m2 0h0m10 0h0m2 0h1m2 0h0m2 0h0m5 0h0m8 0h2m3 0h2m5 0h0m5 0h0m2 0h0m4 0h1m8 0h0m4 0h0m-87 1h0m5 0h0m21 0h0m4 0h1m2 0h3m4 0h0m3 0h1m4 0h0m2 0h0m2 0h0m3 0h2m2 0h0m3 0h0m3 0h1m3 0h0m3 0h1m-50 1h2m3 0h0m8 0h0m2 0h0m2 0h0m5 0h1m2 0h1m3 0h0m2 0h0m3 0h0m5 0h0m5 0h0m2 0h0m3 0h0m2 0h0m-62 1h1m7 0h1m7 0h0m3 0h0m2 0h3m2 0h2m2 0h3m2 0h1m2 0h1m2 0h1m4 0h1m4 0h0m9 0h0m-61 1h0m6 0h1m10 0h0m3 0h0m4 0h2m5 0h2m2 0h1m2 0h0m3 0h1m2 0h0m2 0h3m3 0h0m10 0h0m-66 1h0m2 0h0m10 0h4m3 0h3m2 0h0m6 0h0m5 0h0m2 0h0m2 0h4m2 0h1m7 0h0m2 0h0m2 0h1m7 0h0m3 0h0m-82 1h0m13 0h0m3 0h0m5 0h0m3 0h0m3 0h0m2 0h1m2 0h2m2 0h0m8 0h4m2 0h0m2 0h0m2 0h1m7 0h0m3 0h0m2 0h0m8 0h0m8 0h0m8 0h0m-75 1h0m12 0h0m2 0h0m3 0h4m4 0h0m2 0h7m2 0h1m4 0h2m2 0h3m2 0h1m5 0h0m8 0h1m-72 1h0m10 0h0m4 0h0m3 0h1m6 0h0m3 0h2m3 0h1m2 0h2m2 0h0m2 0h3m2 0h2m2 0h0m5 0h0m4 0h0m6 0h0m-54 1h0m8 0h0m2 0h0m4 0h6m2 0h1m3 0h8m3 0h1m3 0h0m3 0h0m2 0h0m7 0h0m5 0h0m-83 1h0m19 0h0m2 0h0m7 0h2m2 0h2m2 0h0m2 0h1m2 0h2m2 0h0m2 0h1m2 0h4m2 0h2m5 0h1m2 0h0m4 0h0m2 0h0m2 0h0m3 0h0m7 0h0m4 0h0m3 0h0m9 0h0m-83 1h0m9 0h0m2 0h3m3 0h1m3 0h2m3 0h8m2 0h0m2 0h2m2 0h0m3 0h1m3 0h2m4 0h0m7 0h0m3 0h1m6 0h0m3 0h0m-80 1h0m6 0h0m5 0h0m6 0h0m2 0h3m2 0h0m3 0h2m2 0h2m2 0h1m2 0h2m2 0h9m4 0h2m2 0h0m3 0h0m8 0h0m5 0h0m3 0h0m-79 1h0m4 0h0m5 0h1m8 0h0m4 0h3m2 0h3m2 0h5m2 0h7m2 0h8m2 0h0m2 0h1m2 0h1m7 0h0m3 0h0m2 0h0m-83 1h0m14 0h1m3 0h1m3 0h1m2 0h5m3 0h1m2 0h9m2 0h3m2 0h2m2 0h0m3 0h2m3 0h0m5 0h1m3 0h0m6 0h1m6 0h0m-92 1h0m15 0h0m6 0h0m2 0h0m2 0h0m2 0h0m3 0h0m2 0h1m2 0h9m2 0h18m3 0h1m6 0h0m4 0h0m6 0h0m4 0h0m-82 1h0m9 0h0m3 0h0m4 0h1m2 0h0m2 0h0m2 0h0m2 0h4m2 0h1m2 0h15m2 0h1m2 0h1m5 0h4m2 0h3m3 0h0m2 0h0m-76 1h0m4 0h0m5 0h0m4 0h0m4 0h0m2 0h1m6 0h0m2 0h1m3 0h3m2 0h4m2 0h8m2 0h8m6 0h1m14 0h0m2 0h0m-82 1h0m5 0h0m2 0h0m6 0h0m6 0h7m2 0h23m2 0h0m2 0h4m3 0h0m16 0h0m-82 1h0m5 0h0m7 0h1m2 0h0m2 0h0m2 0h2m2 0h1m2 0h2m3 0h0m2 0h0m2 0h22m2 0h2m2 0h5m3 0h1m3 0h0m2 0h0m12 0h0m3 0h0m-106 1h0m14 0h0m5 0h0m5 0h0m2 0h2m2 0h1m4 0h0m3 0h5m3 0h18m2 0h0m2 0h6m3 0h0m2 0h0m3 0h0m4 0h0m2 0h0m3 0h0m7 0h0m-93 1h0m9 0h1m4 0h0m6 0h0m4 0h1m5 0h2m3 0h1m2 0h0m2 0h23m2 0h1m2 0h3m2 0h2m3 0h0m2 0h0m19 0h0m-114 1h0m16 0h0m13 0h0m10 0h1m2 0h0m3 0h2m2 0h23m2 0h8m3 0h1m4 0h0m6 0h0m2 0h1m3 0h0m-90 1h0m13 0h0m5 0h0m2 0h1m3 0h0m5 0h0m2 0h5m2 0h30m2 0h1m3 0h1m3 0h0m8 0h0m5 0h0m-77 1h0m2 0h0m8 0h0m2 0h0m2 0h3m2 0h0m3 0h0m2 0h0m2 0h7m2 0h11m2 0h6m2 0h0m5 0h0m10 0h0m-64 1h1m4 0h15m2 0h29m2 0h1m3 0h0m3 0h0m4 0h0m2 0h0m2 0h0m2 0h0m9 0h0m-105 1h0m9 0h0m4 0h0m6 0h0m3 0h0m3 0h1m2 0h1m3 0h0m4 0h2m2 0h29m2 0h6m5 0h1m2 0h0m3 0h0m-84 1h0m9 0h0m12 0h0m5 0h2m2 0h40m2 0h0m2 0h0m7 0h0m6 0h0m12 0h0m-98 1h0m2 0h0m6 0h0m2 0h0m4 0h0m2 0h1m2 0h3m3 0h0m3 0h28m2 0h9m2 0h0m2 0h1m3 0h0m2 0h0m2 0h0m-81 1h0m9 0h0m5 0h0m8 0h0m2 0h3m3 0h16m2 0h13m3 0h2m8 0h1m5 0h0m2 0h0m5 0h0m4 0h0m-87 1h0m9 0h0m7 0h0m2 0h0m2 0h1m2 0h1m3 0h3m2 0h2m2 0h10m2 0h1m2 0h2m2 0h1m2 0h1m3 0h2m2 0h2m2 0h1m2 0h0m3 0h1m2 0h0m2 0h0m5 0h0m5 0h0m-107 1h0m16 0h0m7 0h0m3 0h0m4 0h0m3 0h2m2 0h0m4 0h0m3 0h0m2 0h10m2 0h5m2 0h12m2 0h0m4 0h0m2 0h0m3 0h1m2 0h0m3 0h1m7 0h0m7 0h0m-118 1h0m31 0h0m3 0h0m2 0h0m3 0h0m2 0h0m2 0h0m2 0h0m3 0h2m2 0h13m2 0h18m8 0h0m6 0h0m4 0h1m31 0h0m-120 1h0m5 0h0m8 0h0m2 0h1m10 0h0m4 0h3m2 0h34m2 0h0m7 0h1m5 0h0m-89 1h0m21 0h0m4 0h0m5 0h1m3 0h7m2 0h5m3 0h2m2 0h2m2 0h3m2 0h2m3 0h2m2 0h4m5 0h0m4 0h2m4 0h0m-92 1h0m23 0h0m4 0h2m4 0h2m2 0h1m3 0h0m3 0h31m3 0h1m5 0h0m3 0h0m4 0h0m-62 1h12m2 0h0m2 0h5m2 0h0m3 0h11m4 0h0m2 0h1m2 0h0m2 0h2m2 0h0m10 0h0m3 0h0m-75 1h1m4 0h0m2 0h0m4 0h2m3 0h3m2 0h13m2 0h15m4 0h2m2 0h0m3 0h0m6 0h1m-82 1h0m5 0h0m3 0h0m6 0h1m8 0h0m2 0h0m2 0h2m3 0h7m4 0h5m3 0h3m2 0h0m2 0h7m2 0h0m4 0h2m2 0h0m2 0h0m3 0h0m9 0h0m7 0h0m-86 1h0m12 0h0m2 0h0m3 0h8m2 0h3m2 0h9m3 0h1m2 0h0m2 0h1m2 0h1m6 0h2m4 0h0m-72 1h0m2 0h0m6 0h1m5 0h0m4 0h0m4 0h2m2 0h0m2 0h2m2 0h4m2 0h0m2 0h6m2 0h4m2 0h2m2 0h1m5 0h0m4 0h0m2 0h0m2 0h0m-77 1h0m7 0h0m5 0h0m3 0h0m6 0h0m3 0h0m3 0h0m2 0h2m2 0h3m2 0h1m2 0h0m2 0h0m2 0h5m2 0h3m3 0h0m3 0h0m3 0h0m3 0h0m2 0h1m2 0h1m3 0h0m4 0h0m8 0h0m-88 1h0m6 0h0m7 0h0m6 0h1m2 0h1m2 0h0m2 0h3m3 0h1m2 0h1m3 0h3m2 0h4m2 0h0m2 0h1m4 0h0m3 0h0m3 0h2m2 0h0m2 0h0m4 0h0m3 0h0m11 0h0m-88 1h0m3 0h0m5 0h0m2 0h0m3 0h0m8 0h0m9 0h1m2 0h1m4 0h3m2 0h3m2 0h0m2 0h1m4 0h1m2 0h0m3 0h0m5 0h0m5 0h0m2 0h0m6 0h0m-73 1h0m4 0h1m3 0h1m8 0h1m4 0h0m2 0h2m2 0h0m3 0h0m2 0h0m4 0h1m2 0h3m2 0h0m2 0h0m20 0h0m2 0h0m2 0h0m-85 1h0m10 0h1m11 0h0m6 0h2m2 0h0m3 0h0m2 0h1m4 0h3m3 0h0m2 0h2m3 0h0m3 0h1m4 0h0m2 0h0m2 0h0m3 0h0m3 0h0m4 0h0m5 0h0m-68 1h0m9 0h0m10 0h1m2 0h2m4 0h1m4 0h0m2 0h2m3 0h0m2 0h1m2 0h0m4 0h0m2 0h0m3 0h0m4 0h0m9 0h0m43 0h0m-103 1h1m2 0h0m3 0h0m4 0h0m2 0h0m5 0h7m3 0h0m5 0h1m4 0h0m2 0h0m2 0h0m2 0h1m7 0h0m7 0h0m8 0h0m-91 1h0m31 0h0m4 0h1m2 0h0m6 0h1m2 0h2m2 0h0m2 0h2m5 0h1m4 0h1m9 0h0m22 0h0m-70 1h0m10 0h0m7 0h0m4 0h0m2 0h2m2 0h1m7 0h0m2 0h0m9 0h2m-54 1h0m4 0h0m5 0h0m2 0h0m3 0h0m2 0h0m2 0h0m5 0h0m2 0h1m3 0h1m4 0h0m11 0h2m19 0h0m-75 1h0m5 0h1m9 0h0m6 0h0m9 0h0m2 0h0m2 0h0m3 0h0m2 0h0m5 0h1m2 0h0m25 0h0m-81 1h0m6 0h0m13 0h0m4 0h0m4 0h0m2 0h0m6 0h0m5 0h0m2 0h1m2 0h0m9 0h0m4 0h0m8 0h0m4 0h0m-62 1h0m5 0h0m10 0h0m3 0h0m7 0h0m2 0h0m7 0h1m3 0h0m3 0h0m13 0h0m-38 1h0m2 0h0m5 0h0m10 0h0m5 0h0m3 0h0m6 0h1m3 0h0m8 0h0m10 0h0m-58 1h0m9 0h0m4 0h0m3 0h1m3 0h0m19 0h1m31 0h0m-83 1h0m3 0h0m9 0h0m5 0h0m2 0h0m4 0h0m7 0h0m4 0h0m24 0h0m8 0h0m-78 1h0m17 0h0m12 0h0m3 0h1m6 0h0m2 0h0m4 0h1m20 0h1m7 0h0m-71 1h0m31 0h2m3 0h0m3 0h0m8 0h0m2 0h1m8 0h0m24 0h0m-49 1h0m2 0h1m6 0h0m16 0h0m12 0h0m12 0h0m-65 1h0m8 0h0m4 0h0m12 0h0m4 0h0m2 0h0m21 0h0m-75 1h0m2 0h0m30 0h0m5 0h0m3 0h0m8 0h1m14 0h0m-57 1h0m21 0h0m7 0h0m13 0h0m12 0h0m7 0h0m-27 1h0m26 0h0m-60 1h0m31 0h0m12 0h0m-28 1h0m13 0h0m5 0h0m9 0h0m4 0h0m2 0h0m-29 1h0m16 0h0m6 0h0m8 0h0m-24 1h0m16 0h0m2 0h0m-22 1h0m15 0h0m2 0h0m2 0h2m18 0h0m-21 1h0m0 2h0m9 2h0m-17 2h0m-3 1h0m6 0h0m-25 4h0m16 2h0m3 0h0m-19 5h0" stroke="#e04846" stroke-width="1.55" stroke-linecap="square" fill="none"/>
<path d="M308 319h0m22 4h0m-51 3h0m54 0h0m-42 3h0m8 0h0m9 1h0m3 0h0m2 0h0m19 0h1m-42 1h0m23 0h0m3 0h0m-39 1h0m13 0h0m6 0h0m10 0h1m7 0h0m-21 1h0m9 0h0m5 0h0m-28 1h0m7 0h1m26 0h0m-39 1h0m9 0h0m8 0h0m10 0h0m3 0h0m6 0h0m3 0h1m8 0h0m-31 1h0m3 0h0m8 0h0m3 0h0m8 0h0m-24 1h1m3 0h0m2 0h0m3 0h1m6 0h0m6 0h0m5 0h0m16 0h0m-53 1h1m3 0h0m5 0h0m6 0h0m2 0h0m4 0h0m5 0h2m2 0h0m-31 1h0m4 0h1m4 0h1m3 0h1m4 0h1m3 0h2m7 0h0m12 0h0m-52 1h0m8 0h2m2 0h1m2 0h0m2 0h8m4 0h1m8 0h0m4 0h0m21 0h0m-63 1h1m8 0h0m2 0h0m6 0h0m3 0h0m3 0h1m2 0h0m2 0h1m2 0h1m4 0h0m5 0h1m5 0h0m3 0h0m6 0h0m-55 1h1m6 0h1m9 0h1m2 0h0m2 0h0m2 0h0m4 0h0m2 0h1m8 0h1m3 0h0m-43 1h1m5 0h1m5 0h0m2 0h3m2 0h0m4 0h5m3 0h1m3 0h0m3 0h0m3 0h0m-41 1h0m2 0h0m2 0h2m5 0h0m2 0h0m2 0h4m2 0h3m6 0h3m3 0h1m2 0h0m2 0h0m5 0h0m2 0h0m-69 1h0m8 0h0m5 0h1m3 0h1m5 0h0m2 0h2m3 0h4m4 0h0m2 0h0m2 0h4m3 0h0m3 0h0m2 0h0m3 0h1m3 0h0m3 0h1m7 0h1m-55 1h0m2 0h0m2 0h0m2 0h2m2 0h0m2 0h1m2 0h5m2 0h1m3 0h2m2 0h2m2 0h4m2 0h0m2 0h0m3 0h0m2 0h0m4 0h0m10 0h0m-75 1h0m5 0h1m11 0h2m2 0h0m2 0h0m2 0h2m2 0h1m3 0h0m2 0h0m2 0h2m2 0h0m3 0h3m2 0h0m3 0h1m2 0h1m5 0h1m4 0h0m-78 1h0m24 0h0m2 0h2m2 0h0m2 0h1m3 0h3m4 0h1m2 0h1m2 0h0m2 0h1m2 0h5m2 0h2m2 0h0m2 0h0m2 0h3m-68 1h0m9 0h0m6 0h0m3 0h1m3 0h0m3 0h1m2 0h0m2 0h0m2 0h1m3 0h15m2 0h1m2 0h0m4 0h1m2 0h3m2 0h0m3 0h1m3 0h0m-64 1h0m2 0h0m3 0h1m3 0h0m5 0h2m4 0h2m2 0h6m2 0h4m2 0h6m2 0h0m2 0h3m2 0h0m4 0h1m2 0h0m9 0h0m12 0h0m-79 1h1m5 0h0m3 0h2m3 0h17m2 0h1m2 0h12m3 0h1m2 0h1m2 0h0m4 0h1m2 0h0m8 0h0m-72 1h1m2 0h0m2 0h0m4 0h0m2 0h0m2 0h4m2 0h6m2 0h18m2 0h0m5 0h0m4 0h0m-70 1h0m7 0h0m3 0h0m6 0h0m3 0h1m2 0h0m2 0h0m4 0h0m3 0h1m2 0h4m2 0h10m2 0h5m2 0h6m4 0h1m7 0h0m3 0h0m-79 1h0m3 0h0m10 0h1m2 0h0m2 0h1m2 0h0m2 0h30m2 0h0m4 0h0m2 0h0m2 0h0m2 0h0m2 0h1m2 0h0m14 0h0m-109 1h0m29 0h0m5 0h0m2 0h0m5 0h0m2 0h3m2 0h34m2 0h5m3 0h0m2 0h3m4 0h0m-78 1h1m7 0h0m6 0h0m5 0h7m2 0h23m2 0h7m2 0h1m4 0h0m3 0h3m3 0h0m2 0h0m-82 1h0m2 0h0m2 0h0m5 0h2m4 0h1m4 0h0m3 0h6m2 0h0m2 0h29m2 0h2m4 0h0m6 0h0m7 0h0m3 0h0m-89 1h0m22 0h0m5 0h3m2 0h3m2 0h24m2 0h7m2 0h2m10 0h0m-84 1h0m4 0h1m4 0h0m6 0h0m2 0h0m2 0h3m2 0h2m3 0h3m2 0h25m2 0h5m5 0h1m4 0h1m10 0h0m-93 1h0m18 0h1m3 0h1m3 0h0m4 0h2m5 0h0m2 0h17m2 0h10m3 0h2m2 0h1m2 0h1m6 0h0m2 0h0m5 0h0m-90 1h0m6 0h0m2 0h0m4 0h1m7 0h0m4 0h1m2 0h0m3 0h6m3 0h9m2 0h22m4 0h2m2 0h0m7 0h1m-102 1h0m14 0h0m4 0h0m10 0h0m3 0h2m2 0h1m2 0h2m2 0h38m2 0h4m2 0h4m6 0h0m-78 1h1m2 0h0m3 0h1m2 0h1m6 0h3m2 0h0m3 0h34m2 0h3m3 0h2m2 0h0m2 0h0m3 0h0m2 0h0m2 0h0m-81 1h0m6 0h0m4 0h0m3 0h0m6 0h5m2 0h35m2 0h8m3 0h0m2 0h0m2 0h0m-76 1h0m3 0h0m2 0h0m3 0h3m2 0h1m2 0h1m3 0h0m2 0h42m2 0h0m3 0h1m11 0h0m-84 1h0m5 0h0m3 0h2m2 0h4m3 0h1m3 0h0m2 0h37m2 0h1m5 0h0m2 0h0m4 0h1m2 0h1m-79 1h0m3 0h1m4 0h0m4 0h1m2 0h0m2 0h6m2 0h4m2 0h29m2 0h5m2 0h1m2 0h1m-87 1h0m8 0h0m2 0h0m4 0h1m7 0h0m3 0h11m2 0h2m2 0h34m3 0h0m2 0h2m-90 1h0m11 0h0m2 0h2m7 0h1m2 0h1m3 0h0m2 0h2m2 0h3m3 0h0m2 0h3m2 0h3m2 0h10m3 0h13m2 0h3m2 0h0m2 0h2m6 0h0m-80 1h1m4 0h0m4 0h2m2 0h3m4 0h0m2 0h2m2 0h1m3 0h1m3 0h22m2 0h8m2 0h1m3 0h2m11 0h0m-99 1h0m19 0h0m2 0h1m3 0h0m3 0h0m4 0h8m2 0h12m2 0h7m2 0h14m2 0h2m2 0h0m9 0h1m-83 1h0m5 0h2m3 0h0m2 0h0m4 0h2m2 0h2m2 0h21m2 0h17m2 0h1m3 0h4m2 0h0m4 0h0m5 0h0m-85 1h0m6 0h1m2 0h0m2 0h0m2 0h1m2 0h2m2 0h2m2 0h2m2 0h26m2 0h5m3 0h4m2 0h0m4 0h0m7 0h1m-104 1h0m12 0h0m2 0h0m7 0h0m6 0h0m2 0h0m3 0h0m3 0h1m3 0h2m2 0h2m2 0h16m2 0h5m2 0h2m2 0h7m2 0h2m2 0h0m3 0h0m3 0h0m-70 1h1m2 0h0m2 0h1m3 0h0m2 0h1m2 0h1m3 0h7m2 0h15m2 0h0m2 0h13m2 0h4m4 0h0m4 0h0m6 0h0m-107 1h0m27 0h0m7 0h10m2 0h0m2 0h5m2 0h8m2 0h15m3 0h5m8 0h0m4 0h0m-74 1h1m7 0h1m3 0h0m2 0h2m2 0h7m2 0h16m2 0h6m2 0h1m3 0h8m2 0h2m-87 1h1m10 0h0m9 0h1m2 0h0m5 0h3m2 0h1m3 0h0m2 0h15m2 0h12m3 0h1m3 0h1m-63 1h0m5 0h0m6 0h1m3 0h1m4 0h0m2 0h0m2 0h3m2 0h10m2 0h8m2 0h0m2 0h3m2 0h1m2 0h1m2 0h0m4 0h0m2 0h0m6 0h0m10 0h0m-97 1h0m5 0h0m3 0h0m2 0h0m2 0h0m2 0h1m6 0h0m2 0h1m3 0h8m2 0h0m3 0h6m2 0h6m3 0h0m2 0h10m3 0h1m2 0h2m5 0h0m-64 1h0m3 0h0m3 0h3m3 0h3m2 0h4m2 0h2m2 0h8m2 0h7m4 0h0m2 0h0m3 0h1m4 0h1m8 0h1m2 0h1m9 0h0m-88 1h0m6 0h0m2 0h0m3 0h0m2 0h0m2 0h0m3 0h1m3 0h1m3 0h0m4 0h16m2 0h0m3 0h1m3 0h1m4 0h0m2 0h1m2 0h3m9 0h0m-83 1h0m14 0h0m2 0h0m5 0h4m2 0h8m2 0h18m2 0h2m3 0h2m2 0h1m4 0h0m7 0h0m-80 1h0m12 0h0m2 0h0m2 0h0m3 0h2m2 0h0m2 0h1m2 0h1m3 0h3m3 0h9m2 0h3m4 0h2m6 0h0m2 0h1m10 0h0m4 0h1m-73 1h0m4 0h0m4 0h0m5 0h2m2 0h0m2 0h1m4 0h1m2 0h3m2 0h3m2 0h12m2 0h0m2 0h0m2 0h0m4 0h2m4 0h0m2 0h0m8 0h0m-78 1h0m5 0h0m5 0h1m2 0h1m2 0h2m2 0h0m3 0h1m3 0h0m2 0h1m2 0h1m3 0h2m2 0h3m2 0h0m2 0h3m2 0h0m2 0h1m5 0h0m15 0h1m-65 1h0m7 0h0m2 0h2m2 0h0m2 0h8m2 0h1m2 0h1m3 0h2m5 0h2m2 0h0m2 0h0m3 0h0m3 0h0m4 0h0m12 0h0m-75 1h0m5 0h0m4 0h3m3 0h0m3 0h2m4 0h0m2 0h0m2 0h0m3 0h0m2 0h2m2 0h1m2 0h1m2 0h0m4 0h1m2 0h0m5 0h0m-66 1h0m16 0h0m3 0h1m2 0h0m6 0h0m2 0h2m2 0h1m4 0h4m3 0h3m3 0h1m3 0h0m5 0h2m-48 1h0m4 0h0m7 0h2m2 0h0m4 0h1m2 0h3m2 0h2m2 0h0m2 0h1m3 0h1m4 0h0m2 0h1m8 0h1m-61 1h0m3 0h0m2 0h0m7 0h0m3 0h0m3 0h0m3 0h2m3 0h0m2 0h3m3 0h0m2 0h2m3 0h0m3 0h2m2 0h0m2 0h0m2 0h1m2 0h0m7 0h0m-75 1h0m17 0h0m12 0h0m2 0h1m2 0h3m2 0h3m3 0h0m4 0h1m3 0h0m10 0h0m5 0h0m3 0h0m2 0h0m4 0h0m9 0h0m-66 1h0m8 0h0m3 0h0m2 0h2m2 0h0m2 0h4m3 0h1m2 0h0m5 0h0m2 0h1m5 0h0m6 0h0m9 0h0m2 0h0m-73 1h0m4 0h0m5 0h0m2 0h1m3 0h0m2 0h0m2 0h0m3 0h1m3 0h0m3 0h1m2 0h1m3 0h0m9 0h0m2 0h2m2 0h0m6 0h0m5 0h0m9 0h0m-53 1h0m3 0h0m7 0h1m2 0h2m7 0h1m2 0h0m2 0h0m2 0h0m2 0h1m4 0h1m3 0h0m27 0h0m-77 1h0m7 0h0m5 0h1m2 0h2m14 0h2m2 0h0m3 0h1m2 0h1m2 0h1m13 0h0m6 0h0m-71 1h0m17 0h0m4 0h0m9 0h0m3 0h0m2 0h0m2 0h0m4 0h3m4 0h0m-59 1h0m10 0h0m14 0h0m2 0h1m8 0h0m3 0h0m2 0h0m5 0h0m3 0h0m6 0h0m3 0h1m10 0h0m-52 1h0m3 0h0m5 0h0m8 0h2m4 0h2m3 0h1m6 0h0m9 0h0m3 0h0m10 0h0m2 0h0m-54 1h0m4 0h2m2 0h1m4 0h2m5 0h0m2 0h2m8 0h0m2 0h1m8 0h0m7 0h2m-51 1h1m5 0h0m3 0h1m6 0h1m4 0h1m4 0h0m3 0h0m8 0h0m2 0h0m-50 1h0m15 0h0m7 0h0m2 0h0m13 0h0m-32 1h0m3 0h0m14 0h0m8 0h0m16 0h0m-26 1h0m9 0h0m2 0h0m5 0h0m8 0h0m-30 1h0m2 0h0m5 0h0m17 0h0m2 0h2m-47 1h0m10 0h0m-1 1h0m12 0h0m24 0h0m-41 1h0m15 0h0m12 0h0m4 0h1m4 0h0m-23 1h1m10 0h0m18 0h0m-27 1h0m18 0h0m7 0h0m-14 1h0m18 0h0m-38 1h0m5 0h0m7 0h0m3 0h0m22 0h0m-34 1h0m32 0h0m-44 1h0m3 1h0m7 3h0m11 0h0m25 1h0m-21 2h0m-17 3h0" stroke="#3a2288" stroke-width="1.7" stroke-linecap="square" fill="none"/>
<path d="M327 310h0m10 2h0m-11 2h0m-9 2h0m9 0h0m8 0h1m5 0h0m-51 1h0m47 0h0m8 0h0m-51 1h0m22 0h0m3 0h0m5 0h0m7 0h0m5 1h0m-20 2h0m-18 1h0m5 0h0m5 0h0m6 0h0m9 0h0m-15 1h0m13 0h0m-23 1h0m6 0h0m35 0h0m-45 1h0m3 0h0m12 0h1m2 0h0m4 0h0m21 0h0m5 0h0m-59 1h0m9 0h0m20 0h0m6 0h0m4 0h0m5 0h0m-17 1h0m9 0h0m3 0h0m2 0h0m3 0h0m4 0h0m3 0h0m13 0h0m-65 1h0m9 0h0m5 0h0m6 0h0m6 0h0m4 0h3m7 0h0m3 0h0m2 0h1m2 0h0m14 0h0m-50 1h0m11 0h0m7 0h1m3 0h0m2 0h1m4 0h0m4 0h0m2 0h1m4 0h0m2 0h0m-41 1h0m8 0h0m7 0h0m2 0h0m2 0h0m10 0h1m3 0h0m8 0h0m2 0h0m-61 1h0m8 0h0m5 0h0m4 0h0m2 0h0m5 0h1m2 0h0m5 0h2m9 0h1m3 0h1m4 0h0m12 0h0m4 0h0m-67 1h0m6 0h0m7 0h0m3 0h0m4 0h1m2 0h0m2 0h0m7 0h1m2 0h0m14 0h0m2 0h0m3 0h0m2 0h0m2 0h0m-51 1h0m4 0h0m4 0h0m3 0h0m9 0h0m8 0h1m3 0h0m10 0h0m6 0h0m4 0h0m7 0h0m3 0h0m-66 1h0m7 0h0m3 0h1m6 0h2m4 0h0m2 0h0m2 0h2m7 0h1m2 0h0m6 0h0m5 0h0m9 0h0m-59 1h0m3 0h1m2 0h0m2 0h0m2 0h0m2 0h0m2 0h0m4 0h0m2 0h1m2 0h1m2 0h1m3 0h1m4 0h0m2 0h0m2 0h0m7 0h0m4 0h0m-55 1h0m9 0h0m2 0h0m3 0h1m6 0h0m3 0h2m4 0h3m8 0h0m5 0h0m6 0h1m8 0h0m2 0h0m-79 1h0m18 0h0m6 0h1m5 0h0m3 0h0m2 0h0m5 0h0m4 0h0m3 0h1m2 0h0m2 0h1m2 0h0m3 0h1m5 0h0m4 0h0m2 0h0m-47 1h0m5 0h1m5 0h0m2 0h1m5 0h0m2 0h0m3 0h2m2 0h2m2 0h1m2 0h3m3 0h0m3 0h0m7 0h0m4 0h0m-75 1h0m4 0h0m10 0h3m6 0h1m2 0h0m2 0h0m3 0h0m2 0h2m2 0h2m3 0h0m2 0h4m2 0h1m4 0h0m2 0h2m6 0h2m3 0h0m-67 1h0m8 0h2m3 0h0m4 0h2m3 0h0m2 0h0m4 0h6m2 0h0m3 0h0m4 0h1m2 0h1m3 0h2m3 0h1m2 0h0m3 0h0m2 0h0m3 0h0m6 0h0m4 0h1m-71 1h0m2 0h0m3 0h0m3 0h1m2 0h1m2 0h0m2 0h0m2 0h1m2 0h1m6 0h2m5 0h5m2 0h2m2 0h0m3 0h1m3 0h1m7 0h1m2 0h0m2 0h0m-60 1h0m7 0h0m2 0h2m2 0h2m2 0h0m3 0h2m2 0h0m4 0h5m2 0h0m2 0h3m3 0h0m2 0h0m4 0h0m3 0h0m3 0h0m3 0h0m8 0h0m-84 1h0m3 0h0m9 0h0m4 0h0m7 0h0m3 0h0m2 0h1m3 0h2m3 0h0m2 0h0m2 0h1m3 0h2m2 0h0m3 0h3m2 0h1m5 0h1m4 0h0m4 0h0m3 0h0m12 0h0m-77 1h1m5 0h0m3 0h0m2 0h2m2 0h0m2 0h1m2 0h0m2 0h0m3 0h2m2 0h1m2 0h0m2 0h2m3 0h1m2 0h2m4 0h0m4 0h0m8 0h4m-95 1h0m26 0h0m2 0h0m3 0h0m2 0h0m10 0h1m3 0h1m2 0h0m5 0h0m2 0h0m2 0h4m2 0h10m2 0h0m2 0h2m2 0h0m4 0h2m2 0h0m2 0h0m4 0h0m5 0h0m-87 1h0m8 0h0m4 0h0m3 0h0m5 0h0m2 0h0m3 0h0m3 0h0m2 0h0m2 0h3m2 0h0m3 0h0m3 0h2m3 0h3m2 0h0m2 0h3m2 0h1m3 0h0m2 0h0m2 0h0m3 0h0m3 0h0m16 0h0m2 0h0m-70 1h1m2 0h0m3 0h6m5 0h3m3 0h0m2 0h0m3 0h1m2 0h1m3 0h2m2 0h3m2 0h0m2 0h2m2 0h0m2 0h0m6 0h0m-81 1h1m17 0h0m3 0h0m9 0h1m2 0h0m3 0h0m2 0h4m4 0h1m2 0h0m2 0h0m2 0h2m2 0h2m3 0h5m4 0h0m2 0h0m7 0h0m-76 1h0m15 0h0m3 0h0m4 0h0m2 0h0m5 0h1m2 0h4m2 0h1m2 0h0m2 0h4m2 0h1m3 0h1m2 0h0m3 0h1m3 0h0m2 0h0m2 0h3m2 0h0m2 0h0m3 0h0m6 0h0m-79 1h1m5 0h2m8 0h0m3 0h0m3 0h0m5 0h1m5 0h2m2 0h16m2 0h1m6 0h1m4 0h0m2 0h0m2 0h0m5 0h0m-81 1h0m6 0h0m3 0h0m2 0h0m3 0h3m2 0h1m4 0h0m2 0h2m2 0h2m3 0h0m2 0h0m3 0h2m3 0h0m2 0h1m2 0h3m3 0h0m2 0h1m3 0h1m2 0h1m6 0h0m3 0h0m4 0h0m3 0h0m-95 1h1m3 0h0m2 0h0m7 0h0m3 0h3m5 0h0m6 0h0m3 0h0m2 0h2m3 0h0m3 0h2m2 0h1m2 0h3m2 0h0m2 0h2m3 0h0m4 0h1m2 0h7m7 0h0m13 0h0m-95 1h0m13 0h0m4 0h0m9 0h2m2 0h1m2 0h1m3 0h2m3 0h0m3 0h0m7 0h7m3 0h5m2 0h0m2 0h0m2 0h2m2 0h0m2 0h0m2 0h0m2 0h0m5 0h2m-88 1h2m10 0h0m2 0h0m7 0h2m6 0h3m2 0h0m2 0h1m2 0h0m3 0h2m7 0h0m6 0h0m6 0h0m2 0h0m3 0h1m3 0h0m2 0h1m2 0h0m3 0h0m3 0h0m4 0h0m7 0h0m-89 1h0m7 0h0m5 0h0m2 0h0m2 0h0m4 0h0m3 0h0m2 0h0m2 0h0m5 0h1m5 0h1m2 0h2m2 0h0m2 0h6m2 0h0m2 0h0m2 0h1m2 0h1m4 0h1m4 0h1m-72 1h0m8 0h1m2 0h3m2 0h0m3 0h4m2 0h1m6 0h0m9 0h0m2 0h0m2 0h0m2 0h0m5 0h5m3 0h4m2 0h0m2 0h2m2 0h0m4 0h2m12 0h0m-93 1h0m2 0h0m8 0h1m2 0h0m2 0h0m2 0h0m3 0h0m2 0h0m4 0h0m3 0h1m4 0h0m10 0h2m2 0h0m3 0h11m2 0h0m2 0h1m2 0h2m2 0h2m3 0h1m4 0h0m5 0h1m-107 1h0m22 0h0m2 0h0m4 0h3m6 0h0m3 0h0m2 0h1m3 0h0m3 0h0m7 0h0m5 0h0m2 0h0m3 0h6m2 0h6m3 0h0m4 0h0m4 0h0m2 0h0m5 0h0m-85 1h0m11 0h1m4 0h1m4 0h2m2 0h1m4 0h1m2 0h0m3 0h0m18 0h0m4 0h0m2 0h5m2 0h0m2 0h0m4 0h0m2 0h0m3 0h0m8 0h0m-101 1h0m9 0h0m6 0h2m6 0h0m2 0h1m2 0h1m4 0h1m2 0h1m5 0h0m2 0h0m3 0h1m19 0h0m2 0h0m2 0h1m4 0h0m2 0h1m2 0h1m5 0h2m2 0h0m3 0h0m4 0h0m4 0h0m-97 1h0m8 0h0m2 0h0m4 0h0m3 0h0m2 0h0m2 0h5m4 0h0m2 0h2m3 0h0m3 0h1m18 0h0m2 0h0m3 0h2m2 0h0m2 0h0m2 0h6m2 0h0m3 0h0m3 0h0m9 0h0m-88 1h1m2 0h0m6 0h0m3 0h2m8 0h0m3 0h0m5 0h0m3 0h0m3 0h0m15 0h1m3 0h0m2 0h1m6 0h2m2 0h1m2 0h0m3 0h0m3 0h0m5 0h0m7 0h0m3 0h0m-84 1h0m7 0h0m3 0h0m2 0h2m4 0h0m7 0h0m18 0h3m2 0h0m2 0h0m2 0h3m3 0h0m2 0h1m2 0h0m3 0h0m3 0h0m2 0h0m4 0h0m2 0h0m9 0h0m-82 1h1m2 0h0m3 0h0m2 0h1m3 0h0m2 0h0m2 0h0m2 0h0m3 0h0m19 0h2m5 0h2m3 0h3m6 0h1m2 0h0m15 0h0m-98 1h0m3 0h0m8 0h0m5 0h1m2 0h0m3 0h1m2 0h1m2 0h1m5 0h0m2 0h1m4 0h0m12 0h0m3 0h2m3 0h0m2 0h0m6 0h5m3 0h0m16 0h0m-108 1h0m17 0h0m8 0h1m2 0h1m2 0h0m3 0h1m2 0h0m2 0h1m3 0h1m7 0h0m4 0h0m14 0h1m3 0h2m2 0h2m3 0h2m2 0h3m5 0h0m3 0h1m8 0h0m-100 1h0m12 0h2m7 0h0m7 0h0m2 0h0m5 0h0m3 0h0m3 0h0m5 0h0m2 0h0m19 0h3m2 0h0m4 0h1m2 0h3m2 0h0m2 0h1m2 0h0m5 0h0m2 0h1m-84 1h0m7 0h0m6 0h0m4 0h5m3 0h0m4 0h2m2 0h0m3 0h0m17 0h0m4 0h0m2 0h2m3 0h1m2 0h1m5 0h0m7 0h1m2 0h0m9 0h0m-122 1h0m26 0h0m6 0h1m7 0h0m3 0h1m2 0h0m3 0h0m2 0h0m5 0h0m17 0h0m2 0h0m6 0h0m4 0h1m3 0h0m2 0h1m2 0h3m9 0h1m4 0h0m-90 1h0m3 0h1m4 0h0m6 0h1m8 0h0m10 0h3m19 0h0m2 0h0m8 0h1m2 0h0m2 0h3m3 0h1m9 0h0m6 0h1m4 0h0m-104 1h0m2 0h0m11 0h0m12 0h0m2 0h0m2 0h0m4 0h0m3 0h1m2 0h0m5 0h0m3 0h0m8 0h1m9 0h0m2 0h1m2 0h1m5 0h0m2 0h0m2 0h4m2 0h0m4 0h0m5 0h0m-74 1h0m8 0h1m7 0h0m3 0h0m4 0h1m3 0h0m2 0h2m4 0h0m4 0h0m7 0h0m2 0h4m4 0h0m2 0h0m4 0h0m2 0h0m4 0h0m-98 1h0m17 0h0m15 0h1m2 0h0m2 0h1m4 0h0m2 0h0m3 0h3m3 0h0m2 0h0m3 0h0m5 0h0m2 0h1m3 0h0m5 0h0m2 0h0m3 0h1m3 0h0m4 0h0m2 0h4m7 0h0m-101 1h0m9 0h0m2 0h0m13 0h0m6 0h0m3 0h1m2 0h0m2 0h1m2 0h0m7 0h1m9 0h0m4 0h0m3 0h0m10 0h0m2 0h0m3 0h2m2 0h3m5 0h0m3 0h0m5 0h1m-99 1h0m13 0h0m13 0h0m9 0h0m3 0h0m4 0h0m5 0h0m2 0h0m6 0h0m3 0h2m2 0h0m3 0h2m2 0h0m5 0h0m3 0h2m3 0h3m4 0h1m2 0h0m3 0h0m2 0h0m11 0h0m3 0h0m-99 1h0m8 0h0m7 0h0m3 0h0m2 0h0m3 0h3m7 0h0m3 0h0m5 0h0m3 0h0m2 0h1m4 0h0m6 0h1m2 0h1m2 0h0m5 0h1m2 0h0m4 0h0m2 0h0m2 0h0m7 0h0m4 0h0m-97 1h0m5 0h0m8 0h0m3 0h1m4 0h0m5 0h0m3 0h0m2 0h0m5 0h0m3 0h3m2 0h0m7 0h1m9 0h1m3 0h0m2 0h1m5 0h2m2 0h0m2 0h1m2 0h0m14 0h0m-101 1h0m15 0h0m11 0h0m2 0h2m2 0h0m6 0h0m3 0h3m2 0h0m2 0h0m4 0h1m4 0h0m5 0h0m5 0h1m2 0h0m3 0h3m6 0h0m9 0h0m-87 1h0m10 0h0m5 0h1m4 0h0m5 0h0m3 0h0m2 0h1m3 0h0m3 0h0m2 0h0m2 0h0m2 0h3m3 0h3m3 0h1m2 0h1m4 0h0m2 0h2m4 0h1m3 0h0m2 0h0m3 0h0m3 0h2m18 0h0m-91 1h0m2 0h0m3 0h0m4 0h0m3 0h0m2 0h5m2 0h0m5 0h0m2 0h0m3 0h1m4 0h0m5 0h4m3 0h0m2 0h0m3 0h0m4 0h0m3 0h0m2 0h0m6 0h3m3 0h0m5 0h0m2 0h0m-84 1h0m5 0h0m5 0h5m4 0h0m9 0h0m7 0h0m2 0h0m3 0h3m3 0h0m8 0h3m3 0h0m3 0h1m2 0h0m2 0h0m2 0h0m3 0h0m5 0h0m3 0h0m2 0h0m19 0h0m-116 1h0m10 0h0m11 0h0m4 0h0m2 0h0m3 0h0m5 0h0m3 0h1m7 0h0m2 0h0m2 0h2m3 0h1m4 0h0m6 0h5m2 0h1m6 0h0m6 0h2m-81 1h0m13 0h0m5 0h0m4 0h0m3 0h1m2 0h0m8 0h0m6 0h0m9 0h0m3 0h0m2 0h0m3 0h0m17 0h0m10 0h0m-84 1h0m2 0h0m10 0h0m3 0h0m11 0h0m2 0h0m2 0h0m2 0h0m3 0h0m2 0h0m2 0h1m3 0h0m3 0h0m4 0h1m2 0h0m2 0h0m5 0h1m8 0h0m4 0h0m3 0h0m6 0h0m10 0h0m-98 1h0m5 0h0m23 0h0m3 0h2m4 0h0m3 0h1m4 0h1m3 0h0m5 0h1m3 0h1m19 0h0m8 0h0m2 0h0m-84 1h0m9 0h0m2 0h0m3 0h0m5 0h1m8 0h1m2 0h0m2 0h0m4 0h2m5 0h1m3 0h1m16 0h0m2 0h0m6 0h0m3 0h0m16 0h0m-101 1h0m13 0h0m2 0h0m13 0h0m3 0h0m2 0h0m3 0h0m3 0h1m2 0h4m2 0h0m3 0h1m5 0h2m5 0h1m2 0h1m3 0h0m7 0h0m12 0h0m-64 1h0m5 0h0m2 0h1m4 0h1m2 0h1m6 0h1m3 0h0m2 0h1m2 0h0m2 0h1m5 0h0m3 0h2m8 0h0m2 0h0m-61 1h0m9 0h0m3 0h4m4 0h0m6 0h3m4 0h1m2 0h0m4 0h0m2 0h0m5 0h0m9 0h1m11 0h0m14 0h0m-75 1h0m5 0h0m6 0h2m2 0h1m4 0h0m2 0h1m6 0h0m5 0h1m4 0h0m14 0h0m5 0h0m-56 1h0m2 0h0m6 0h0m6 0h0m2 0h0m2 0h0m3 0h0m6 0h3m3 0h2m4 0h0m2 0h0m4 0h0m4 0h0m8 0h0m3 0h0m-86 1h0m29 0h0m2 0h1m4 0h0m4 0h1m5 0h3m3 0h0m3 0h1m3 0h0m6 0h0m2 0h0m10 0h1m-62 1h0m2 0h0m3 0h0m3 0h0m4 0h1m2 0h1m9 0h1m4 0h0m4 0h0m5 0h0m2 0h0m2 0h0m3 0h0m2 0h0m4 0h0m5 0h0m2 0h0m2 0h1m-50 1h0m5 0h0m7 0h0m3 0h0m4 0h0m5 0h0m48 0h0m-75 1h0m9 0h1m2 0h0m2 0h0m2 0h0m3 0h0m5 0h0m7 0h0m13 0h2m8 0h0m13 0h0m11 0h0m-85 1h0m4 0h1m13 0h1m3 0h2m11 0h0m-39 1h0m5 0h0m2 0h0m2 0h1m4 0h0m3 0h0m2 0h0m4 0h0m2 0h0m4 0h0m3 0h1m3 0h0m5 0h0m9 0h0m7 0h1m-73 1h0m12 0h0m6 0h0m4 0h0m12 0h0m2 0h0m7 0h0m2 0h0m14 0h0m8 0h0m8 0h0m-59 1h0m4 0h0m23 0h0m4 0h0m2 0h0m3 0h1m7 0h0m-20 1h0m4 0h0m5 0h0m2 0h1m8 0h0m-47 1h0m3 0h0m11 0h1m4 0h0m11 0h0m14 0h0m-49 1h0m34 0h0m4 0h0m-36 1h0m16 0h0m3 0h0m4 0h0m-26 1h0m5 0h0m32 0h0m6 0h0m3 0h0m10 0h1m-33 1h0m8 0h0m3 0h0m2 0h1m2 0h0m10 0h0m5 1h0m-37 1h0m8 0h0m12 0h0m-23 1h0m2 1h0m8 0h0m-23 1h0m6 0h1m18 0h0m-23 1h0m35 0h0m-33 1h0m27 0h0m-28 1h0m3 0h0m40 0h0m-43 2h0m28 0h0m14 0h0m-35 1h0m30 1h0m-37 3h0m20 0h0" stroke="#e04846" stroke-width="1.55" stroke-linecap="square" fill="none"/>
<path d="M303 326h0m-29 1h0m21 0h0m-10 1h0m34 1h0m-20 3h0m2 0h0m12 1h0m-22 1h0m-2 1h1m2 0h0m19 0h0m-21 1h0m9 0h0m6 0h0m-40 1h0m21 0h0m6 0h0m9 0h0m2 0h0m-21 1h0m6 0h0m23 0h0m14 0h0m-56 1h0m3 0h0m6 0h0m10 0h0m3 0h0m5 0h0m5 0h0m10 0h0m2 0h0m-38 1h0m16 0h0m5 0h0m2 0h0m4 0h1m12 0h0m24 0h0m-76 1h0m19 0h1m3 0h0m6 0h0m2 0h0m2 0h1m3 0h0m3 0h0m2 0h1m2 0h0m16 0h0m-41 1h0m2 0h2m5 0h0m4 0h2m2 0h0m6 0h1m2 0h0m5 0h1m-48 1h0m4 0h0m13 0h0m4 0h0m6 0h0m2 0h1m2 0h1m2 0h0m2 0h0m2 0h0m7 0h0m-47 1h0m4 0h0m4 0h0m7 0h0m2 0h2m2 0h0m3 0h0m3 0h0m2 0h0m5 0h1m2 0h0m6 0h0m22 0h0m-77 1h0m15 0h0m9 0h5m5 0h0m2 0h0m3 0h5m3 0h2m8 0h1m4 0h1m-43 1h1m6 0h1m2 0h1m2 0h0m4 0h0m3 0h1m2 0h0m2 0h1m11 0h0m2 0h1m4 0h0m-57 1h0m7 0h0m5 0h0m4 0h0m2 0h0m3 0h0m2 0h0m2 0h2m3 0h2m3 0h0m2 0h2m4 0h1m8 0h0m4 0h0m18 0h0m-65 1h1m10 0h0m2 0h0m2 0h0m3 0h2m2 0h1m2 0h0m2 0h0m3 0h0m3 0h0m2 0h1m4 0h0m2 0h1m9 0h0m-66 1h0m14 0h0m4 0h2m4 0h3m2 0h0m4 0h0m3 0h0m4 0h0m2 0h1m3 0h0m2 0h0m3 0h0m6 0h0m4 0h1m5 0h0m-60 1h1m7 0h3m5 0h3m3 0h5m3 0h5m2 0h2m2 0h0m2 0h0m6 0h0m3 0h0m-70 1h0m22 0h0m9 0h1m2 0h1m3 0h1m2 0h0m2 0h0m4 0h0m3 0h14m9 0h0m3 0h1m-67 1h0m4 0h0m5 0h0m2 0h0m3 0h1m5 0h2m2 0h2m2 0h1m3 0h1m2 0h3m2 0h6m5 0h1m2 0h2m2 0h0m2 0h0m5 0h0m-88 1h0m21 0h0m2 0h0m7 0h2m7 0h3m2 0h0m2 0h5m3 0h3m2 0h0m2 0h0m2 0h0m2 0h1m3 0h0m6 0h2m5 0h0m-73 1h0m10 0h0m4 0h0m2 0h0m2 0h0m6 0h0m7 0h2m2 0h3m3 0h0m2 0h0m3 0h1m2 0h2m2 0h1m3 0h0m2 0h0m2 0h2m4 0h1m2 0h0m4 0h0m2 0h0m16 0h0m-68 1h4m3 0h0m2 0h5m2 0h7m2 0h7m3 0h1m2 0h0m2 0h0m4 0h0m-53 1h1m2 0h0m3 0h0m3 0h1m6 0h0m2 0h3m2 0h5m3 0h2m2 0h3m2 0h6m4 0h0m3 0h0m2 0h0m2 0h0m6 0h1m-74 1h0m2 0h0m3 0h0m2 0h0m2 0h0m5 0h0m3 0h0m2 0h1m2 0h1m5 0h1m2 0h0m2 0h7m2 0h3m2 0h2m2 0h0m2 0h4m6 0h2m4 0h0m-76 1h0m11 0h0m2 0h2m4 0h1m2 0h0m5 0h0m2 0h0m3 0h1m4 0h0m2 0h8m2 0h5m2 0h2m2 0h2m4 0h0m2 0h0m5 0h1m6 0h0m4 0h0m-74 1h0m4 0h0m7 0h0m4 0h0m2 0h0m2 0h2m2 0h2m2 0h11m2 0h7m4 0h0m2 0h4m4 0h0m3 0h0m3 0h0m-73 1h0m4 0h0m6 0h0m5 0h0m3 0h0m2 0h0m5 0h1m2 0h0m2 0h2m2 0h23m4 0h2m2 0h0m3 0h1m11 0h0m2 0h0m-67 1h0m5 0h0m2 0h0m2 0h4m3 0h3m2 0h0m2 0h8m2 0h0m2 0h1m2 0h5m3 0h0m2 0h3m4 0h0m6 0h0m-72 1h0m3 0h1m2 0h0m3 0h1m3 0h0m2 0h4m2 0h0m2 0h0m2 0h8m2 0h4m2 0h4m2 0h2m3 0h3m3 0h2m2 0h0m4 0h0m2 0h0m-75 1h0m18 0h5m2 0h9m2 0h9m2 0h2m2 0h4m3 0h3m2 0h1m2 0h0m13 0h0m-75 1h0m3 0h0m2 0h0m5 0h0m2 0h2m2 0h0m3 0h9m2 0h12m2 0h2m3 0h5m2 0h2m6 0h0m2 0h0m13 0h0m-90 1h0m14 0h0m2 0h2m3 0h0m3 0h0m2 0h0m3 0h12m2 0h10m2 0h7m2 0h1m4 0h0m2 0h0m2 0h0m9 0h0m-71 1h1m7 0h0m5 0h2m3 0h3m2 0h0m5 0h19m2 0h2m2 0h3m3 0h0m3 0h2m2 0h2m-72 1h0m3 0h0m4 0h2m2 0h0m2 0h2m2 0h0m4 0h1m2 0h4m2 0h0m2 0h0m2 0h3m2 0h8m2 0h8m2 0h0m2 0h2m3 0h1m-70 1h0m8 0h0m8 0h0m2 0h0m2 0h0m2 0h11m2 0h5m2 0h8m2 0h10m-53 1h0m7 0h0m4 0h8m2 0h7m2 0h5m2 0h5m2 0h0m4 0h0m3 0h2m2 0h2m3 0h0m5 0h0m-92 1h0m27 0h1m2 0h0m7 0h0m3 0h0m2 0h5m2 0h3m2 0h4m2 0h8m3 0h3m2 0h2m3 0h0m4 0h1m-67 1h0m5 0h0m4 0h0m3 0h0m2 0h0m4 0h0m2 0h0m5 0h1m2 0h9m3 0h2m2 0h1m2 0h0m2 0h3m2 0h0m2 0h5m2 0h0m-82 1h0m20 0h0m11 0h1m2 0h0m3 0h2m2 0h0m2 0h6m2 0h2m2 0h14m2 0h2m10 0h0m-80 1h0m16 0h0m3 0h0m3 0h0m2 0h1m4 0h1m3 0h4m3 0h3m2 0h4m3 0h4m3 0h6m4 0h0m2 0h1m3 0h0m7 0h0m-88 1h0m11 0h0m13 0h2m2 0h0m4 0h1m6 0h0m2 0h3m2 0h1m2 0h0m2 0h1m3 0h1m2 0h6m2 0h1m2 0h6m2 0h1m2 0h0m-71 1h0m8 0h0m9 0h0m2 0h2m3 0h0m2 0h2m2 0h3m2 0h11m2 0h0m3 0h4m3 0h0m2 0h0m5 0h4m2 0h0m11 0h0m-74 1h0m9 0h0m4 0h0m2 0h0m8 0h1m2 0h2m3 0h0m2 0h2m2 0h4m2 0h0m4 0h1m2 0h0m2 0h0m2 0h1m2 0h0m-56 1h1m7 0h1m5 0h1m4 0h7m2 0h1m3 0h4m2 0h0m2 0h6m5 0h0m2 0h2m3 0h1m4 0h1m3 0h0m3 0h0m-80 1h0m2 0h0m5 0h0m7 0h0m2 0h0m3 0h3m3 0h3m2 0h0m3 0h0m2 0h4m2 0h0m2 0h6m3 0h1m2 0h0m2 0h2m3 0h3m2 0h2m3 0h0m-69 1h0m6 0h0m2 0h1m2 0h0m7 0h2m2 0h0m2 0h1m2 0h2m4 0h0m2 0h0m3 0h0m3 0h0m2 0h2m2 0h5m5 0h1m15 0h0m-70 1h0m3 0h0m4 0h0m5 0h1m2 0h1m3 0h0m3 0h3m2 0h1m3 0h2m3 0h2m2 0h1m2 0h8m4 0h0m2 0h0m2 0h1m5 0h0m2 0h0m7 0h0m-76 1h0m3 0h0m3 0h1m22 0h0m2 0h0m3 0h0m2 0h2m3 0h0m2 0h3m2 0h0m2 0h0m3 0h2m4 0h0m5 0h0m2 0h0m-74 1h0m12 0h0m9 0h0m3 0h0m4 0h0m2 0h0m6 0h2m2 0h0m2 0h1m2 0h4m2 0h0m2 0h3m2 0h0m4 0h1m6 0h0m-68 1h0m12 0h1m2 0h2m2 0h0m2 0h0m9 0h0m4 0h0m3 0h0m2 0h0m3 0h0m2 0h0m2 0h0m3 0h0m3 0h0m2 0h0m2 0h0m2 0h0m3 0h0m3 0h1m3 0h0m-58 1h0m4 0h1m2 0h3m3 0h5m6 0h0m5 0h0m5 0h0m2 0h2m3 0h5m11 0h0m7 0h1m-66 1h0m11 0h2m2 0h0m6 0h0m4 0h0m4 0h0m2 0h1m4 0h0m2 0h0m4 0h0m5 0h0m2 0h0m3 0h1m3 0h0m3 0h0m2 0h0m3 0h0m9 0h0m-72 1h0m3 0h0m5 0h1m3 0h0m2 0h1m8 0h0m2 0h0m2 0h1m3 0h1m2 0h1m5 0h1m2 0h1m7 0h0m2 0h0m12 0h0m-77 1h0m10 0h0m12 0h1m8 0h0m2 0h2m3 0h1m3 0h0m2 0h2m6 0h1m3 0h1m-52 1h0m7 0h2m3 0h2m3 0h0m2 0h0m4 0h0m2 0h0m5 0h0m4 0h0m3 0h0m2 0h0m3 0h0m3 0h0m4 0h1m3 0h0m3 0h0m8 0h0m7 0h0m-72 1h1m2 0h0m2 0h0m7 0h0m6 0h3m3 0h0m2 0h1m2 0h0m2 0h2m2 0h1m4 0h0m5 0h0m2 0h0m3 0h0m2 0h0m3 0h0m-47 1h0m18 0h0m8 0h0m4 0h0m2 0h0m2 0h2m6 0h0m8 0h0m-62 1h0m15 0h1m5 0h0m3 0h0m4 0h1m2 0h1m2 0h0m8 0h0m3 0h0m2 0h0m25 0h0m-59 1h0m5 0h0m12 0h1m4 0h0m2 0h0m2 0h2m5 0h0m5 0h0m2 0h0m2 0h0m5 0h0m-52 1h0m12 0h0m2 0h0m3 0h0m8 0h0m2 0h0m2 0h2m3 0h0m4 0h1m3 0h1m6 0h0m-57 1h0m25 0h1m3 0h0m4 0h2m8 0h2m10 0h0m5 0h0m-68 1h0m8 0h0m14 0h2m3 0h0m14 0h0m3 0h1m2 0h0m6 0h0m5 0h0m-29 1h0m2 0h0m15 0h1m4 0h0m17 0h0m-55 1h0m2 0h0m15 0h0m4 0h1m7 0h0m8 0h0m7 0h0m9 0h0m-58 1h0m20 0h0m17 0h1m15 0h0m-58 1h0m6 0h0m35 0h0m7 0h0m-23 1h0m8 0h0m4 0h0m2 0h0m37 0h0m-69 1h0m7 0h0m13 0h0m-26 1h0m22 0h0m6 0h1m6 0h0m8 0h0m2 0h0m-44 1h0m4 0h0m8 0h1m9 0h0m6 0h0m10 0h0m25 0h0m-53 1h0m12 0h0m33 0h1m-46 1h0m33 0h0m-34 1h0m17 0h0m-12 1h0m8 0h0m-19 1h0m12 0h0m4 0h0m41 0h0m-41 1h0m8 0h0m19 0h0m-53 2h0m17 0h0m2 0h0m3 0h0m8 0h0m3 1h0m15 0h0m-21 1h0m8 9h0m-20 4h0" stroke="#3a2288" stroke-width="1.7" stroke-linecap="square" fill="none"/>
</g>
<path d="M204.4 284.4H349.2V428.2" stroke="#777" stroke-width="1.4" fill="none"/>
<path d="M204.4 283.7V428.2H349.7" stroke="#222" stroke-width="1.3" fill="none"/>
<path d="M202.4 428.2H204.4M202.4 424.7H204.4M200.9 421.6H204.4M202.4 400.9H204.4M202.4 388.9H204.4M202.4 380.3H204.4M202.4 373.7H204.4M202.4 368.2H204.4M202.4 363.6H204.4M202.4 359.6H204.4M202.4 356.1H204.4M200.9 353.0H204.4M202.4 332.3H204.4M202.4 320.3H204.4M202.4 311.7H204.4M202.4 305.1H204.4M202.4 299.6H204.4M202.4 295.0H204.4M202.4 291.0H204.4M202.4 287.5H204.4M200.9 284.4H204.4M205.2 428.2V430.2M211.0 428.2V430.2M215.7 428.2V430.2M219.7 428.2V430.2M223.2 428.2V430.2M226.3 428.2V430.2M229.0 428.2V431.7M247.0 428.2V430.2M257.5 428.2V430.2M265.0 428.2V430.2M270.8 428.2V430.2M275.5 428.2V430.2M279.5 428.2V430.2M283.0 428.2V430.2M286.1 428.2V430.2M288.8 428.2V431.7M306.8 428.2V430.2M317.3 428.2V430.2M324.8 428.2V430.2M330.6 428.2V430.2M335.3 428.2V430.2M339.3 428.2V430.2M342.8 428.2V430.2M345.9 428.2V430.2" stroke="#222" stroke-width="1.1" fill="none"/>
<text x="197.5" y="288.9" font-size="8" fill="#1a1a1a" stroke="#1a1a1a" stroke-width="0.1" text-anchor="end">10<tspan font-size="5.6" dy="-3">5</tspan></text>
<text x="197.5" y="357.5" font-size="8" fill="#1a1a1a" stroke="#1a1a1a" stroke-width="0.1" text-anchor="end">10<tspan font-size="5.6" dy="-3">4</tspan></text>
<text x="197.5" y="426.1" font-size="8" fill="#1a1a1a" stroke="#1a1a1a" stroke-width="0.1" text-anchor="end">10<tspan font-size="5.6" dy="-3">3</tspan></text>
<text x="223.2" y="443.1" font-size="8" fill="#1a1a1a" stroke="#1a1a1a" stroke-width="0.1">10<tspan font-size="5.6" dy="-3">3</tspan></text>
<text x="283.0" y="443.1" font-size="8" fill="#1a1a1a" stroke="#1a1a1a" stroke-width="0.1">10<tspan font-size="5.6" dy="-3">4</tspan></text>
<text x="93" y="245.2" font-size="9.3" fill="#1a1a1a" stroke="#1a1a1a" stroke-width="0.5" textLength="19" lengthAdjust="spacingAndGlyphs">FSC-A</text>
<text transform="translate(8.6 156.5) rotate(-90)" font-size="9.3" fill="#1a1a1a" stroke="#1a1a1a" stroke-width="0.5" textLength="18.4" lengthAdjust="spacingAndGlyphs">SSC-A</text>
<text x="254.7" y="245.2" font-size="9.6" fill="#443c96" stroke="#443c96" stroke-width="0.1" font-style="italic" textLength="89.3" lengthAdjust="spacingAndGlyphs">Age-tracked platelets</text>
<text x="350.3" y="245.2" font-size="9.6" fill="#e2343a" stroke="#e2343a" stroke-width="0.1" font-style="italic" textLength="108.7" lengthAdjust="spacingAndGlyphs">Global platelet population</text>
<path d="M396.6 296V421.5H520" stroke="#222" stroke-width="1.3" fill="none"/>
<text x="391.0" y="301.6" font-size="7.8" fill="#1a1a1a" stroke="#1a1a1a" stroke-width="0.1" text-anchor="end">1.5</text>
<text x="391.0" y="338.4" font-size="7.8" fill="#1a1a1a" stroke="#1a1a1a" stroke-width="0.1" text-anchor="end">1.2</text>
<text x="391.0" y="375.2" font-size="7.8" fill="#1a1a1a" stroke="#1a1a1a" stroke-width="0.1" text-anchor="end">0.9</text>
<text x="391.0" y="412.0" font-size="7.8" fill="#1a1a1a" stroke="#1a1a1a" stroke-width="0.1" text-anchor="end">0.6</text>
<text x="409.1" y="434.8" font-size="7.3" fill="#1a1a1a" stroke="#1a1a1a" stroke-width="0.1" text-anchor="middle">1</text>
<text x="433.5" y="434.8" font-size="7.3" fill="#1a1a1a" stroke="#1a1a1a" stroke-width="0.1" text-anchor="middle">2</text>
<text x="457.8" y="434.8" font-size="7.3" fill="#1a1a1a" stroke="#1a1a1a" stroke-width="0.1" text-anchor="middle">3</text>
<text x="482.2" y="434.8" font-size="7.3" fill="#1a1a1a" stroke="#1a1a1a" stroke-width="0.1" text-anchor="middle">4</text>
<text x="506.5" y="434.8" font-size="7.3" fill="#1a1a1a" stroke="#1a1a1a" stroke-width="0.1" text-anchor="middle">5</text>
<path d="M393.6 298.9H396.6M393.6 335.7H396.6M393.6 372.5H396.6M393.6 409.3H396.6M409.1 421.5V424.5M433.5 421.5V424.5M457.8 421.5V424.5M482.2 421.5V424.5M506.5 421.5V424.5" stroke="#222" stroke-width="1.1" fill="none"/>
<text x="452.6" y="446.6" font-size="8.6" fill="#1a1a1a" stroke="#1a1a1a" stroke-width="0.45" textLength="10.8" lengthAdjust="spacingAndGlyphs">Day</text>
<path d="M398 360.5H520" stroke="#222" stroke-width="1" stroke-dasharray="1 1" fill="none"/>
<path d="M409 328V321.5H482.5V368" stroke="#2a2a2a" stroke-width="1" fill="none"/>
<text x="444.9" y="319.5" font-size="7" fill="#1a1a1a" stroke="#1a1a1a" stroke-width="0.1" text-anchor="middle">*</text>
<path d="M457.8 363.9V373.7M455.5 363.9h4.6M455.5 373.7h4.6M482.2 373.7V386.0M479.9 373.7h4.6M479.9 386.0h4.6M506.5 363.9V373.7M504.2 363.9h4.6M504.2 373.7h4.6" stroke="#2c2c2c" stroke-width="1.15" fill="none"/>
<polyline points="409.1,335.7 433.5,355.3 457.8,368.8 482.2,379.9 506.5,368.8" stroke="#b8112f" stroke-width="1.35" fill="none"/>
<circle cx="409.1" cy="335.7" r="2.3" fill="#b8112f"/>
<circle cx="433.5" cy="355.3" r="2.3" fill="#b8112f"/>
<circle cx="457.8" cy="368.8" r="2.3" fill="#b8112f"/>
<circle cx="482.2" cy="379.9" r="2.3" fill="#b8112f"/>
<circle cx="506.5" cy="368.8" r="2.3" fill="#b8112f"/>
<text transform="translate(372.9 416.7) rotate(-90)" font-size="9.2" fill="#1a1a1a" stroke="#1a1a1a" stroke-width="0.4" textLength="114.8" lengthAdjust="spacingAndGlyphs">Geomean FSC-A (ratio <tspan fill="#443c96" stroke="#443c96">tracked</tspan>:<tspan fill="#e2343a" stroke="#e2343a">global</tspan>)</text>
<path d="M38.6 480.6V641.2H197" stroke="#222" stroke-width="1.3" fill="none"/>
<text x="32.4" y="643.1" font-size="7.7" fill="#1a1a1a" stroke="#1a1a1a" stroke-width="0.1" text-anchor="end">3</text>
<text x="32.4" y="611.6" font-size="7.7" fill="#1a1a1a" stroke="#1a1a1a" stroke-width="0.1" text-anchor="end">4</text>
<text x="32.4" y="580.1" font-size="7.7" fill="#1a1a1a" stroke="#1a1a1a" stroke-width="0.1" text-anchor="end">5</text>
<text x="32.4" y="548.5" font-size="7.7" fill="#1a1a1a" stroke="#1a1a1a" stroke-width="0.1" text-anchor="end">6</text>
<text x="32.4" y="517.0" font-size="7.7" fill="#1a1a1a" stroke="#1a1a1a" stroke-width="0.1" text-anchor="end">7</text>
<text x="32.4" y="485.5" font-size="7.7" fill="#1a1a1a" stroke="#1a1a1a" stroke-width="0.1" text-anchor="end">8</text>
<path d="M35.4 641.0H38.6M35.4 609.5H38.6M35.4 578.0H38.6M35.4 546.4H38.6M35.4 514.9H38.6M35.4 483.4H38.6M84.2 641.2V644.2M151.8 641.2V644.2" stroke="#222" stroke-width="1.1" fill="none"/>
<text x="51.2" y="655" font-size="8" fill="#1a1a1a" stroke="#1a1a1a" stroke-width="0.1" textLength="66.2" lengthAdjust="spacingAndGlyphs">Young (&lt;24 hours)</text>
<text x="126.6" y="655" font-size="8" fill="#1a1a1a" stroke="#1a1a1a" stroke-width="0.1" textLength="50.6" lengthAdjust="spacingAndGlyphs">Old (1-5 days)</text>
<text transform="translate(21.3 588.6) rotate(-90)" font-size="8.3" fill="#1a1a1a" stroke="#1a1a1a" stroke-width="0.3" textLength="56" lengthAdjust="spacingAndGlyphs">Platelet area (µm<tspan font-size="5.3" dy="-3">2</tspan><tspan dy="3">)</tspan></text>
<path d="M84.2 504.5V487.7H151.8V492.3" stroke="#333" stroke-width="1" fill="none"/>
<text x="118.2" y="485.4" font-size="7.8" fill="#1a1a1a" stroke="#1a1a1a" stroke-width="0.1" text-anchor="middle">ns</text>
<path d="M84.2 509.1h0M84.2 528.8h0M84.2 533.3h0M84.2 538.8h0M84.2 541.6h0M84.2 545.5h0M84.2 551.6h0M84.2 555.9h0M84.2 558.9h0M84.2 560.5h0M84.2 562.3h0M84.2 565.5h0M84.2 567.8h0M84.2 571.9h0M84.2 573.3h0M84.2 577.4h0M84.2 582.4h0M84.2 584.2h0M84.2 586h0M84.2 589.7h0M84.2 591.5h0M84.2 593.4h0M84.2 595.2h0M84.2 597h0M84.2 598.8h0M84.2 602.7h0M84.2 608.5h0M84.2 610.8h0" stroke="#1d4a78" stroke-width="2.4" stroke-linecap="round" fill="none"/>
<path d="M151.8 496.2h0M151.8 506.6h0M151.8 522.9h0M151.8 527.9h0M151.8 531.1h0M151.8 548.9h0M151.8 552.5h0M151.8 558.7h0M151.8 560.1h0M151.8 563.7h0M151.8 564.6h0M151.8 567.4h0M151.8 569.2h0M151.8 571h0M151.8 572.9h0M151.8 574.2h0M151.8 577h0M151.8 581.1h0M151.8 582h0M151.8 587.9h0M151.8 589.7h0M151.8 591.6h0M151.8 593.4h0M151.8 595.2h0M151.8 597.5h0M151.8 598.9h0M151.8 604.4h0M151.8 613.7h0" stroke="#a8123a" stroke-width="2.4" stroke-linecap="round" fill="none"/>
<path d="M61.3 570.1H106.2" stroke="#44709c" stroke-width="1.4" fill="none"/>
<path d="M72 565.4H95.4M72 574.9H95.4" stroke="#3e6a98" stroke-width="1.25" fill="none"/>
<path d="M128.6 570.7H174.5" stroke="#cc1f4a" stroke-width="1.4" fill="none"/>
<path d="M139.8 566H163M139.8 575.4H163" stroke="#a8183e" stroke-width="1.3" fill="none"/>
<rect x="222" y="489" width="154.8" height="154" fill="#0b0b0d"/>
<defs><filter id="bl" x="-20%" y="-20%" width="140%" height="140%"><feGaussianBlur stdDeviation="0.7"/></filter><filter id="bl2" x="-50%" y="-50%" width="200%" height="200%"><feGaussianBlur stdDeviation="1.1"/></filter></defs>
<g filter="url(#bl)">
<ellipse cx="253.5" cy="498.7" rx="7.6" ry="5.6" fill="#17123e" stroke="#5046a8" stroke-width="1.2"/>
<ellipse cx="287.6" cy="533.4" rx="4.4" ry="5.2" fill="#2e1658" stroke="#8a66c8" stroke-width="1.2"/>
<ellipse cx="300.3" cy="526.7" rx="4.0" ry="4.6" fill="#4a1a66" stroke="#9a50b8" stroke-width="1.2"/>
<ellipse cx="253.4" cy="543.1" rx="5.0" ry="4.6" fill="#2e1454" stroke="#a050c0" stroke-width="1.2"/>
<ellipse cx="239.5" cy="548.8" rx="6.1" ry="3.3" transform="rotate(-65 239.5 548.8)" fill="#140f40" stroke="#4a42b0" stroke-width="1.2"/>
<ellipse cx="259.7" cy="554.0" rx="5.0" ry="6.1" transform="rotate(-10 259.7 554.0)" fill="#171246" stroke="#4a42b0" stroke-width="1.2"/>
<ellipse cx="249.3" cy="560.4" rx="6.1" ry="6.6" fill="#2a1040" stroke="#8a40b0" stroke-width="1.2"/>
<ellipse cx="277.9" cy="551.8" rx="5.2" ry="6.1" fill="#150f40" stroke="#4a42b8" stroke-width="1.2"/>
<ellipse cx="277.1" cy="564.0" rx="4.8" ry="3.1" fill="#201454" stroke="#6450c0" stroke-width="1.2"/>
<ellipse cx="303.5" cy="558.5" rx="6.5" ry="4.0" fill="#2e1a66" stroke="#7054c0" stroke-width="1.2"/>
<ellipse cx="321.2" cy="518.8" rx="10.5" ry="5.0" transform="rotate(52 321.2 518.8)" fill="#16114a" stroke="#4640aa" stroke-width="1.2"/>
<ellipse cx="314.4" cy="533.8" rx="5.6" ry="8.4" fill="#170e46" stroke="#7056b8" stroke-width="1.2"/>
<ellipse cx="347.3" cy="532.7" rx="6.1" ry="9.4" fill="#260e50" stroke="#5448b8" stroke-width="1.2"/>
<ellipse cx="332.3" cy="551.7" rx="8.5" ry="2.8" transform="rotate(-15 332.3 551.7)" fill="#5438b0" stroke="#7256c8" stroke-width="1.2"/>
<ellipse cx="279.7" cy="594.2" rx="6.8" ry="5.3" fill="#140e38" stroke="#5e4ab0" stroke-width="1.2"/>
<ellipse cx="235.5" cy="631.7" rx="8.8" ry="3.8" transform="rotate(-45 235.5 631.7)" fill="#701a70" stroke="#6a3cc0" stroke-width="1.2"/>
<ellipse cx="368.5" cy="620.5" rx="5.8" ry="7.6" fill="#4c0c38" stroke="#801450" stroke-width="1.2"/>
<ellipse cx="253.4" cy="540.5" rx="3.4" ry="1.8" fill="#d040b0" opacity="0.7" filter="url(#bl2)"/>
<ellipse cx="247.5" cy="557.5" rx="2.6" ry="2.2" fill="#c03090" opacity="0.6" filter="url(#bl2)"/>
<ellipse cx="252.0" cy="564.5" rx="3.0" ry="1.8" fill="#b02070" opacity="0.6" filter="url(#bl2)"/>
<ellipse cx="311.0" cy="539.0" rx="3.4" ry="2.8" fill="#f03898" opacity="0.85" filter="url(#bl2)"/>
<ellipse cx="345.5" cy="530.0" rx="4.6" ry="5.6" fill="#ff2060" opacity="0.9" filter="url(#bl2)"/>
<ellipse cx="348.5" cy="539.5" rx="2.4" ry="1.6" fill="#d02a80" opacity="0.6" filter="url(#bl2)"/>
<ellipse cx="236.5" cy="630.5" rx="5.5" ry="2.4" fill="#d82088" opacity="0.8" filter="url(#bl2)"/>
<ellipse cx="368.5" cy="619.5" rx="4.6" ry="6.2" fill="#e81a64" opacity="0.85" filter="url(#bl2)"/>
<ellipse cx="300.3" cy="527.5" rx="2.5" ry="2.5" fill="#b048b8" opacity="0.6" filter="url(#bl2)"/>
</g>
<rect x="349" y="633.8" width="24" height="1.5" fill="#f0f0f0"/>
</svg>
</body></html>
